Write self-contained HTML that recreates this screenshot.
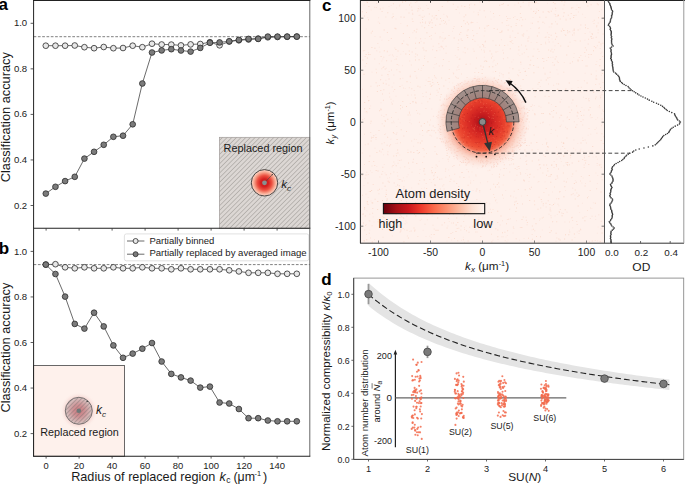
<!DOCTYPE html>
<html><head><meta charset="utf-8"><style>
html,body{margin:0;padding:0;background:#fff;}
body{width:685px;height:484px;overflow:hidden;}
svg{display:block;}
</style></head><body>
<svg width="685" height="484" viewBox="0 0 685 484" font-family='"Liberation Sans", sans-serif'>
<defs>
<pattern id="hatchA" patternUnits="userSpaceOnUse" width="3.3" height="3.3" patternTransform="rotate(45)">
<rect width="3.3" height="3.3" fill="#dcd7d4"/><line x1="0.3" y1="0" x2="0.3" y2="3.3" stroke="#8e8986" stroke-width="0.5"/></pattern>
<pattern id="hatchB" patternUnits="userSpaceOnUse" width="3.0" height="3.0" patternTransform="rotate(45)">
<line x1="0.3" y1="0" x2="0.3" y2="3.0" stroke="#746a6a" stroke-width="0.5"/></pattern>
<radialGradient id="spot" cx="0.5" cy="0.5" r="0.5">
<stop offset="0" stop-color="#c41a1c"/><stop offset="0.3" stop-color="#d42020"/><stop offset="0.55" stop-color="#ec5040"/><stop offset="0.8" stop-color="#f8a890"/><stop offset="1" stop-color="#fcdccf"/></radialGradient>
<radialGradient id="spotB" cx="0.5" cy="0.5" r="0.5">
<stop offset="0" stop-color="#d83038"/><stop offset="0.3" stop-color="#e06068"/><stop offset="0.55" stop-color="#eca8a8"/><stop offset="0.72" stop-color="#f6d8d4"/><stop offset="1" stop-color="#fef1ec" stop-opacity="0"/></radialGradient>
<radialGradient id="cloud" cx="0.5" cy="0.5" r="0.5">
<stop offset="0.000" stop-color="#a81419"/><stop offset="0.083" stop-color="#b5161b"/><stop offset="0.167" stop-color="#c71d1f"/><stop offset="0.250" stop-color="#d42723"/><stop offset="0.354" stop-color="#df3327"/><stop offset="0.458" stop-color="#e8412d"/><stop offset="0.542" stop-color="#ee5136"/><stop offset="0.604" stop-color="#f26a4d"/><stop offset="0.646" stop-color="#f59a84"/><stop offset="0.708" stop-color="#f9bfae"/><stop offset="0.792" stop-color="#fcd9cd"/><stop offset="0.896" stop-color="#fde9e2"/><stop offset="1" stop-color="#fef1ec" stop-opacity="0"/></radialGradient>
<linearGradient id="cbar" x1="0" x2="1" y1="0" y2="0">
<stop offset="0" stop-color="#67000d"/><stop offset="0.125" stop-color="#a50f15"/><stop offset="0.25" stop-color="#cb181d"/><stop offset="0.375" stop-color="#ef3b2c"/><stop offset="0.5" stop-color="#fb6a4a"/><stop offset="0.625" stop-color="#fc9272"/><stop offset="0.75" stop-color="#fcbba1"/><stop offset="0.875" stop-color="#fee0d2"/><stop offset="1" stop-color="#fff5f0"/></linearGradient>
</defs>
<rect width="685" height="484" fill="#ffffff"/>
<rect x="219.4" y="137.3" width="90.4" height="91" fill="url(#hatchA)" stroke="#a09b99" stroke-width="0.7"/>
<circle cx="264.5" cy="182.8" r="13.2" fill="url(#spot)" stroke="#1e1e1e" stroke-width="0.8"/>
<line x1="264.5" y1="182.8" x2="272.3" y2="174.6" stroke="#444" stroke-width="0.6" />
<circle cx="272.3" cy="174.6" r="0.7" fill="#333"/>
<circle cx="264.5" cy="182.8" r="2.4" fill="#889090"/>
<text x="223.6" y="151.8" font-size="10.7" text-anchor="start" font-weight="normal" font-style="normal" fill="#1a1a1a" textLength="79" lengthAdjust="spacingAndGlyphs" >Replaced region</text>
<text x="281.3" y="187.7" font-size="11.7" text-anchor="start" font-weight="normal" font-style="italic" fill="#1a1a1a" >k</text>
<text x="287.1" y="190.6" font-size="8" text-anchor="start" font-weight="normal" font-style="italic" fill="#1a1a1a" >c</text>
<line x1="33.6" y1="36.7" x2="309.8" y2="36.7" stroke="#555" stroke-width="0.75" stroke-dasharray="2.7,1.6"/>
<polyline points="45.8,45.7 55.45,45.7 65.11,45.7 74.76,45.5 84.42,47.2 94.07,48.2 103.72,47 113.38,48.2 123.03,48 132.69,45.7 142.34,47.2 151.99,43.7 161.65,44.5 171.3,44.6 180.96,45.4 190.61,44.4 200.26,44 209.92,42.2 219.57,45.3 229.23,41.5 238.88,40.3 248.53,39.5 258.19,38.6 267.84,37.3 277.5,37 287.15,36.8 296.8,36.6" fill="none" stroke="#3a3a3a" stroke-width="0.75" />
<circle cx="45.8" cy="45.7" r="2.85" fill="#e7e7e7" stroke="#2b2b2b" stroke-width="0.8"/>
<circle cx="55.45" cy="45.7" r="2.85" fill="#e7e7e7" stroke="#2b2b2b" stroke-width="0.8"/>
<circle cx="65.11" cy="45.7" r="2.85" fill="#e7e7e7" stroke="#2b2b2b" stroke-width="0.8"/>
<circle cx="74.76" cy="45.5" r="2.85" fill="#e7e7e7" stroke="#2b2b2b" stroke-width="0.8"/>
<circle cx="84.42" cy="47.2" r="2.85" fill="#e7e7e7" stroke="#2b2b2b" stroke-width="0.8"/>
<circle cx="94.07" cy="48.2" r="2.85" fill="#e7e7e7" stroke="#2b2b2b" stroke-width="0.8"/>
<circle cx="103.72" cy="47" r="2.85" fill="#e7e7e7" stroke="#2b2b2b" stroke-width="0.8"/>
<circle cx="113.38" cy="48.2" r="2.85" fill="#e7e7e7" stroke="#2b2b2b" stroke-width="0.8"/>
<circle cx="123.03" cy="48" r="2.85" fill="#e7e7e7" stroke="#2b2b2b" stroke-width="0.8"/>
<circle cx="132.69" cy="45.7" r="2.85" fill="#e7e7e7" stroke="#2b2b2b" stroke-width="0.8"/>
<circle cx="142.34" cy="47.2" r="2.85" fill="#e7e7e7" stroke="#2b2b2b" stroke-width="0.8"/>
<circle cx="151.99" cy="43.7" r="2.85" fill="#e7e7e7" stroke="#2b2b2b" stroke-width="0.8"/>
<circle cx="161.65" cy="44.5" r="2.85" fill="#e7e7e7" stroke="#2b2b2b" stroke-width="0.8"/>
<circle cx="171.3" cy="44.6" r="2.85" fill="#e7e7e7" stroke="#2b2b2b" stroke-width="0.8"/>
<circle cx="180.96" cy="45.4" r="2.85" fill="#e7e7e7" stroke="#2b2b2b" stroke-width="0.8"/>
<circle cx="190.61" cy="44.4" r="2.85" fill="#e7e7e7" stroke="#2b2b2b" stroke-width="0.8"/>
<circle cx="200.26" cy="44" r="2.85" fill="#e7e7e7" stroke="#2b2b2b" stroke-width="0.8"/>
<circle cx="209.92" cy="42.2" r="2.85" fill="#e7e7e7" stroke="#2b2b2b" stroke-width="0.8"/>
<circle cx="219.57" cy="45.3" r="2.85" fill="#e7e7e7" stroke="#2b2b2b" stroke-width="0.8"/>
<circle cx="229.23" cy="41.5" r="2.85" fill="#e7e7e7" stroke="#2b2b2b" stroke-width="0.8"/>
<circle cx="238.88" cy="40.3" r="2.85" fill="#e7e7e7" stroke="#2b2b2b" stroke-width="0.8"/>
<circle cx="248.53" cy="39.5" r="2.85" fill="#e7e7e7" stroke="#2b2b2b" stroke-width="0.8"/>
<circle cx="258.19" cy="38.6" r="2.85" fill="#e7e7e7" stroke="#2b2b2b" stroke-width="0.8"/>
<circle cx="267.84" cy="37.3" r="2.85" fill="#e7e7e7" stroke="#2b2b2b" stroke-width="0.8"/>
<circle cx="277.5" cy="37" r="2.85" fill="#e7e7e7" stroke="#2b2b2b" stroke-width="0.8"/>
<circle cx="287.15" cy="36.8" r="2.85" fill="#e7e7e7" stroke="#2b2b2b" stroke-width="0.8"/>
<circle cx="296.8" cy="36.6" r="2.85" fill="#e7e7e7" stroke="#2b2b2b" stroke-width="0.8"/>
<polyline points="45.8,193.6 55.45,186.8 65.11,181.1 74.76,176.8 84.42,158.6 94.07,151.8 103.72,144.8 113.38,136.8 123.03,135.7 132.69,124.3 142.34,83.5 151.99,52.5 161.65,50.4 171.3,49.2 180.96,50.5 190.61,51.6 200.26,47.9 209.92,42.8 219.57,42.4 229.23,41.3 238.88,39.9 248.53,38.9 258.19,38.9 267.84,36.6 277.5,36.6 287.15,36.6 296.8,36.6" fill="none" stroke="#3a3a3a" stroke-width="0.75" />
<circle cx="45.8" cy="193.6" r="2.85" fill="#7b7b7b" stroke="#2b2b2b" stroke-width="0.8"/>
<circle cx="55.45" cy="186.8" r="2.85" fill="#7b7b7b" stroke="#2b2b2b" stroke-width="0.8"/>
<circle cx="65.11" cy="181.1" r="2.85" fill="#7b7b7b" stroke="#2b2b2b" stroke-width="0.8"/>
<circle cx="74.76" cy="176.8" r="2.85" fill="#7b7b7b" stroke="#2b2b2b" stroke-width="0.8"/>
<circle cx="84.42" cy="158.6" r="2.85" fill="#7b7b7b" stroke="#2b2b2b" stroke-width="0.8"/>
<circle cx="94.07" cy="151.8" r="2.85" fill="#7b7b7b" stroke="#2b2b2b" stroke-width="0.8"/>
<circle cx="103.72" cy="144.8" r="2.85" fill="#7b7b7b" stroke="#2b2b2b" stroke-width="0.8"/>
<circle cx="113.38" cy="136.8" r="2.85" fill="#7b7b7b" stroke="#2b2b2b" stroke-width="0.8"/>
<circle cx="123.03" cy="135.7" r="2.85" fill="#7b7b7b" stroke="#2b2b2b" stroke-width="0.8"/>
<circle cx="132.69" cy="124.3" r="2.85" fill="#7b7b7b" stroke="#2b2b2b" stroke-width="0.8"/>
<circle cx="142.34" cy="83.5" r="2.85" fill="#7b7b7b" stroke="#2b2b2b" stroke-width="0.8"/>
<circle cx="151.99" cy="52.5" r="2.85" fill="#7b7b7b" stroke="#2b2b2b" stroke-width="0.8"/>
<circle cx="161.65" cy="50.4" r="2.85" fill="#7b7b7b" stroke="#2b2b2b" stroke-width="0.8"/>
<circle cx="171.3" cy="49.2" r="2.85" fill="#7b7b7b" stroke="#2b2b2b" stroke-width="0.8"/>
<circle cx="180.96" cy="50.5" r="2.85" fill="#7b7b7b" stroke="#2b2b2b" stroke-width="0.8"/>
<circle cx="190.61" cy="51.6" r="2.85" fill="#7b7b7b" stroke="#2b2b2b" stroke-width="0.8"/>
<circle cx="200.26" cy="47.9" r="2.85" fill="#7b7b7b" stroke="#2b2b2b" stroke-width="0.8"/>
<circle cx="209.92" cy="42.8" r="2.85" fill="#7b7b7b" stroke="#2b2b2b" stroke-width="0.8"/>
<circle cx="219.57" cy="42.4" r="2.85" fill="#7b7b7b" stroke="#2b2b2b" stroke-width="0.8"/>
<circle cx="229.23" cy="41.3" r="2.85" fill="#7b7b7b" stroke="#2b2b2b" stroke-width="0.8"/>
<circle cx="238.88" cy="39.9" r="2.85" fill="#7b7b7b" stroke="#2b2b2b" stroke-width="0.8"/>
<circle cx="248.53" cy="38.9" r="2.85" fill="#7b7b7b" stroke="#2b2b2b" stroke-width="0.8"/>
<circle cx="258.19" cy="38.9" r="2.85" fill="#7b7b7b" stroke="#2b2b2b" stroke-width="0.8"/>
<circle cx="267.84" cy="36.6" r="2.85" fill="#7b7b7b" stroke="#2b2b2b" stroke-width="0.8"/>
<circle cx="277.5" cy="36.6" r="2.85" fill="#7b7b7b" stroke="#2b2b2b" stroke-width="0.8"/>
<circle cx="287.15" cy="36.6" r="2.85" fill="#7b7b7b" stroke="#2b2b2b" stroke-width="0.8"/>
<circle cx="296.8" cy="36.6" r="2.85" fill="#7b7b7b" stroke="#2b2b2b" stroke-width="0.8"/>
<line x1="33.6" y1="0" x2="33.6" y2="228.3" stroke="#222" stroke-width="1" />
<line x1="309.8" y1="0" x2="309.8" y2="228.3" stroke="#555" stroke-width="0.9" />
<line x1="33.1" y1="0.4" x2="310.3" y2="0.4" stroke="#222" stroke-width="1.1" />
<line x1="33.1" y1="228.3" x2="310.3" y2="228.3" stroke="#222" stroke-width="1.1" />
<line x1="30.6" y1="23.3" x2="33.6" y2="23.3" stroke="#333" stroke-width="0.8" />
<text x="27.2" y="26.3" font-size="8.7" text-anchor="end" font-weight="normal" font-style="normal" fill="#222" textLength="13.3" lengthAdjust="spacingAndGlyphs" >1.0</text>
<line x1="30.6" y1="68.85" x2="33.6" y2="68.85" stroke="#333" stroke-width="0.8" />
<text x="27.2" y="71.85" font-size="8.7" text-anchor="end" font-weight="normal" font-style="normal" fill="#222" textLength="13.3" lengthAdjust="spacingAndGlyphs" >0.8</text>
<line x1="30.6" y1="114.4" x2="33.6" y2="114.4" stroke="#333" stroke-width="0.8" />
<text x="27.2" y="117.4" font-size="8.7" text-anchor="end" font-weight="normal" font-style="normal" fill="#222" textLength="13.3" lengthAdjust="spacingAndGlyphs" >0.6</text>
<line x1="30.6" y1="159.95" x2="33.6" y2="159.95" stroke="#333" stroke-width="0.8" />
<text x="27.2" y="162.95" font-size="8.7" text-anchor="end" font-weight="normal" font-style="normal" fill="#222" textLength="13.3" lengthAdjust="spacingAndGlyphs" >0.4</text>
<line x1="30.6" y1="205.5" x2="33.6" y2="205.5" stroke="#333" stroke-width="0.8" />
<text x="27.2" y="208.5" font-size="8.7" text-anchor="end" font-weight="normal" font-style="normal" fill="#222" textLength="13.3" lengthAdjust="spacingAndGlyphs" >0.2</text>
<line x1="46.1" y1="228.3" x2="46.1" y2="230.6" stroke="#333" stroke-width="0.8" />
<line x1="79.1" y1="228.3" x2="79.1" y2="230.6" stroke="#333" stroke-width="0.8" />
<line x1="112.1" y1="228.3" x2="112.1" y2="230.6" stroke="#333" stroke-width="0.8" />
<line x1="145.1" y1="228.3" x2="145.1" y2="230.6" stroke="#333" stroke-width="0.8" />
<line x1="178.1" y1="228.3" x2="178.1" y2="230.6" stroke="#333" stroke-width="0.8" />
<line x1="211.1" y1="228.3" x2="211.1" y2="230.6" stroke="#333" stroke-width="0.8" />
<line x1="244.1" y1="228.3" x2="244.1" y2="230.6" stroke="#333" stroke-width="0.8" />
<line x1="277.1" y1="228.3" x2="277.1" y2="230.6" stroke="#333" stroke-width="0.8" />
<text x="-1.6" y="9.7" font-size="17" text-anchor="start" font-weight="bold" font-style="normal" fill="#000" >a</text>
<text transform="translate(10.3,182.2) rotate(-90)" x="0" y="0" font-size="12.4" fill="#1a1a1a" text-anchor="start" textLength="130" lengthAdjust="spacingAndGlyphs">Classification accuracy</text>
<rect x="33.6" y="365.6" width="91" height="90.7" fill="#fef1ec" stroke="#444" stroke-width="0.8"/>
<circle cx="78.8" cy="410.8" r="19" fill="url(#spotB)"/>
<circle cx="78.8" cy="410.8" r="13.5" fill="#c0b8b8" fill-opacity="0.55" stroke="#555" stroke-width="0.75"/>
<circle cx="78.8" cy="410.8" r="13.5" fill="url(#hatchB)" />
<circle cx="87.2" cy="401.4" r="0.7" fill="#333"/>
<circle cx="78.8" cy="410.8" r="2.3" fill="#6f7878"/>
<text x="96.1" y="414.3" font-size="12" text-anchor="start" font-weight="normal" font-style="italic" fill="#1a1a1a" >k</text>
<text x="101.9" y="416.7" font-size="8" text-anchor="start" font-weight="normal" font-style="italic" fill="#1a1a1a" >c</text>
<text x="40.2" y="435.9" font-size="10.7" text-anchor="start" font-weight="normal" font-style="normal" fill="#1a1a1a" textLength="78.6" lengthAdjust="spacingAndGlyphs" >Replaced region</text>
<line x1="33.6" y1="264.6" x2="309.8" y2="264.6" stroke="#555" stroke-width="0.75" stroke-dasharray="2.7,1.6"/>
<polyline points="45.8,264.6 55.45,264.2 65.11,267.3 74.76,268.3 84.42,267.3 94.07,268.3 103.72,268.3 113.38,267.3 123.03,268.3 132.69,268.3 142.34,267.3 151.99,268.3 161.65,268.3 171.3,269.3 180.96,268.3 190.61,269.3 200.26,269.3 209.92,269.3 219.57,269.3 229.23,270.3 238.88,271.4 248.53,272.8 258.19,272.8 267.84,272.8 277.5,273.8 287.15,273.8 296.8,273.8" fill="none" stroke="#3a3a3a" stroke-width="0.75" />
<circle cx="45.8" cy="264.6" r="2.85" fill="#e7e7e7" stroke="#2b2b2b" stroke-width="0.8"/>
<circle cx="55.45" cy="264.2" r="2.85" fill="#e7e7e7" stroke="#2b2b2b" stroke-width="0.8"/>
<circle cx="65.11" cy="267.3" r="2.85" fill="#e7e7e7" stroke="#2b2b2b" stroke-width="0.8"/>
<circle cx="74.76" cy="268.3" r="2.85" fill="#e7e7e7" stroke="#2b2b2b" stroke-width="0.8"/>
<circle cx="84.42" cy="267.3" r="2.85" fill="#e7e7e7" stroke="#2b2b2b" stroke-width="0.8"/>
<circle cx="94.07" cy="268.3" r="2.85" fill="#e7e7e7" stroke="#2b2b2b" stroke-width="0.8"/>
<circle cx="103.72" cy="268.3" r="2.85" fill="#e7e7e7" stroke="#2b2b2b" stroke-width="0.8"/>
<circle cx="113.38" cy="267.3" r="2.85" fill="#e7e7e7" stroke="#2b2b2b" stroke-width="0.8"/>
<circle cx="123.03" cy="268.3" r="2.85" fill="#e7e7e7" stroke="#2b2b2b" stroke-width="0.8"/>
<circle cx="132.69" cy="268.3" r="2.85" fill="#e7e7e7" stroke="#2b2b2b" stroke-width="0.8"/>
<circle cx="142.34" cy="267.3" r="2.85" fill="#e7e7e7" stroke="#2b2b2b" stroke-width="0.8"/>
<circle cx="151.99" cy="268.3" r="2.85" fill="#e7e7e7" stroke="#2b2b2b" stroke-width="0.8"/>
<circle cx="161.65" cy="268.3" r="2.85" fill="#e7e7e7" stroke="#2b2b2b" stroke-width="0.8"/>
<circle cx="171.3" cy="269.3" r="2.85" fill="#e7e7e7" stroke="#2b2b2b" stroke-width="0.8"/>
<circle cx="180.96" cy="268.3" r="2.85" fill="#e7e7e7" stroke="#2b2b2b" stroke-width="0.8"/>
<circle cx="190.61" cy="269.3" r="2.85" fill="#e7e7e7" stroke="#2b2b2b" stroke-width="0.8"/>
<circle cx="200.26" cy="269.3" r="2.85" fill="#e7e7e7" stroke="#2b2b2b" stroke-width="0.8"/>
<circle cx="209.92" cy="269.3" r="2.85" fill="#e7e7e7" stroke="#2b2b2b" stroke-width="0.8"/>
<circle cx="219.57" cy="269.3" r="2.85" fill="#e7e7e7" stroke="#2b2b2b" stroke-width="0.8"/>
<circle cx="229.23" cy="270.3" r="2.85" fill="#e7e7e7" stroke="#2b2b2b" stroke-width="0.8"/>
<circle cx="238.88" cy="271.4" r="2.85" fill="#e7e7e7" stroke="#2b2b2b" stroke-width="0.8"/>
<circle cx="248.53" cy="272.8" r="2.85" fill="#e7e7e7" stroke="#2b2b2b" stroke-width="0.8"/>
<circle cx="258.19" cy="272.8" r="2.85" fill="#e7e7e7" stroke="#2b2b2b" stroke-width="0.8"/>
<circle cx="267.84" cy="272.8" r="2.85" fill="#e7e7e7" stroke="#2b2b2b" stroke-width="0.8"/>
<circle cx="277.5" cy="273.8" r="2.85" fill="#e7e7e7" stroke="#2b2b2b" stroke-width="0.8"/>
<circle cx="287.15" cy="273.8" r="2.85" fill="#e7e7e7" stroke="#2b2b2b" stroke-width="0.8"/>
<circle cx="296.8" cy="273.8" r="2.85" fill="#e7e7e7" stroke="#2b2b2b" stroke-width="0.8"/>
<polyline points="45.8,264.6 55.45,274 65.11,296.6 74.76,323.9 84.42,328.6 94.07,312.7 103.72,326.4 113.38,345.4 123.03,357.8 132.69,353.6 142.34,348.7 151.99,343 161.65,361.5 171.3,373.9 180.96,377.4 190.61,380.6 200.26,387.6 209.92,386.6 219.57,402.5 229.23,403.5 238.88,409 248.53,418.2 258.19,418.2 267.84,420.5 277.5,421.3 287.15,421.3 296.8,421.3" fill="none" stroke="#3a3a3a" stroke-width="0.75" />
<circle cx="45.8" cy="264.6" r="2.85" fill="#7b7b7b" stroke="#2b2b2b" stroke-width="0.8"/>
<circle cx="55.45" cy="274" r="2.85" fill="#7b7b7b" stroke="#2b2b2b" stroke-width="0.8"/>
<circle cx="65.11" cy="296.6" r="2.85" fill="#7b7b7b" stroke="#2b2b2b" stroke-width="0.8"/>
<circle cx="74.76" cy="323.9" r="2.85" fill="#7b7b7b" stroke="#2b2b2b" stroke-width="0.8"/>
<circle cx="84.42" cy="328.6" r="2.85" fill="#7b7b7b" stroke="#2b2b2b" stroke-width="0.8"/>
<circle cx="94.07" cy="312.7" r="2.85" fill="#7b7b7b" stroke="#2b2b2b" stroke-width="0.8"/>
<circle cx="103.72" cy="326.4" r="2.85" fill="#7b7b7b" stroke="#2b2b2b" stroke-width="0.8"/>
<circle cx="113.38" cy="345.4" r="2.85" fill="#7b7b7b" stroke="#2b2b2b" stroke-width="0.8"/>
<circle cx="123.03" cy="357.8" r="2.85" fill="#7b7b7b" stroke="#2b2b2b" stroke-width="0.8"/>
<circle cx="132.69" cy="353.6" r="2.85" fill="#7b7b7b" stroke="#2b2b2b" stroke-width="0.8"/>
<circle cx="142.34" cy="348.7" r="2.85" fill="#7b7b7b" stroke="#2b2b2b" stroke-width="0.8"/>
<circle cx="151.99" cy="343" r="2.85" fill="#7b7b7b" stroke="#2b2b2b" stroke-width="0.8"/>
<circle cx="161.65" cy="361.5" r="2.85" fill="#7b7b7b" stroke="#2b2b2b" stroke-width="0.8"/>
<circle cx="171.3" cy="373.9" r="2.85" fill="#7b7b7b" stroke="#2b2b2b" stroke-width="0.8"/>
<circle cx="180.96" cy="377.4" r="2.85" fill="#7b7b7b" stroke="#2b2b2b" stroke-width="0.8"/>
<circle cx="190.61" cy="380.6" r="2.85" fill="#7b7b7b" stroke="#2b2b2b" stroke-width="0.8"/>
<circle cx="200.26" cy="387.6" r="2.85" fill="#7b7b7b" stroke="#2b2b2b" stroke-width="0.8"/>
<circle cx="209.92" cy="386.6" r="2.85" fill="#7b7b7b" stroke="#2b2b2b" stroke-width="0.8"/>
<circle cx="219.57" cy="402.5" r="2.85" fill="#7b7b7b" stroke="#2b2b2b" stroke-width="0.8"/>
<circle cx="229.23" cy="403.5" r="2.85" fill="#7b7b7b" stroke="#2b2b2b" stroke-width="0.8"/>
<circle cx="238.88" cy="409" r="2.85" fill="#7b7b7b" stroke="#2b2b2b" stroke-width="0.8"/>
<circle cx="248.53" cy="418.2" r="2.85" fill="#7b7b7b" stroke="#2b2b2b" stroke-width="0.8"/>
<circle cx="258.19" cy="418.2" r="2.85" fill="#7b7b7b" stroke="#2b2b2b" stroke-width="0.8"/>
<circle cx="267.84" cy="420.5" r="2.85" fill="#7b7b7b" stroke="#2b2b2b" stroke-width="0.8"/>
<circle cx="277.5" cy="421.3" r="2.85" fill="#7b7b7b" stroke="#2b2b2b" stroke-width="0.8"/>
<circle cx="287.15" cy="421.3" r="2.85" fill="#7b7b7b" stroke="#2b2b2b" stroke-width="0.8"/>
<circle cx="296.8" cy="421.3" r="2.85" fill="#7b7b7b" stroke="#2b2b2b" stroke-width="0.8"/>
<rect x="124.4" y="233.9" width="184.4" height="26.9" rx="2" ry="2" fill="#ffffff" fill-opacity="0.85" stroke="#d9d9d9" stroke-width="0.8"/>
<line x1="127" y1="241" x2="144.4" y2="241" stroke="#3a3a3a" stroke-width="0.75" />
<circle cx="135.6" cy="241" r="2.5" fill="#e7e7e7" stroke="#2b2b2b" stroke-width="0.8"/>
<line x1="127" y1="254.2" x2="144.4" y2="254.2" stroke="#3a3a3a" stroke-width="0.75" />
<circle cx="135.6" cy="254.2" r="2.5" fill="#7b7b7b" stroke="#2b2b2b" stroke-width="0.8"/>
<text x="149.4" y="243.8" font-size="9.45" text-anchor="start" font-weight="normal" font-style="normal" fill="#1a1a1a" textLength="65" lengthAdjust="spacingAndGlyphs" >Partially binned</text>
<text x="149.4" y="255.8" font-size="9.45" text-anchor="start" font-weight="normal" font-style="normal" fill="#1a1a1a" textLength="157.2" lengthAdjust="spacingAndGlyphs" >Partially replaced by averaged image</text>
<line x1="33.6" y1="228.3" x2="33.6" y2="456.3" stroke="#222" stroke-width="1" />
<line x1="309.8" y1="228.3" x2="309.8" y2="456.3" stroke="#555" stroke-width="0.9" />
<line x1="33.1" y1="456.3" x2="310.3" y2="456.3" stroke="#222" stroke-width="1.1" />
<line x1="30.6" y1="251.4" x2="33.6" y2="251.4" stroke="#333" stroke-width="0.8" />
<text x="27.2" y="254.6" font-size="8.7" text-anchor="end" font-weight="normal" font-style="normal" fill="#222" textLength="13.3" lengthAdjust="spacingAndGlyphs" >1.0</text>
<line x1="30.6" y1="296.95" x2="33.6" y2="296.95" stroke="#333" stroke-width="0.8" />
<text x="27.2" y="300.15" font-size="8.7" text-anchor="end" font-weight="normal" font-style="normal" fill="#222" textLength="13.3" lengthAdjust="spacingAndGlyphs" >0.8</text>
<line x1="30.6" y1="342.5" x2="33.6" y2="342.5" stroke="#333" stroke-width="0.8" />
<text x="27.2" y="345.7" font-size="8.7" text-anchor="end" font-weight="normal" font-style="normal" fill="#222" textLength="13.3" lengthAdjust="spacingAndGlyphs" >0.6</text>
<line x1="30.6" y1="388.05" x2="33.6" y2="388.05" stroke="#333" stroke-width="0.8" />
<text x="27.2" y="391.25" font-size="8.7" text-anchor="end" font-weight="normal" font-style="normal" fill="#222" textLength="13.3" lengthAdjust="spacingAndGlyphs" >0.4</text>
<line x1="30.6" y1="433.6" x2="33.6" y2="433.6" stroke="#333" stroke-width="0.8" />
<text x="27.2" y="436.8" font-size="8.7" text-anchor="end" font-weight="normal" font-style="normal" fill="#222" textLength="13.3" lengthAdjust="spacingAndGlyphs" >0.2</text>
<line x1="46.1" y1="456.3" x2="46.1" y2="458.6" stroke="#333" stroke-width="0.8" />
<text x="46.1" y="468.5" font-size="8.6" text-anchor="middle" font-weight="normal" font-style="normal" fill="#222" textLength="5.2" lengthAdjust="spacingAndGlyphs" >0</text>
<line x1="79.1" y1="456.3" x2="79.1" y2="458.6" stroke="#333" stroke-width="0.8" />
<text x="79.1" y="468.5" font-size="8.6" text-anchor="middle" font-weight="normal" font-style="normal" fill="#222" textLength="10.5" lengthAdjust="spacingAndGlyphs" >20</text>
<line x1="112.1" y1="456.3" x2="112.1" y2="458.6" stroke="#333" stroke-width="0.8" />
<text x="112.1" y="468.5" font-size="8.6" text-anchor="middle" font-weight="normal" font-style="normal" fill="#222" textLength="10.5" lengthAdjust="spacingAndGlyphs" >40</text>
<line x1="145.1" y1="456.3" x2="145.1" y2="458.6" stroke="#333" stroke-width="0.8" />
<text x="145.1" y="468.5" font-size="8.6" text-anchor="middle" font-weight="normal" font-style="normal" fill="#222" textLength="10.5" lengthAdjust="spacingAndGlyphs" >60</text>
<line x1="178.1" y1="456.3" x2="178.1" y2="458.6" stroke="#333" stroke-width="0.8" />
<text x="178.1" y="468.5" font-size="8.6" text-anchor="middle" font-weight="normal" font-style="normal" fill="#222" textLength="10.5" lengthAdjust="spacingAndGlyphs" >80</text>
<line x1="211.1" y1="456.3" x2="211.1" y2="458.6" stroke="#333" stroke-width="0.8" />
<text x="211.1" y="468.5" font-size="8.6" text-anchor="middle" font-weight="normal" font-style="normal" fill="#222" textLength="15.8" lengthAdjust="spacingAndGlyphs" >100</text>
<line x1="244.1" y1="456.3" x2="244.1" y2="458.6" stroke="#333" stroke-width="0.8" />
<text x="244.1" y="468.5" font-size="8.6" text-anchor="middle" font-weight="normal" font-style="normal" fill="#222" textLength="15.8" lengthAdjust="spacingAndGlyphs" >120</text>
<line x1="277.1" y1="456.3" x2="277.1" y2="458.6" stroke="#333" stroke-width="0.8" />
<text x="277.1" y="468.5" font-size="8.6" text-anchor="middle" font-weight="normal" font-style="normal" fill="#222" textLength="15.8" lengthAdjust="spacingAndGlyphs" >140</text>
<text x="-1.3" y="254.3" font-size="17" text-anchor="start" font-weight="bold" font-style="normal" fill="#000" >b</text>
<text transform="translate(10.3,412.6) rotate(-90)" x="0" y="0" font-size="12.4" fill="#1a1a1a" text-anchor="start" textLength="130" lengthAdjust="spacingAndGlyphs">Classification accuracy</text>
<text x="71.2" y="480.6" font-size="12.6" text-anchor="start" font-weight="normal" font-style="normal" fill="#1a1a1a" textLength="144.2" lengthAdjust="spacingAndGlyphs" >Radius of replaced region</text>
<text x="219.6" y="480.6" font-size="12.6" text-anchor="start" font-weight="normal" font-style="italic" fill="#1a1a1a" >k</text>
<text x="226.3" y="482.7" font-size="8.6" text-anchor="start" font-weight="normal" font-style="normal" fill="#1a1a1a" >c</text>
<text x="233.4" y="480.6" font-size="12.6" text-anchor="start" font-weight="normal" font-style="normal" fill="#1a1a1a" textLength="21.6" lengthAdjust="spacingAndGlyphs" >(μm</text>
<text x="254.6" y="476.1" font-size="7.4" text-anchor="start" font-weight="normal" font-style="normal" fill="#1a1a1a" >-1</text>
<text x="262.9" y="480.6" font-size="12.6" text-anchor="start" font-weight="normal" font-style="normal" fill="#1a1a1a" >)</text>
<rect x="360.4" y="0" width="244.1" height="243.2" fill="#fef1ec"/>
<path d="M439.4 37.4h1v1h-1zM370.1 105.5h1v1h-1zM419.2 133.8h1v1h-1zM513.6 141.5h1v1h-1zM496.6 165.4h1v1h-1zM384.6 172.6h1v1h-1zM430.7 237.2h1v1h-1zM397.8 118.8h1v1h-1zM501.3 110.9h1v1h-1zM589.6 115.3h1v1h-1zM397.6 159.7h1v1h-1zM528.1 125.2h1v1h-1zM514.5 16.0h1v1h-1zM599.3 107.2h1v1h-1zM443.3 13.7h1v1h-1zM476.8 167.8h1v1h-1zM396.5 131.9h1v1h-1zM544.5 72.8h1v1h-1zM409.4 119.8h1v1h-1zM410.5 151.4h1v1h-1zM477.0 158.4h1v1h-1zM473.1 180.1h1v1h-1zM366.2 193.6h1v1h-1zM489.7 127.2h1v1h-1zM572.2 188.1h1v1h-1zM475.6 175.8h1v1h-1zM550.8 26.6h1v1h-1zM421.1 67.7h1v1h-1zM483.9 136.4h1v1h-1zM564.3 34.0h1v1h-1zM495.1 107.2h1v1h-1zM530.5 22.6h1v1h-1zM554.5 45.2h1v1h-1zM426.1 5.1h1v1h-1zM371.5 172.0h1v1h-1zM555.5 240.7h1v1h-1zM458.9 84.8h1v1h-1zM505.9 167.9h1v1h-1zM421.1 188.1h1v1h-1zM581.2 182.4h1v1h-1zM479.4 1.8h1v1h-1zM542.1 122.2h1v1h-1zM473.4 113.4h1v1h-1zM597.7 226.6h1v1h-1zM461.7 91.6h1v1h-1zM585.0 183.1h1v1h-1zM551.0 104.1h1v1h-1zM452.2 82.5h1v1h-1zM566.4 211.4h1v1h-1zM595.3 119.0h1v1h-1zM596.3 60.9h1v1h-1zM415.2 37.6h1v1h-1zM381.6 188.2h1v1h-1zM550.3 57.1h1v1h-1zM530.1 28.0h1v1h-1zM454.9 54.9h1v1h-1zM584.9 55.7h1v1h-1zM577.9 117.9h1v1h-1zM380.5 102.3h1v1h-1zM370.8 9.4h1v1h-1zM448.8 81.7h1v1h-1zM584.7 72.7h1v1h-1zM393.1 120.7h1v1h-1zM472.5 189.9h1v1h-1zM420.8 16.6h1v1h-1zM598.2 213.9h1v1h-1zM425.1 21.3h1v1h-1zM511.1 163.5h1v1h-1zM483.8 56.8h1v1h-1zM519.1 239.8h1v1h-1zM564.4 221.4h1v1h-1zM573.2 57.1h1v1h-1zM469.7 63.6h1v1h-1zM371.7 242.0h1v1h-1zM493.6 16.2h1v1h-1zM522.6 101.7h1v1h-1zM516.0 220.3h1v1h-1zM434.0 202.8h1v1h-1zM597.1 117.3h1v1h-1zM508.1 154.4h1v1h-1zM370.9 136.5h1v1h-1zM482.9 44.1h1v1h-1zM449.4 194.3h1v1h-1zM549.2 124.3h1v1h-1zM367.3 17.0h1v1h-1zM552.7 64.7h1v1h-1zM495.4 140.8h1v1h-1zM403.8 180.2h1v1h-1zM462.1 88.7h1v1h-1zM392.9 55.8h1v1h-1zM532.2 109.7h1v1h-1zM458.3 64.7h1v1h-1zM421.1 218.7h1v1h-1zM418.5 15.1h1v1h-1zM475.3 128.9h1v1h-1zM396.0 7.5h1v1h-1zM528.6 153.8h1v1h-1zM409.2 231.1h1v1h-1zM386.9 50.6h1v1h-1zM369.2 229.8h1v1h-1zM567.0 150.0h1v1h-1zM552.0 8.5h1v1h-1zM430.8 181.9h1v1h-1zM387.6 154.4h1v1h-1zM479.7 239.9h1v1h-1zM585.7 215.9h1v1h-1zM589.4 31.6h1v1h-1zM440.4 46.6h1v1h-1zM411.0 94.6h1v1h-1zM465.7 63.6h1v1h-1zM566.6 117.3h1v1h-1zM577.5 80.1h1v1h-1zM455.1 119.1h1v1h-1zM491.9 173.9h1v1h-1zM600.6 45.3h1v1h-1zM537.4 149.0h1v1h-1zM422.1 93.0h1v1h-1zM412.3 32.2h1v1h-1zM477.1 104.3h1v1h-1zM514.2 4.6h1v1h-1zM552.6 41.5h1v1h-1zM408.8 168.0h1v1h-1zM540.5 106.7h1v1h-1zM561.1 115.1h1v1h-1zM420.7 40.7h1v1h-1zM464.0 242.0h1v1h-1zM404.7 87.9h1v1h-1zM478.3 217.3h1v1h-1zM596.9 158.7h1v1h-1zM391.9 235.4h1v1h-1zM510.2 152.1h1v1h-1zM571.3 102.6h1v1h-1zM405.7 9.3h1v1h-1zM465.2 155.7h1v1h-1zM481.5 126.8h1v1h-1zM476.1 100.4h1v1h-1zM512.7 103.9h1v1h-1zM526.5 30.3h1v1h-1zM470.1 180.4h1v1h-1zM582.1 13.7h1v1h-1zM363.8 4.5h1v1h-1zM592.8 202.2h1v1h-1zM474.7 41.1h1v1h-1zM571.4 175.9h1v1h-1zM556.4 69.3h1v1h-1zM503.0 197.7h1v1h-1zM551.5 38.6h1v1h-1zM444.5 126.2h1v1h-1zM601.7 92.1h1v1h-1zM478.8 204.8h1v1h-1zM569.8 155.2h1v1h-1zM375.3 134.2h1v1h-1zM374.5 35.9h1v1h-1zM503.7 107.3h1v1h-1zM467.8 195.6h1v1h-1zM474.2 220.9h1v1h-1zM399.0 201.7h1v1h-1zM579.6 28.5h1v1h-1zM496.5 202.3h1v1h-1zM533.2 48.4h1v1h-1zM502.1 49.8h1v1h-1zM528.5 126.2h1v1h-1zM369.9 170.2h1v1h-1zM447.2 225.6h1v1h-1zM549.5 210.2h1v1h-1zM421.6 197.9h1v1h-1zM487.5 170.3h1v1h-1zM502.8 184.5h1v1h-1zM528.9 144.9h1v1h-1zM558.2 205.3h1v1h-1zM421.3 102.7h1v1h-1zM449.2 128.9h1v1h-1zM439.5 49.4h1v1h-1zM548.9 226.8h1v1h-1zM556.8 214.1h1v1h-1zM583.1 151.3h1v1h-1zM511.3 61.4h1v1h-1zM573.6 53.1h1v1h-1zM547.9 39.2h1v1h-1zM507.6 84.9h1v1h-1zM462.1 189.9h1v1h-1zM576.7 231.4h1v1h-1zM470.6 3.5h1v1h-1zM528.4 180.9h1v1h-1zM402.3 77.7h1v1h-1zM560.9 124.5h1v1h-1zM375.6 137.2h1v1h-1zM446.5 240.5h1v1h-1zM528.4 3.6h1v1h-1zM435.2 167.5h1v1h-1zM582.9 96.8h1v1h-1zM500.0 100.1h1v1h-1zM396.2 125.9h1v1h-1zM560.2 148.7h1v1h-1zM402.0 65.3h1v1h-1zM569.0 229.4h1v1h-1zM366.4 210.2h1v1h-1zM442.3 158.0h1v1h-1zM418.4 9.4h1v1h-1zM572.1 30.6h1v1h-1zM436.2 95.0h1v1h-1zM438.7 160.7h1v1h-1zM407.7 174.2h1v1h-1zM533.4 10.7h1v1h-1zM579.1 211.9h1v1h-1zM596.7 165.1h1v1h-1zM492.6 61.2h1v1h-1zM401.7 84.7h1v1h-1zM364.0 118.3h1v1h-1zM387.8 75.4h1v1h-1zM431.1 135.4h1v1h-1zM519.0 19.8h1v1h-1zM563.8 62.1h1v1h-1zM515.1 97.7h1v1h-1zM395.6 18.4h1v1h-1zM596.8 232.8h1v1h-1zM433.4 83.8h1v1h-1zM415.8 139.0h1v1h-1zM539.0 220.1h1v1h-1zM393.5 122.3h1v1h-1zM512.6 232.5h1v1h-1zM548.5 34.0h1v1h-1zM458.9 12.4h1v1h-1zM555.6 178.4h1v1h-1zM385.1 133.3h1v1h-1zM388.5 6.1h1v1h-1zM572.3 193.9h1v1h-1zM456.2 211.4h1v1h-1zM577.3 143.0h1v1h-1zM601.1 9.2h1v1h-1zM572.1 187.6h1v1h-1zM572.2 227.2h1v1h-1zM378.8 46.8h1v1h-1zM418.3 5.8h1v1h-1zM403.2 209.1h1v1h-1zM497.5 239.0h1v1h-1zM395.5 185.9h1v1h-1zM544.1 22.7h1v1h-1zM472.3 79.0h1v1h-1zM387.1 177.7h1v1h-1zM567.0 178.3h1v1h-1zM397.5 178.4h1v1h-1zM574.4 237.1h1v1h-1zM502.6 49.5h1v1h-1zM500.1 169.3h1v1h-1zM372.7 216.5h1v1h-1zM595.9 127.6h1v1h-1zM514.2 132.5h1v1h-1zM489.2 203.3h1v1h-1zM364.7 65.8h1v1h-1zM425.7 79.5h1v1h-1zM574.4 194.7h1v1h-1zM560.8 160.9h1v1h-1zM565.0 189.9h1v1h-1zM493.8 77.1h1v1h-1zM404.0 229.3h1v1h-1zM431.3 108.5h1v1h-1zM422.2 135.0h1v1h-1zM383.1 154.3h1v1h-1zM510.5 90.6h1v1h-1zM534.6 91.6h1v1h-1zM376.3 50.0h1v1h-1zM488.2 120.7h1v1h-1zM479.9 124.3h1v1h-1zM389.6 54.2h1v1h-1zM438.6 46.9h1v1h-1zM471.5 171.4h1v1h-1zM537.5 3.1h1v1h-1zM527.0 38.3h1v1h-1zM398.7 71.1h1v1h-1zM465.0 164.6h1v1h-1zM602.1 227.4h1v1h-1zM478.3 209.2h1v1h-1zM501.1 73.3h1v1h-1zM505.1 112.2h1v1h-1zM448.0 160.7h1v1h-1zM434.4 64.0h1v1h-1zM474.2 40.5h1v1h-1zM576.5 4.6h1v1h-1zM398.2 64.7h1v1h-1zM463.6 151.4h1v1h-1zM431.7 215.6h1v1h-1zM505.1 189.9h1v1h-1zM532.5 17.1h1v1h-1zM488.2 80.5h1v1h-1zM542.0 144.1h1v1h-1zM573.4 139.6h1v1h-1zM560.8 98.9h1v1h-1zM396.3 132.4h1v1h-1zM446.6 204.5h1v1h-1zM521.0 195.5h1v1h-1zM588.0 195.9h1v1h-1zM528.4 5.3h1v1h-1zM537.4 181.7h1v1h-1zM590.5 117.3h1v1h-1zM406.4 222.2h1v1h-1zM512.8 59.3h1v1h-1zM462.8 236.7h1v1h-1zM562.7 120.5h1v1h-1zM409.6 195.6h1v1h-1zM598.3 214.5h1v1h-1zM401.2 43.5h1v1h-1zM393.3 82.6h1v1h-1zM584.7 17.1h1v1h-1zM482.1 217.5h1v1h-1zM509.2 67.3h1v1h-1zM383.7 163.9h1v1h-1zM448.1 169.6h1v1h-1zM503.8 144.6h1v1h-1zM370.6 200.4h1v1h-1zM429.2 235.7h1v1h-1zM415.8 210.1h1v1h-1zM407.2 149.4h1v1h-1zM379.5 217.3h1v1h-1zM541.9 229.5h1v1h-1zM376.2 50.6h1v1h-1zM600.9 74.7h1v1h-1zM367.7 197.0h1v1h-1zM473.2 11.4h1v1h-1zM545.3 138.4h1v1h-1zM554.6 215.3h1v1h-1zM514.4 179.7h1v1h-1zM555.3 10.2h1v1h-1zM424.6 38.0h1v1h-1zM476.9 231.5h1v1h-1zM582.8 1.5h1v1h-1zM495.5 198.9h1v1h-1zM523.6 238.0h1v1h-1zM493.2 86.0h1v1h-1zM382.3 58.6h1v1h-1zM547.0 2.7h1v1h-1zM582.8 177.6h1v1h-1zM581.9 202.8h1v1h-1zM551.6 205.0h1v1h-1zM463.9 82.2h1v1h-1zM588.0 99.2h1v1h-1zM517.8 53.6h1v1h-1zM533.9 105.0h1v1h-1zM434.5 16.4h1v1h-1zM490.6 18.7h1v1h-1zM583.8 109.5h1v1h-1zM468.7 176.5h1v1h-1zM523.3 67.9h1v1h-1zM565.6 18.5h1v1h-1zM477.5 202.7h1v1h-1zM449.6 127.1h1v1h-1zM430.0 92.8h1v1h-1zM516.2 114.7h1v1h-1zM467.5 29.5h1v1h-1zM587.7 134.7h1v1h-1zM387.6 228.4h1v1h-1zM477.5 44.4h1v1h-1zM512.9 196.6h1v1h-1zM516.7 166.5h1v1h-1zM364.8 111.5h1v1h-1zM596.9 183.1h1v1h-1zM459.5 83.7h1v1h-1zM394.3 58.9h1v1h-1zM595.2 172.6h1v1h-1zM373.5 221.5h1v1h-1zM595.1 218.9h1v1h-1zM556.3 158.5h1v1h-1zM524.9 18.7h1v1h-1zM575.1 149.5h1v1h-1zM437.1 196.5h1v1h-1zM566.6 211.9h1v1h-1zM536.6 66.7h1v1h-1zM554.2 202.7h1v1h-1zM365.7 28.5h1v1h-1zM400.3 23.0h1v1h-1zM507.5 239.5h1v1h-1zM552.5 56.7h1v1h-1zM536.3 8.4h1v1h-1zM374.5 147.8h1v1h-1zM472.7 48.6h1v1h-1zM548.7 26.6h1v1h-1zM511.9 106.4h1v1h-1zM376.3 165.9h1v1h-1zM529.8 173.5h1v1h-1zM471.9 134.0h1v1h-1zM526.2 160.0h1v1h-1zM363.5 185.0h1v1h-1zM558.7 156.3h1v1h-1zM419.0 172.9h1v1h-1zM573.7 34.5h1v1h-1zM537.5 88.0h1v1h-1zM385.3 79.8h1v1h-1zM378.1 17.3h1v1h-1zM539.9 85.9h1v1h-1zM506.2 241.5h1v1h-1zM585.5 159.8h1v1h-1zM385.6 192.3h1v1h-1zM399.2 154.5h1v1h-1zM479.9 182.3h1v1h-1zM405.4 220.4h1v1h-1zM571.2 88.2h1v1h-1zM395.8 153.1h1v1h-1zM485.2 113.9h1v1h-1zM597.2 174.9h1v1h-1zM427.0 203.0h1v1h-1zM479.2 1.4h1v1h-1zM400.2 53.7h1v1h-1zM395.5 143.1h1v1h-1zM517.2 113.1h1v1h-1zM495.1 160.7h1v1h-1zM578.2 193.9h1v1h-1zM481.0 88.6h1v1h-1zM365.1 193.8h1v1h-1zM448.8 221.0h1v1h-1zM399.8 167.3h1v1h-1zM396.5 55.9h1v1h-1zM466.7 30.4h1v1h-1zM590.2 133.8h1v1h-1zM505.5 236.4h1v1h-1zM381.4 39.7h1v1h-1zM489.3 165.1h1v1h-1zM550.5 132.9h1v1h-1zM528.1 2.1h1v1h-1zM601.4 51.8h1v1h-1zM591.4 207.9h1v1h-1zM480.1 200.7h1v1h-1zM385.9 67.7h1v1h-1zM526.4 169.1h1v1h-1zM476.7 21.9h1v1h-1zM413.1 145.8h1v1h-1zM592.5 156.5h1v1h-1zM580.4 148.7h1v1h-1zM584.4 39.7h1v1h-1zM431.9 172.1h1v1h-1zM462.8 51.5h1v1h-1zM410.8 123.3h1v1h-1zM543.3 58.2h1v1h-1zM525.1 172.9h1v1h-1zM425.5 236.0h1v1h-1zM595.5 76.4h1v1h-1zM524.3 93.6h1v1h-1zM485.5 104.1h1v1h-1zM397.1 142.8h1v1h-1zM399.7 122.2h1v1h-1zM496.6 100.5h1v1h-1zM577.7 87.1h1v1h-1zM597.1 240.2h1v1h-1zM470.5 122.2h1v1h-1zM507.2 44.6h1v1h-1zM423.9 187.5h1v1h-1zM465.5 225.5h1v1h-1zM483.7 81.8h1v1h-1zM465.9 160.4h1v1h-1zM377.7 21.4h1v1h-1zM492.4 239.7h1v1h-1zM497.2 108.9h1v1h-1zM500.9 236.3h1v1h-1zM552.0 191.5h1v1h-1zM388.3 78.6h1v1h-1zM597.7 106.5h1v1h-1zM520.5 63.8h1v1h-1zM371.6 71.7h1v1h-1zM492.7 71.6h1v1h-1zM441.2 206.3h1v1h-1zM390.4 138.8h1v1h-1zM544.6 181.3h1v1h-1zM436.2 211.0h1v1h-1zM394.3 163.4h1v1h-1zM400.8 222.0h1v1h-1zM560.0 158.3h1v1h-1zM580.2 229.8h1v1h-1zM437.0 153.9h1v1h-1zM392.9 90.8h1v1h-1zM366.4 174.4h1v1h-1zM433.8 178.0h1v1h-1zM506.9 234.9h1v1h-1zM393.2 74.7h1v1h-1zM446.5 196.8h1v1h-1zM424.8 85.0h1v1h-1zM530.6 42.0h1v1h-1zM467.4 122.4h1v1h-1zM468.5 215.4h1v1h-1zM528.3 38.0h1v1h-1zM375.5 139.0h1v1h-1zM388.6 54.9h1v1h-1zM601.9 123.6h1v1h-1zM395.5 95.7h1v1h-1zM442.5 31.9h1v1h-1zM389.0 177.2h1v1h-1zM390.7 5.0h1v1h-1zM581.4 107.0h1v1h-1zM434.0 173.5h1v1h-1zM502.8 76.4h1v1h-1zM434.9 15.1h1v1h-1zM433.4 67.2h1v1h-1zM556.9 135.5h1v1h-1zM457.6 42.9h1v1h-1zM601.2 113.2h1v1h-1zM595.8 70.6h1v1h-1zM425.7 96.2h1v1h-1zM458.6 59.0h1v1h-1zM472.8 102.1h1v1h-1zM420.6 70.1h1v1h-1zM451.1 239.5h1v1h-1zM379.4 110.1h1v1h-1zM574.9 180.1h1v1h-1zM461.1 205.8h1v1h-1zM513.6 101.2h1v1h-1zM410.0 81.9h1v1h-1zM513.0 99.7h1v1h-1zM481.9 128.0h1v1h-1zM480.1 98.5h1v1h-1zM481.5 105.2h1v1h-1zM452.7 72.3h1v1h-1zM582.1 137.4h1v1h-1zM511.8 116.2h1v1h-1zM531.6 229.2h1v1h-1zM396.8 172.0h1v1h-1zM509.7 35.2h1v1h-1zM553.7 13.6h1v1h-1zM563.2 165.3h1v1h-1zM393.4 74.2h1v1h-1zM483.8 35.5h1v1h-1zM419.6 169.0h1v1h-1zM409.8 74.8h1v1h-1zM573.9 40.0h1v1h-1zM381.2 60.5h1v1h-1zM434.5 151.0h1v1h-1zM484.7 47.0h1v1h-1zM452.0 30.8h1v1h-1zM583.9 155.3h1v1h-1zM461.0 239.8h1v1h-1zM537.3 169.2h1v1h-1zM514.2 89.1h1v1h-1zM415.6 75.4h1v1h-1zM497.3 50.9h1v1h-1zM490.0 11.3h1v1h-1zM402.8 50.9h1v1h-1zM519.3 55.1h1v1h-1zM381.1 209.6h1v1h-1zM402.9 177.3h1v1h-1zM451.4 142.9h1v1h-1zM422.7 229.8h1v1h-1zM481.7 89.2h1v1h-1zM445.8 121.1h1v1h-1zM486.3 115.8h1v1h-1zM502.0 81.6h1v1h-1zM411.1 187.4h1v1h-1zM409.2 122.1h1v1h-1zM448.5 19.8h1v1h-1zM557.6 73.6h1v1h-1zM406.5 176.2h1v1h-1zM592.5 20.9h1v1h-1zM392.7 100.6h1v1h-1zM466.2 169.1h1v1h-1zM481.6 141.9h1v1h-1zM428.3 21.5h1v1h-1zM472.3 157.0h1v1h-1zM600.3 52.9h1v1h-1zM391.0 101.8h1v1h-1z" fill="#f9d8ca" opacity="0.35"/>
<path d="M502.0 220.2h1v1h-1zM561.1 30.8h1v1h-1zM500.7 96.6h1v1h-1zM448.5 60.9h1v1h-1zM366.5 112.3h1v1h-1zM508.8 120.0h1v1h-1zM546.9 32.2h1v1h-1zM592.8 37.4h1v1h-1zM508.6 77.8h1v1h-1zM509.5 17.9h1v1h-1zM477.3 76.2h1v1h-1zM580.8 86.7h1v1h-1zM515.0 148.8h1v1h-1zM556.1 198.2h1v1h-1zM592.1 88.9h1v1h-1zM536.4 42.0h1v1h-1zM520.1 85.4h1v1h-1zM599.7 47.9h1v1h-1zM367.8 52.3h1v1h-1zM561.2 212.6h1v1h-1zM548.8 37.1h1v1h-1zM468.3 148.6h1v1h-1zM584.3 216.2h1v1h-1zM456.0 77.2h1v1h-1zM550.7 217.2h1v1h-1zM575.2 40.2h1v1h-1zM485.0 16.5h1v1h-1zM426.8 219.3h1v1h-1zM555.0 21.2h1v1h-1zM585.3 65.6h1v1h-1zM595.5 64.1h1v1h-1zM364.7 177.7h1v1h-1zM595.8 75.2h1v1h-1zM598.8 83.6h1v1h-1zM596.4 132.8h1v1h-1zM369.3 213.7h1v1h-1zM381.3 68.2h1v1h-1zM434.6 57.1h1v1h-1zM397.2 175.5h1v1h-1zM538.6 196.7h1v1h-1zM561.0 141.8h1v1h-1zM496.2 152.3h1v1h-1zM417.8 183.3h1v1h-1zM546.6 149.7h1v1h-1zM518.7 168.0h1v1h-1zM596.3 25.0h1v1h-1zM601.5 94.2h1v1h-1zM575.6 170.5h1v1h-1zM525.9 98.7h1v1h-1zM564.1 29.9h1v1h-1zM557.5 153.0h1v1h-1zM478.5 220.8h1v1h-1zM495.9 96.0h1v1h-1zM602.1 109.4h1v1h-1zM493.6 59.8h1v1h-1zM443.8 23.0h1v1h-1zM450.1 196.1h1v1h-1zM453.6 180.7h1v1h-1zM391.5 122.3h1v1h-1zM517.2 74.2h1v1h-1zM433.7 228.4h1v1h-1zM428.4 77.2h1v1h-1zM476.0 57.6h1v1h-1zM539.9 122.7h1v1h-1zM481.0 49.3h1v1h-1zM387.4 151.3h1v1h-1zM374.2 6.7h1v1h-1zM461.5 172.1h1v1h-1zM538.3 241.4h1v1h-1zM382.2 171.0h1v1h-1zM451.2 222.6h1v1h-1zM555.4 15.9h1v1h-1zM555.2 179.0h1v1h-1zM484.9 95.4h1v1h-1zM477.6 132.3h1v1h-1zM409.2 60.6h1v1h-1zM418.0 68.8h1v1h-1zM440.0 96.5h1v1h-1zM362.1 213.8h1v1h-1zM406.9 235.5h1v1h-1zM586.1 90.7h1v1h-1zM413.7 89.9h1v1h-1zM506.1 158.0h1v1h-1zM553.6 161.0h1v1h-1zM515.7 23.0h1v1h-1zM410.3 2.4h1v1h-1zM500.8 88.9h1v1h-1zM392.5 13.5h1v1h-1zM499.6 224.5h1v1h-1zM396.3 69.3h1v1h-1zM543.4 191.9h1v1h-1zM579.8 150.5h1v1h-1zM390.8 60.5h1v1h-1zM518.1 75.3h1v1h-1zM510.8 119.0h1v1h-1zM543.0 216.7h1v1h-1zM430.7 196.4h1v1h-1zM527.0 174.8h1v1h-1zM482.5 222.7h1v1h-1zM504.2 149.4h1v1h-1zM438.2 9.9h1v1h-1zM525.5 216.8h1v1h-1zM441.1 20.6h1v1h-1zM538.4 181.1h1v1h-1zM434.5 127.1h1v1h-1zM461.0 73.6h1v1h-1zM399.4 4.4h1v1h-1zM375.9 7.1h1v1h-1zM364.0 133.8h1v1h-1zM432.5 224.8h1v1h-1zM381.7 123.3h1v1h-1zM424.0 57.9h1v1h-1zM407.4 94.7h1v1h-1zM568.5 106.4h1v1h-1zM499.0 75.2h1v1h-1zM455.8 142.1h1v1h-1zM511.5 40.0h1v1h-1zM530.6 8.4h1v1h-1zM476.5 33.0h1v1h-1zM444.9 170.8h1v1h-1zM402.2 1.3h1v1h-1zM500.9 39.3h1v1h-1zM588.1 56.8h1v1h-1zM410.9 64.4h1v1h-1zM452.8 214.0h1v1h-1zM445.3 79.7h1v1h-1zM516.5 168.9h1v1h-1zM425.7 182.9h1v1h-1zM506.9 85.0h1v1h-1zM400.8 159.6h1v1h-1zM538.5 105.8h1v1h-1zM565.7 162.0h1v1h-1zM511.4 99.7h1v1h-1zM370.2 131.9h1v1h-1zM534.3 230.3h1v1h-1zM460.3 229.5h1v1h-1zM588.5 128.0h1v1h-1zM516.4 174.7h1v1h-1zM474.3 71.9h1v1h-1zM549.7 114.1h1v1h-1zM421.5 25.5h1v1h-1zM495.3 64.7h1v1h-1zM412.6 101.2h1v1h-1zM443.6 188.6h1v1h-1zM512.3 42.9h1v1h-1zM504.7 240.3h1v1h-1zM381.1 114.8h1v1h-1zM365.3 174.4h1v1h-1zM449.5 181.1h1v1h-1zM455.1 76.3h1v1h-1zM502.5 236.3h1v1h-1zM452.2 166.0h1v1h-1zM438.8 65.6h1v1h-1zM430.8 34.9h1v1h-1zM554.0 49.3h1v1h-1zM483.5 49.7h1v1h-1zM549.7 207.5h1v1h-1zM464.1 229.1h1v1h-1zM422.5 10.1h1v1h-1zM594.7 240.0h1v1h-1zM391.0 117.0h1v1h-1zM587.0 209.9h1v1h-1zM596.3 78.7h1v1h-1zM476.6 152.4h1v1h-1zM441.3 178.4h1v1h-1zM533.7 134.4h1v1h-1zM499.2 72.5h1v1h-1zM513.7 190.8h1v1h-1zM465.6 64.0h1v1h-1zM556.3 83.2h1v1h-1zM413.8 138.7h1v1h-1zM565.1 126.7h1v1h-1zM545.2 43.3h1v1h-1zM509.2 171.6h1v1h-1zM393.3 161.4h1v1h-1zM469.0 7.2h1v1h-1zM366.0 234.1h1v1h-1zM365.7 224.2h1v1h-1zM445.9 23.6h1v1h-1zM390.5 98.8h1v1h-1zM492.1 55.8h1v1h-1zM388.4 84.8h1v1h-1zM381.4 143.2h1v1h-1zM564.2 148.0h1v1h-1zM474.5 75.8h1v1h-1zM539.0 27.3h1v1h-1zM600.4 164.3h1v1h-1zM461.9 162.0h1v1h-1zM426.0 153.0h1v1h-1zM457.2 240.3h1v1h-1zM439.4 204.3h1v1h-1zM482.2 157.3h1v1h-1zM513.7 127.3h1v1h-1zM483.2 46.3h1v1h-1zM502.9 162.0h1v1h-1zM571.8 216.8h1v1h-1zM374.2 58.4h1v1h-1zM371.6 225.3h1v1h-1zM403.0 87.4h1v1h-1zM463.2 221.0h1v1h-1zM443.6 38.6h1v1h-1zM383.4 66.0h1v1h-1zM495.3 113.6h1v1h-1zM452.2 232.0h1v1h-1zM432.9 115.7h1v1h-1zM416.0 110.1h1v1h-1zM503.2 89.7h1v1h-1zM458.8 124.0h1v1h-1zM367.9 174.1h1v1h-1zM529.1 188.0h1v1h-1zM548.5 213.7h1v1h-1zM388.9 221.0h1v1h-1zM513.3 227.9h1v1h-1zM602.5 149.3h1v1h-1zM484.1 164.1h1v1h-1zM464.7 124.4h1v1h-1zM403.2 40.5h1v1h-1zM409.7 75.8h1v1h-1zM393.3 171.6h1v1h-1zM545.0 41.8h1v1h-1zM375.6 68.7h1v1h-1zM367.1 96.3h1v1h-1zM432.7 45.8h1v1h-1zM540.6 79.7h1v1h-1zM517.6 86.9h1v1h-1zM506.8 152.0h1v1h-1zM566.9 116.5h1v1h-1zM376.2 3.1h1v1h-1zM486.1 104.2h1v1h-1zM591.6 116.9h1v1h-1zM424.2 55.8h1v1h-1zM472.3 166.3h1v1h-1zM364.7 144.2h1v1h-1zM472.2 30.0h1v1h-1zM464.1 215.2h1v1h-1zM369.3 220.4h1v1h-1zM378.8 63.3h1v1h-1zM573.1 147.7h1v1h-1zM447.4 139.2h1v1h-1zM448.8 68.9h1v1h-1zM585.9 142.4h1v1h-1zM570.1 157.2h1v1h-1zM419.5 14.7h1v1h-1zM398.9 5.5h1v1h-1zM491.4 142.8h1v1h-1zM512.2 30.5h1v1h-1zM539.5 218.6h1v1h-1zM488.9 85.5h1v1h-1zM467.9 208.2h1v1h-1zM580.5 91.5h1v1h-1zM573.8 121.2h1v1h-1zM412.3 13.6h1v1h-1zM549.7 209.1h1v1h-1zM526.8 195.0h1v1h-1zM370.2 122.7h1v1h-1zM404.3 166.2h1v1h-1zM445.6 52.8h1v1h-1zM538.0 66.8h1v1h-1zM528.9 176.9h1v1h-1zM378.4 193.2h1v1h-1zM487.3 115.9h1v1h-1zM469.7 116.3h1v1h-1zM544.6 37.1h1v1h-1zM449.8 126.5h1v1h-1zM499.1 14.9h1v1h-1zM446.3 93.9h1v1h-1zM558.7 211.1h1v1h-1zM525.8 75.0h1v1h-1zM434.8 32.8h1v1h-1zM519.8 172.1h1v1h-1zM449.5 194.1h1v1h-1zM459.3 176.4h1v1h-1zM568.7 31.0h1v1h-1zM404.6 223.3h1v1h-1zM555.1 129.8h1v1h-1zM396.3 222.2h1v1h-1zM485.9 113.2h1v1h-1zM584.6 33.1h1v1h-1zM563.3 71.8h1v1h-1zM572.7 193.1h1v1h-1zM435.9 63.2h1v1h-1zM397.8 193.6h1v1h-1zM409.0 36.9h1v1h-1zM370.4 85.8h1v1h-1zM576.2 221.0h1v1h-1zM409.7 114.4h1v1h-1zM595.1 84.0h1v1h-1zM384.2 133.9h1v1h-1zM379.4 176.4h1v1h-1zM483.6 89.4h1v1h-1zM429.6 134.8h1v1h-1zM580.8 176.1h1v1h-1zM479.2 191.6h1v1h-1zM527.7 56.3h1v1h-1zM521.7 53.4h1v1h-1zM598.9 10.9h1v1h-1zM368.8 191.1h1v1h-1zM538.6 164.6h1v1h-1zM554.0 186.6h1v1h-1zM542.9 154.4h1v1h-1zM523.8 180.7h1v1h-1zM580.0 180.5h1v1h-1zM542.7 205.2h1v1h-1zM408.9 111.4h1v1h-1zM441.5 37.4h1v1h-1zM435.7 77.8h1v1h-1zM488.6 1.1h1v1h-1zM495.9 108.9h1v1h-1zM591.6 215.8h1v1h-1zM528.2 67.9h1v1h-1zM553.1 84.7h1v1h-1zM400.2 178.9h1v1h-1zM482.3 99.4h1v1h-1zM549.4 76.9h1v1h-1zM445.6 45.8h1v1h-1zM551.0 164.8h1v1h-1zM397.6 162.8h1v1h-1zM390.5 230.9h1v1h-1zM361.8 152.6h1v1h-1zM594.5 128.9h1v1h-1zM413.7 192.2h1v1h-1zM458.5 69.1h1v1h-1zM467.1 48.6h1v1h-1zM548.0 83.6h1v1h-1zM476.3 199.1h1v1h-1zM519.8 226.9h1v1h-1zM548.4 175.9h1v1h-1zM557.5 203.8h1v1h-1zM478.3 155.1h1v1h-1zM453.6 26.1h1v1h-1zM569.5 41.7h1v1h-1zM506.0 16.1h1v1h-1zM455.9 190.9h1v1h-1zM419.7 219.8h1v1h-1zM458.3 227.8h1v1h-1zM406.2 195.5h1v1h-1zM471.6 162.6h1v1h-1zM411.5 171.7h1v1h-1zM371.5 165.6h1v1h-1zM584.6 139.5h1v1h-1zM583.9 80.2h1v1h-1zM576.3 192.5h1v1h-1zM491.0 233.7h1v1h-1zM412.2 13.9h1v1h-1zM593.5 23.1h1v1h-1zM516.2 150.0h1v1h-1zM422.7 96.1h1v1h-1zM562.4 8.4h1v1h-1zM521.0 44.5h1v1h-1zM453.7 158.2h1v1h-1zM449.0 175.2h1v1h-1zM572.1 220.1h1v1h-1zM415.2 47.7h1v1h-1zM545.6 206.6h1v1h-1zM425.4 108.0h1v1h-1zM484.3 117.6h1v1h-1zM474.4 229.0h1v1h-1zM519.9 157.8h1v1h-1zM467.2 34.9h1v1h-1zM434.7 76.7h1v1h-1zM588.3 97.9h1v1h-1zM364.1 229.6h1v1h-1zM523.8 52.2h1v1h-1zM602.9 111.0h1v1h-1zM498.6 186.6h1v1h-1zM427.3 101.3h1v1h-1zM575.5 14.7h1v1h-1zM552.2 62.0h1v1h-1zM430.9 234.0h1v1h-1zM578.5 232.9h1v1h-1zM443.3 184.3h1v1h-1zM473.7 79.1h1v1h-1zM597.7 22.4h1v1h-1zM492.3 97.7h1v1h-1zM391.9 54.6h1v1h-1zM573.7 28.3h1v1h-1zM563.2 155.7h1v1h-1zM531.6 233.9h1v1h-1zM529.4 1.9h1v1h-1zM403.2 218.0h1v1h-1zM443.7 119.5h1v1h-1zM454.2 173.8h1v1h-1zM383.8 142.3h1v1h-1zM394.4 47.4h1v1h-1zM387.1 153.8h1v1h-1zM509.8 218.3h1v1h-1zM432.0 79.3h1v1h-1zM397.6 225.5h1v1h-1zM422.1 162.1h1v1h-1zM382.3 223.3h1v1h-1zM370.0 237.5h1v1h-1zM368.7 220.3h1v1h-1zM532.3 88.3h1v1h-1zM544.6 95.8h1v1h-1zM538.6 32.2h1v1h-1zM456.4 69.4h1v1h-1zM364.0 163.9h1v1h-1zM600.7 176.5h1v1h-1zM453.1 203.4h1v1h-1zM550.3 210.6h1v1h-1zM478.1 101.4h1v1h-1zM504.0 105.2h1v1h-1zM601.0 125.2h1v1h-1zM603.0 136.2h1v1h-1zM411.2 6.6h1v1h-1zM484.6 225.8h1v1h-1zM507.2 57.3h1v1h-1zM548.3 194.4h1v1h-1zM417.2 199.1h1v1h-1zM506.9 218.9h1v1h-1zM542.3 172.6h1v1h-1zM395.4 111.9h1v1h-1zM602.4 82.0h1v1h-1zM475.5 67.8h1v1h-1zM475.2 123.7h1v1h-1zM591.4 150.4h1v1h-1zM518.5 69.8h1v1h-1zM379.3 51.5h1v1h-1zM548.0 36.8h1v1h-1zM463.2 152.7h1v1h-1zM366.3 171.7h1v1h-1zM388.2 40.0h1v1h-1zM408.8 87.3h1v1h-1zM417.3 235.9h1v1h-1zM520.8 124.2h1v1h-1zM569.0 221.5h1v1h-1zM481.2 166.9h1v1h-1zM565.4 88.2h1v1h-1zM441.8 116.6h1v1h-1zM531.6 2.1h1v1h-1zM374.0 239.2h1v1h-1zM446.1 206.2h1v1h-1zM537.5 83.7h1v1h-1zM442.4 40.5h1v1h-1zM423.8 15.7h1v1h-1zM417.2 112.7h1v1h-1zM495.1 98.6h1v1h-1zM452.9 28.0h1v1h-1zM477.3 225.0h1v1h-1zM492.5 208.9h1v1h-1zM526.6 224.3h1v1h-1zM485.7 85.4h1v1h-1zM364.2 49.9h1v1h-1zM580.3 55.0h1v1h-1zM511.8 158.5h1v1h-1zM451.0 89.1h1v1h-1zM492.5 40.2h1v1h-1zM537.0 57.9h1v1h-1zM418.3 183.4h1v1h-1zM442.2 185.4h1v1h-1zM531.9 104.4h1v1h-1zM503.1 121.0h1v1h-1zM487.1 181.3h1v1h-1zM484.6 41.5h1v1h-1zM419.1 113.6h1v1h-1zM391.7 166.3h1v1h-1zM459.4 200.4h1v1h-1zM570.3 154.5h1v1h-1zM388.9 92.7h1v1h-1zM595.6 156.2h1v1h-1zM391.6 86.5h1v1h-1zM510.9 159.9h1v1h-1zM482.9 101.9h1v1h-1zM559.1 117.3h1v1h-1zM538.5 51.0h1v1h-1zM475.3 174.4h1v1h-1zM577.9 11.4h1v1h-1zM430.8 38.4h1v1h-1zM596.8 45.2h1v1h-1zM446.2 15.6h1v1h-1zM599.8 95.5h1v1h-1zM388.6 78.4h1v1h-1zM525.5 151.5h1v1h-1zM411.1 140.6h1v1h-1zM432.1 49.2h1v1h-1zM484.4 30.5h1v1h-1zM472.8 145.4h1v1h-1zM377.3 219.1h1v1h-1zM388.6 70.9h1v1h-1zM414.8 1.9h1v1h-1zM493.1 194.0h1v1h-1zM377.3 43.1h1v1h-1zM423.6 156.3h1v1h-1zM435.7 164.5h1v1h-1zM480.4 133.5h1v1h-1zM380.6 151.5h1v1h-1zM425.8 204.8h1v1h-1zM489.9 208.8h1v1h-1zM557.2 177.5h1v1h-1zM509.2 208.7h1v1h-1zM551.2 110.9h1v1h-1zM541.3 201.3h1v1h-1zM583.3 114.7h1v1h-1zM551.4 48.7h1v1h-1zM477.7 91.8h1v1h-1zM422.4 201.2h1v1h-1zM428.2 25.0h1v1h-1zM400.0 142.3h1v1h-1zM365.0 225.1h1v1h-1zM513.6 144.3h1v1h-1zM556.3 237.4h1v1h-1zM529.7 189.1h1v1h-1zM412.1 12.8h1v1h-1zM472.6 139.5h1v1h-1zM533.5 176.5h1v1h-1zM535.3 126.3h1v1h-1zM553.5 166.9h1v1h-1zM424.5 223.8h1v1h-1zM448.5 146.4h1v1h-1zM463.9 227.2h1v1h-1zM382.5 7.5h1v1h-1zM515.5 197.4h1v1h-1zM385.3 16.4h1v1h-1zM582.1 124.6h1v1h-1zM590.0 207.4h1v1h-1zM393.6 133.0h1v1h-1zM423.7 149.5h1v1h-1zM433.7 194.1h1v1h-1zM419.2 180.0h1v1h-1zM436.6 89.8h1v1h-1zM565.4 162.3h1v1h-1zM382.4 216.0h1v1h-1zM476.8 209.4h1v1h-1zM551.3 23.6h1v1h-1zM494.0 196.9h1v1h-1zM583.6 167.0h1v1h-1zM556.8 60.8h1v1h-1zM477.7 12.2h1v1h-1zM465.2 213.7h1v1h-1zM546.2 59.9h1v1h-1zM597.6 32.2h1v1h-1zM436.9 165.7h1v1h-1zM556.0 146.8h1v1h-1zM393.8 208.1h1v1h-1zM583.6 164.5h1v1h-1zM389.2 96.6h1v1h-1zM550.8 129.1h1v1h-1zM429.3 179.1h1v1h-1zM466.7 108.1h1v1h-1zM456.6 56.8h1v1h-1zM509.1 150.7h1v1h-1zM451.6 200.7h1v1h-1zM382.5 236.7h1v1h-1zM521.0 138.5h1v1h-1zM550.4 215.3h1v1h-1zM589.9 218.1h1v1h-1zM596.7 163.0h1v1h-1zM481.8 139.0h1v1h-1zM481.5 105.9h1v1h-1zM479.4 9.8h1v1h-1zM431.7 166.9h1v1h-1zM515.0 107.8h1v1h-1zM430.0 119.5h1v1h-1zM445.3 176.8h1v1h-1zM414.8 56.3h1v1h-1zM508.2 24.8h1v1h-1zM575.7 9.1h1v1h-1zM445.5 118.0h1v1h-1zM591.8 153.2h1v1h-1zM569.4 31.5h1v1h-1zM594.9 215.7h1v1h-1zM527.8 112.0h1v1h-1zM506.4 25.1h1v1h-1zM406.4 43.8h1v1h-1zM601.7 179.3h1v1h-1zM576.4 124.3h1v1h-1zM383.3 56.8h1v1h-1zM383.4 116.1h1v1h-1zM544.6 73.7h1v1h-1zM597.7 29.5h1v1h-1zM517.8 188.9h1v1h-1zM513.0 17.1h1v1h-1z" fill="#f9d8ca" opacity="0.55"/>
<path d="M378.5 130.1h1v1h-1zM372.3 207.9h1v1h-1zM462.4 131.3h1v1h-1zM501.7 155.0h1v1h-1zM530.2 59.8h1v1h-1zM484.9 40.8h1v1h-1zM593.8 19.7h1v1h-1zM429.9 94.0h1v1h-1zM380.5 109.3h1v1h-1zM574.8 198.4h1v1h-1zM478.4 143.0h1v1h-1zM429.2 36.1h1v1h-1zM498.2 130.3h1v1h-1zM509.6 36.8h1v1h-1zM385.7 83.6h1v1h-1zM410.7 230.4h1v1h-1zM529.5 63.9h1v1h-1zM489.9 188.8h1v1h-1zM423.7 167.9h1v1h-1zM469.2 226.8h1v1h-1zM385.7 114.3h1v1h-1zM576.1 105.6h1v1h-1zM562.9 15.7h1v1h-1zM483.9 60.7h1v1h-1zM464.7 52.3h1v1h-1zM588.4 156.1h1v1h-1zM443.1 48.2h1v1h-1zM383.3 89.2h1v1h-1zM454.0 125.7h1v1h-1zM596.2 26.3h1v1h-1zM566.6 163.9h1v1h-1zM409.8 76.2h1v1h-1zM482.0 43.9h1v1h-1zM563.6 4.4h1v1h-1zM571.7 162.6h1v1h-1zM361.9 88.8h1v1h-1zM503.0 95.9h1v1h-1zM381.6 11.1h1v1h-1zM422.0 18.9h1v1h-1zM565.6 19.5h1v1h-1zM379.7 36.5h1v1h-1zM364.0 15.6h1v1h-1zM524.5 71.1h1v1h-1zM601.4 133.3h1v1h-1zM379.1 22.8h1v1h-1zM591.6 33.0h1v1h-1zM564.3 1.4h1v1h-1zM533.6 218.3h1v1h-1zM602.7 143.0h1v1h-1zM428.9 13.4h1v1h-1zM514.7 36.9h1v1h-1zM466.6 77.1h1v1h-1zM470.1 182.4h1v1h-1zM402.3 101.0h1v1h-1zM433.1 179.1h1v1h-1zM494.2 110.2h1v1h-1zM481.6 139.4h1v1h-1zM457.7 108.5h1v1h-1zM368.1 100.2h1v1h-1zM529.4 174.1h1v1h-1zM526.2 48.7h1v1h-1zM416.9 54.4h1v1h-1zM456.2 217.5h1v1h-1zM402.0 1.7h1v1h-1zM541.8 217.6h1v1h-1zM424.4 173.7h1v1h-1zM508.0 80.0h1v1h-1zM549.7 71.8h1v1h-1zM498.2 90.9h1v1h-1zM386.6 144.7h1v1h-1zM525.2 45.6h1v1h-1zM457.3 66.4h1v1h-1zM436.6 137.5h1v1h-1zM461.2 5.4h1v1h-1zM588.1 38.7h1v1h-1zM506.1 133.6h1v1h-1zM370.8 32.4h1v1h-1zM376.9 85.6h1v1h-1zM399.4 217.1h1v1h-1zM580.0 111.0h1v1h-1zM458.6 154.4h1v1h-1zM600.7 140.1h1v1h-1zM432.7 125.4h1v1h-1zM515.7 238.2h1v1h-1zM366.4 1.6h1v1h-1zM515.4 211.0h1v1h-1zM374.6 198.8h1v1h-1zM557.8 43.1h1v1h-1zM403.4 241.2h1v1h-1zM417.2 10.4h1v1h-1zM576.7 224.0h1v1h-1zM526.9 222.1h1v1h-1zM589.6 180.8h1v1h-1zM539.3 16.8h1v1h-1zM560.7 153.2h1v1h-1zM432.3 82.1h1v1h-1zM366.1 62.9h1v1h-1zM372.7 184.1h1v1h-1zM533.9 200.5h1v1h-1zM504.4 231.7h1v1h-1zM463.2 156.7h1v1h-1zM571.1 109.5h1v1h-1zM402.0 106.8h1v1h-1zM536.0 235.9h1v1h-1zM454.0 238.1h1v1h-1zM387.4 220.6h1v1h-1zM528.8 121.6h1v1h-1zM533.6 152.7h1v1h-1zM515.7 200.8h1v1h-1zM513.1 163.6h1v1h-1zM425.7 91.7h1v1h-1zM361.7 175.0h1v1h-1zM447.6 158.7h1v1h-1zM520.5 88.3h1v1h-1zM567.8 14.8h1v1h-1zM550.7 34.8h1v1h-1zM411.8 18.4h1v1h-1zM522.8 216.4h1v1h-1zM522.0 203.6h1v1h-1zM366.0 12.1h1v1h-1zM442.9 208.7h1v1h-1zM429.8 83.4h1v1h-1zM495.1 200.2h1v1h-1zM447.0 120.0h1v1h-1zM482.9 66.5h1v1h-1zM441.1 77.4h1v1h-1zM493.0 13.0h1v1h-1zM582.2 159.0h1v1h-1zM572.0 34.4h1v1h-1zM497.0 63.2h1v1h-1zM472.5 225.7h1v1h-1zM589.7 190.1h1v1h-1zM431.8 15.6h1v1h-1zM562.2 145.9h1v1h-1zM473.6 50.8h1v1h-1zM472.3 22.1h1v1h-1zM547.9 57.1h1v1h-1zM407.5 44.5h1v1h-1zM371.8 241.3h1v1h-1zM503.0 52.5h1v1h-1zM531.9 22.7h1v1h-1zM405.2 205.8h1v1h-1zM402.7 228.0h1v1h-1zM588.3 164.1h1v1h-1zM460.7 38.5h1v1h-1zM423.4 49.6h1v1h-1zM584.9 24.5h1v1h-1zM461.6 40.1h1v1h-1zM468.2 191.3h1v1h-1zM486.5 84.8h1v1h-1zM406.0 201.4h1v1h-1zM390.2 173.2h1v1h-1zM510.8 41.5h1v1h-1zM456.7 227.9h1v1h-1zM442.9 58.9h1v1h-1zM534.2 204.2h1v1h-1zM439.6 36.3h1v1h-1zM369.3 155.6h1v1h-1zM466.0 230.2h1v1h-1zM390.1 144.2h1v1h-1zM467.5 124.3h1v1h-1zM582.6 140.1h1v1h-1zM419.9 22.2h1v1h-1zM518.4 49.5h1v1h-1zM595.6 96.5h1v1h-1zM400.3 230.5h1v1h-1zM495.7 119.4h1v1h-1zM486.1 202.1h1v1h-1zM524.4 149.5h1v1h-1zM430.7 86.0h1v1h-1zM453.1 73.3h1v1h-1zM501.7 22.2h1v1h-1zM433.6 130.3h1v1h-1zM455.3 87.2h1v1h-1zM488.1 24.9h1v1h-1zM458.2 185.9h1v1h-1zM519.7 72.1h1v1h-1zM403.4 186.3h1v1h-1zM518.3 166.0h1v1h-1zM395.8 58.4h1v1h-1zM454.7 113.6h1v1h-1zM377.5 221.2h1v1h-1zM587.7 43.5h1v1h-1zM525.5 160.9h1v1h-1zM421.1 205.1h1v1h-1zM580.3 24.5h1v1h-1zM508.3 104.8h1v1h-1zM398.8 178.9h1v1h-1zM499.0 173.7h1v1h-1zM585.0 162.5h1v1h-1zM587.4 28.0h1v1h-1zM552.5 51.6h1v1h-1zM479.5 46.6h1v1h-1zM393.2 155.5h1v1h-1zM562.1 28.6h1v1h-1zM400.0 108.3h1v1h-1zM381.3 173.8h1v1h-1zM479.2 189.9h1v1h-1zM363.0 222.6h1v1h-1zM512.9 226.4h1v1h-1zM385.7 174.2h1v1h-1zM450.2 133.8h1v1h-1zM463.4 177.1h1v1h-1zM485.5 102.5h1v1h-1zM579.8 40.6h1v1h-1zM362.0 194.8h1v1h-1zM498.3 114.0h1v1h-1zM557.3 15.5h1v1h-1zM528.3 36.4h1v1h-1zM495.3 228.3h1v1h-1zM493.6 28.1h1v1h-1zM518.2 46.2h1v1h-1zM497.2 222.1h1v1h-1zM401.7 180.6h1v1h-1zM560.8 30.6h1v1h-1zM485.2 127.5h1v1h-1zM535.7 11.5h1v1h-1zM563.4 142.8h1v1h-1zM491.3 167.2h1v1h-1zM590.6 4.3h1v1h-1zM448.3 128.3h1v1h-1zM441.2 113.9h1v1h-1zM427.1 121.5h1v1h-1zM434.6 185.0h1v1h-1zM484.2 154.1h1v1h-1zM572.2 173.5h1v1h-1zM375.6 82.3h1v1h-1zM574.8 189.6h1v1h-1zM577.4 196.0h1v1h-1zM459.0 96.5h1v1h-1zM434.0 75.3h1v1h-1zM502.6 74.3h1v1h-1zM438.3 43.2h1v1h-1zM493.2 183.8h1v1h-1zM457.7 49.3h1v1h-1zM506.4 20.1h1v1h-1zM535.0 2.2h1v1h-1zM490.9 212.0h1v1h-1zM584.3 52.1h1v1h-1zM459.1 164.6h1v1h-1zM572.3 7.2h1v1h-1zM461.5 172.1h1v1h-1zM447.6 88.2h1v1h-1zM520.1 146.0h1v1h-1zM545.7 188.0h1v1h-1zM496.4 88.1h1v1h-1zM385.1 196.0h1v1h-1zM495.4 44.8h1v1h-1zM556.2 221.2h1v1h-1zM419.5 86.4h1v1h-1zM544.7 155.9h1v1h-1zM476.5 226.1h1v1h-1zM591.9 33.9h1v1h-1zM572.0 61.2h1v1h-1zM466.2 34.7h1v1h-1zM596.8 3.3h1v1h-1zM408.5 12.5h1v1h-1zM519.1 132.1h1v1h-1zM528.0 237.7h1v1h-1zM418.9 121.8h1v1h-1zM447.0 16.5h1v1h-1zM509.3 164.2h1v1h-1zM584.6 185.5h1v1h-1zM580.9 115.1h1v1h-1zM602.9 16.9h1v1h-1zM487.8 128.1h1v1h-1zM390.8 38.1h1v1h-1zM451.8 88.9h1v1h-1zM435.2 132.3h1v1h-1zM409.8 103.0h1v1h-1zM465.3 147.4h1v1h-1zM584.8 47.2h1v1h-1zM492.1 224.1h1v1h-1zM374.3 165.1h1v1h-1zM406.0 130.9h1v1h-1zM382.0 93.5h1v1h-1zM570.8 194.3h1v1h-1zM460.0 137.1h1v1h-1zM481.6 163.4h1v1h-1zM519.9 13.1h1v1h-1zM445.8 116.9h1v1h-1zM540.6 44.1h1v1h-1zM517.5 32.8h1v1h-1zM426.5 131.4h1v1h-1zM559.8 18.6h1v1h-1zM504.2 45.1h1v1h-1zM409.0 53.9h1v1h-1zM570.7 13.1h1v1h-1zM551.4 23.3h1v1h-1zM423.8 168.2h1v1h-1zM466.3 199.9h1v1h-1zM377.5 189.7h1v1h-1zM455.9 189.9h1v1h-1zM416.3 162.9h1v1h-1zM431.7 22.2h1v1h-1zM560.2 45.4h1v1h-1zM386.1 60.3h1v1h-1zM393.7 182.6h1v1h-1zM522.2 19.3h1v1h-1zM468.5 231.8h1v1h-1zM580.5 121.0h1v1h-1zM602.4 42.8h1v1h-1zM480.3 235.9h1v1h-1zM525.9 219.7h1v1h-1zM596.1 188.3h1v1h-1zM593.8 46.1h1v1h-1zM576.7 115.4h1v1h-1zM585.6 98.1h1v1h-1zM543.1 67.4h1v1h-1zM534.6 96.3h1v1h-1zM547.7 11.0h1v1h-1zM446.6 227.5h1v1h-1zM562.9 172.5h1v1h-1zM548.5 96.1h1v1h-1zM457.8 121.5h1v1h-1zM489.7 126.6h1v1h-1zM458.7 139.3h1v1h-1zM547.7 146.8h1v1h-1zM508.1 218.8h1v1h-1zM478.1 71.9h1v1h-1zM415.0 42.7h1v1h-1zM463.6 16.2h1v1h-1zM555.6 232.7h1v1h-1zM548.1 49.5h1v1h-1zM563.2 155.6h1v1h-1zM496.0 152.2h1v1h-1zM600.7 220.7h1v1h-1zM566.7 128.3h1v1h-1zM483.9 51.4h1v1h-1zM362.8 50.3h1v1h-1zM531.8 160.4h1v1h-1zM382.7 67.0h1v1h-1zM545.5 36.6h1v1h-1zM554.9 14.2h1v1h-1zM467.9 171.3h1v1h-1zM545.5 202.7h1v1h-1zM491.2 83.1h1v1h-1zM386.4 199.9h1v1h-1zM509.7 41.1h1v1h-1zM543.3 60.9h1v1h-1zM517.9 124.0h1v1h-1zM569.4 112.0h1v1h-1zM386.8 51.3h1v1h-1zM399.2 159.9h1v1h-1zM376.0 72.3h1v1h-1zM567.3 32.3h1v1h-1zM450.4 178.7h1v1h-1zM373.2 160.9h1v1h-1zM419.0 42.1h1v1h-1zM412.4 21.0h1v1h-1zM379.0 110.2h1v1h-1zM384.7 68.6h1v1h-1zM521.8 34.6h1v1h-1zM396.1 194.7h1v1h-1zM540.2 207.6h1v1h-1zM469.8 205.9h1v1h-1zM407.6 114.4h1v1h-1zM561.4 1.0h1v1h-1zM602.6 33.6h1v1h-1zM569.2 231.6h1v1h-1zM462.7 128.6h1v1h-1zM469.0 121.4h1v1h-1zM466.5 143.7h1v1h-1zM499.0 44.7h1v1h-1zM516.7 100.3h1v1h-1zM512.1 114.7h1v1h-1zM578.8 57.0h1v1h-1zM453.0 120.1h1v1h-1zM474.6 110.4h1v1h-1zM450.5 233.0h1v1h-1zM450.3 205.9h1v1h-1zM595.7 36.8h1v1h-1zM378.8 85.1h1v1h-1zM462.0 116.4h1v1h-1zM441.6 224.5h1v1h-1zM529.6 64.4h1v1h-1zM542.7 121.8h1v1h-1zM599.7 240.9h1v1h-1zM547.7 200.3h1v1h-1zM457.0 127.0h1v1h-1zM551.0 174.1h1v1h-1zM527.0 115.8h1v1h-1zM549.7 175.7h1v1h-1zM433.6 17.5h1v1h-1zM489.3 169.7h1v1h-1zM475.4 231.5h1v1h-1zM582.6 119.3h1v1h-1zM558.0 168.6h1v1h-1zM436.9 176.8h1v1h-1zM559.8 209.0h1v1h-1zM578.7 230.4h1v1h-1zM416.2 77.6h1v1h-1zM590.8 73.7h1v1h-1zM557.7 62.0h1v1h-1zM444.6 204.4h1v1h-1zM579.5 7.2h1v1h-1zM438.1 84.1h1v1h-1zM411.3 88.3h1v1h-1zM464.9 23.3h1v1h-1zM559.5 191.1h1v1h-1zM586.0 49.6h1v1h-1zM463.6 146.1h1v1h-1zM542.1 58.1h1v1h-1zM447.3 106.1h1v1h-1zM595.0 98.2h1v1h-1zM590.7 36.0h1v1h-1zM525.0 97.1h1v1h-1zM503.8 164.2h1v1h-1zM445.7 129.2h1v1h-1zM515.7 115.9h1v1h-1zM422.6 147.9h1v1h-1zM401.1 216.2h1v1h-1zM470.3 213.4h1v1h-1zM437.6 91.8h1v1h-1zM600.8 166.8h1v1h-1zM516.5 135.9h1v1h-1zM507.7 105.9h1v1h-1zM380.7 109.2h1v1h-1zM384.6 120.0h1v1h-1zM412.9 158.7h1v1h-1zM547.1 167.9h1v1h-1zM372.2 202.5h1v1h-1zM517.1 203.0h1v1h-1zM475.7 190.4h1v1h-1zM480.3 65.6h1v1h-1zM384.9 120.9h1v1h-1zM400.2 214.5h1v1h-1zM481.7 69.1h1v1h-1zM454.2 132.9h1v1h-1zM391.0 69.5h1v1h-1zM497.3 229.5h1v1h-1zM448.2 146.8h1v1h-1zM586.6 65.5h1v1h-1zM387.7 180.8h1v1h-1zM447.9 217.9h1v1h-1zM443.0 20.0h1v1h-1zM420.1 38.3h1v1h-1zM559.1 191.4h1v1h-1zM382.3 166.7h1v1h-1zM442.1 65.2h1v1h-1zM453.5 165.0h1v1h-1zM414.5 229.6h1v1h-1zM445.2 168.6h1v1h-1zM361.9 11.2h1v1h-1zM381.4 74.8h1v1h-1zM436.3 50.2h1v1h-1zM547.4 170.6h1v1h-1zM537.5 208.8h1v1h-1zM471.1 21.8h1v1h-1zM599.0 105.2h1v1h-1zM514.7 168.1h1v1h-1zM368.8 232.8h1v1h-1zM555.7 56.3h1v1h-1zM479.0 90.0h1v1h-1zM464.4 47.3h1v1h-1zM484.2 27.8h1v1h-1zM467.4 96.8h1v1h-1zM452.8 3.7h1v1h-1zM417.5 142.2h1v1h-1zM467.6 240.4h1v1h-1zM364.7 56.0h1v1h-1zM514.4 126.2h1v1h-1zM399.7 231.4h1v1h-1zM431.0 170.2h1v1h-1zM414.4 94.4h1v1h-1zM506.7 135.8h1v1h-1zM429.7 21.4h1v1h-1zM565.1 89.2h1v1h-1zM442.9 101.6h1v1h-1zM368.0 54.0h1v1h-1zM530.9 186.7h1v1h-1zM538.3 27.8h1v1h-1zM523.6 180.1h1v1h-1zM498.1 182.5h1v1h-1zM399.6 71.5h1v1h-1zM588.3 54.1h1v1h-1zM415.2 53.4h1v1h-1zM367.4 182.6h1v1h-1zM437.4 195.6h1v1h-1zM402.7 217.1h1v1h-1zM491.2 53.4h1v1h-1zM408.8 50.6h1v1h-1zM430.4 191.5h1v1h-1zM601.9 73.1h1v1h-1zM456.2 183.0h1v1h-1zM467.6 184.8h1v1h-1zM369.2 108.1h1v1h-1zM507.3 18.0h1v1h-1zM559.7 101.5h1v1h-1zM503.2 174.8h1v1h-1zM366.2 111.0h1v1h-1zM383.8 125.4h1v1h-1zM416.4 28.7h1v1h-1zM600.6 228.3h1v1h-1zM423.3 170.5h1v1h-1zM455.6 103.4h1v1h-1zM522.3 136.4h1v1h-1zM406.5 229.8h1v1h-1zM562.7 212.9h1v1h-1zM576.9 111.7h1v1h-1zM395.7 133.8h1v1h-1zM577.6 112.5h1v1h-1zM457.6 47.1h1v1h-1zM506.0 223.2h1v1h-1zM498.2 79.6h1v1h-1zM483.7 10.2h1v1h-1zM531.9 225.4h1v1h-1zM469.8 113.6h1v1h-1zM411.7 51.4h1v1h-1zM502.9 58.3h1v1h-1zM517.2 122.8h1v1h-1zM389.0 145.4h1v1h-1zM372.1 212.7h1v1h-1zM563.6 180.7h1v1h-1zM403.3 135.6h1v1h-1zM587.4 5.5h1v1h-1zM413.5 227.4h1v1h-1zM416.4 1.2h1v1h-1zM514.4 201.6h1v1h-1zM566.4 137.6h1v1h-1zM435.1 24.7h1v1h-1zM419.6 191.1h1v1h-1zM569.7 62.8h1v1h-1zM477.4 93.2h1v1h-1zM584.4 160.1h1v1h-1zM460.3 31.9h1v1h-1zM436.1 49.9h1v1h-1zM557.8 14.6h1v1h-1zM453.0 222.5h1v1h-1zM448.5 35.1h1v1h-1zM545.5 16.7h1v1h-1zM515.6 25.1h1v1h-1zM453.9 150.3h1v1h-1zM550.4 174.2h1v1h-1zM433.3 175.3h1v1h-1zM496.8 116.1h1v1h-1zM503.6 167.9h1v1h-1zM439.9 188.4h1v1h-1zM537.4 48.7h1v1h-1zM457.4 6.4h1v1h-1zM426.4 214.1h1v1h-1zM546.1 164.6h1v1h-1zM554.0 64.4h1v1h-1zM366.8 202.4h1v1h-1zM429.2 124.6h1v1h-1zM394.2 89.0h1v1h-1zM444.1 222.2h1v1h-1zM496.9 115.6h1v1h-1zM581.8 59.9h1v1h-1zM533.1 10.9h1v1h-1zM385.8 189.8h1v1h-1zM555.9 112.6h1v1h-1zM467.1 144.4h1v1h-1zM427.6 8.0h1v1h-1zM419.8 7.7h1v1h-1zM548.7 41.4h1v1h-1zM495.5 51.4h1v1h-1zM467.7 29.3h1v1h-1zM583.9 157.2h1v1h-1zM396.7 64.0h1v1h-1z" fill="#f9d8ca" opacity="0.75"/>
<path d="M510.8 120.6h1v1h-1zM549.1 113.2h1v1h-1zM488.1 211.9h1v1h-1zM443.3 85.4h1v1h-1zM375.7 170.1h1v1h-1zM457.3 222.0h1v1h-1zM531.9 238.7h1v1h-1zM471.5 210.9h1v1h-1zM457.3 96.0h1v1h-1zM592.2 146.1h1v1h-1zM390.7 205.6h1v1h-1zM600.5 191.4h1v1h-1zM563.0 29.9h1v1h-1zM550.3 181.8h1v1h-1zM382.0 229.0h1v1h-1zM367.7 143.4h1v1h-1zM556.2 36.2h1v1h-1zM488.4 226.0h1v1h-1zM545.8 79.6h1v1h-1zM578.2 160.7h1v1h-1zM439.9 125.9h1v1h-1zM528.6 110.0h1v1h-1zM395.6 213.8h1v1h-1zM414.1 230.6h1v1h-1zM400.1 105.0h1v1h-1zM426.4 32.2h1v1h-1zM459.2 130.3h1v1h-1zM377.1 208.9h1v1h-1zM363.8 240.6h1v1h-1zM489.5 50.6h1v1h-1zM485.4 60.2h1v1h-1zM386.7 198.4h1v1h-1zM519.9 132.6h1v1h-1zM465.2 14.4h1v1h-1zM472.2 39.0h1v1h-1zM447.3 1.3h1v1h-1zM424.9 22.6h1v1h-1zM520.1 173.6h1v1h-1zM546.0 174.7h1v1h-1zM371.6 202.3h1v1h-1zM593.2 91.8h1v1h-1zM520.6 16.9h1v1h-1zM540.0 236.2h1v1h-1zM431.1 19.4h1v1h-1zM481.5 212.2h1v1h-1zM367.0 1.9h1v1h-1zM422.3 16.7h1v1h-1zM535.1 12.9h1v1h-1zM459.3 58.5h1v1h-1zM516.7 19.1h1v1h-1zM575.7 181.7h1v1h-1zM383.4 217.1h1v1h-1zM391.8 103.5h1v1h-1zM455.7 224.4h1v1h-1zM588.8 174.9h1v1h-1zM512.6 128.3h1v1h-1zM363.5 73.7h1v1h-1zM374.4 47.8h1v1h-1zM380.6 55.9h1v1h-1zM590.6 36.3h1v1h-1zM440.7 45.7h1v1h-1zM368.7 161.1h1v1h-1zM564.1 238.4h1v1h-1zM496.8 183.9h1v1h-1zM447.3 199.0h1v1h-1zM439.2 178.7h1v1h-1zM368.3 100.0h1v1h-1zM366.9 57.4h1v1h-1zM534.2 113.2h1v1h-1zM552.1 221.2h1v1h-1zM462.9 239.2h1v1h-1zM402.9 33.0h1v1h-1zM558.2 198.3h1v1h-1zM379.9 8.6h1v1h-1zM517.0 95.2h1v1h-1zM463.5 198.7h1v1h-1zM585.0 27.2h1v1h-1zM516.0 207.4h1v1h-1zM509.8 48.3h1v1h-1zM405.3 53.6h1v1h-1zM522.6 79.1h1v1h-1zM464.0 159.8h1v1h-1zM469.1 150.1h1v1h-1zM563.4 196.3h1v1h-1zM386.9 32.0h1v1h-1zM407.9 237.6h1v1h-1zM515.0 87.7h1v1h-1zM422.0 130.1h1v1h-1zM539.6 90.5h1v1h-1zM397.1 149.5h1v1h-1zM410.4 151.4h1v1h-1zM504.9 140.4h1v1h-1zM395.4 49.1h1v1h-1zM376.4 151.9h1v1h-1zM534.1 2.5h1v1h-1zM541.3 113.1h1v1h-1zM533.2 65.1h1v1h-1zM452.8 206.3h1v1h-1zM573.9 183.1h1v1h-1zM547.2 146.1h1v1h-1zM362.1 119.3h1v1h-1zM529.2 199.9h1v1h-1zM513.0 86.7h1v1h-1zM501.2 31.4h1v1h-1zM364.1 206.9h1v1h-1zM473.1 35.2h1v1h-1zM362.3 59.4h1v1h-1zM530.7 142.6h1v1h-1zM525.5 155.6h1v1h-1zM577.5 59.4h1v1h-1zM486.7 25.4h1v1h-1zM364.2 101.9h1v1h-1zM387.4 74.1h1v1h-1zM601.6 232.6h1v1h-1zM556.9 153.9h1v1h-1zM446.5 154.9h1v1h-1zM598.9 164.6h1v1h-1zM567.7 45.7h1v1h-1zM444.8 37.8h1v1h-1zM478.2 219.2h1v1h-1zM399.8 78.3h1v1h-1zM556.7 23.6h1v1h-1zM550.8 10.7h1v1h-1zM387.3 12.2h1v1h-1zM508.3 159.6h1v1h-1zM412.4 161.7h1v1h-1zM548.3 102.5h1v1h-1zM469.0 4.4h1v1h-1zM413.8 30.2h1v1h-1zM537.6 21.3h1v1h-1zM437.5 229.7h1v1h-1zM448.9 156.4h1v1h-1zM476.4 188.5h1v1h-1zM427.3 206.1h1v1h-1zM444.9 21.5h1v1h-1zM435.9 14.9h1v1h-1zM502.9 3.3h1v1h-1zM575.2 126.8h1v1h-1zM448.8 137.0h1v1h-1zM570.7 90.6h1v1h-1zM383.8 50.3h1v1h-1zM373.3 135.3h1v1h-1zM497.6 155.4h1v1h-1zM563.6 12.3h1v1h-1zM474.9 90.6h1v1h-1zM549.4 231.9h1v1h-1zM564.8 152.4h1v1h-1zM467.2 37.0h1v1h-1zM424.1 27.3h1v1h-1zM395.9 155.2h1v1h-1zM406.0 105.9h1v1h-1zM561.6 215.3h1v1h-1zM564.7 209.3h1v1h-1zM382.9 99.7h1v1h-1zM431.6 27.0h1v1h-1zM424.3 202.8h1v1h-1zM371.9 30.7h1v1h-1zM396.6 139.1h1v1h-1zM400.8 200.1h1v1h-1zM415.6 102.4h1v1h-1zM472.5 133.1h1v1h-1zM441.7 46.5h1v1h-1zM559.7 125.8h1v1h-1zM461.0 25.9h1v1h-1zM546.3 142.2h1v1h-1zM452.9 110.0h1v1h-1zM455.5 134.8h1v1h-1zM517.9 2.6h1v1h-1zM555.3 106.0h1v1h-1zM593.0 50.2h1v1h-1zM372.5 137.1h1v1h-1zM491.3 241.6h1v1h-1zM573.9 233.4h1v1h-1zM559.6 239.6h1v1h-1zM368.0 19.3h1v1h-1zM445.4 109.4h1v1h-1zM365.7 54.0h1v1h-1zM502.0 232.3h1v1h-1zM437.2 217.6h1v1h-1zM434.5 146.2h1v1h-1zM598.0 17.3h1v1h-1zM524.3 141.9h1v1h-1zM435.8 211.9h1v1h-1zM362.8 213.6h1v1h-1zM496.9 28.7h1v1h-1zM399.5 86.1h1v1h-1zM589.0 241.5h1v1h-1zM492.3 66.2h1v1h-1zM415.8 31.4h1v1h-1zM429.3 98.2h1v1h-1zM578.1 7.1h1v1h-1zM542.4 21.8h1v1h-1zM429.0 22.7h1v1h-1zM468.1 83.0h1v1h-1zM527.1 118.2h1v1h-1zM418.6 59.3h1v1h-1zM441.7 197.5h1v1h-1zM505.9 112.1h1v1h-1zM363.6 240.1h1v1h-1zM387.3 118.8h1v1h-1zM371.0 137.6h1v1h-1zM580.1 228.7h1v1h-1zM527.5 40.4h1v1h-1zM536.0 1.7h1v1h-1zM508.4 72.6h1v1h-1zM566.2 54.6h1v1h-1zM489.3 137.1h1v1h-1zM532.6 55.7h1v1h-1zM567.1 164.8h1v1h-1zM595.2 47.2h1v1h-1zM422.6 47.5h1v1h-1zM366.2 239.3h1v1h-1zM495.1 70.9h1v1h-1zM601.7 118.4h1v1h-1zM379.1 150.5h1v1h-1zM565.0 234.2h1v1h-1zM412.2 198.4h1v1h-1zM437.1 81.9h1v1h-1zM441.8 5.9h1v1h-1zM536.9 35.6h1v1h-1zM397.5 50.5h1v1h-1zM600.0 87.0h1v1h-1zM535.5 223.2h1v1h-1zM571.0 7.5h1v1h-1zM382.1 148.7h1v1h-1zM600.1 97.3h1v1h-1zM416.7 150.1h1v1h-1zM518.7 133.4h1v1h-1zM392.9 3.2h1v1h-1zM397.4 152.6h1v1h-1zM514.9 84.0h1v1h-1zM375.5 137.0h1v1h-1zM368.4 6.0h1v1h-1zM429.4 80.9h1v1h-1zM526.2 145.0h1v1h-1zM542.8 112.9h1v1h-1zM382.8 82.8h1v1h-1zM573.6 30.0h1v1h-1zM457.6 77.7h1v1h-1zM453.7 37.4h1v1h-1zM459.2 135.6h1v1h-1zM475.6 157.0h1v1h-1zM484.5 143.7h1v1h-1zM417.7 152.7h1v1h-1zM418.8 42.5h1v1h-1zM438.9 88.2h1v1h-1zM470.6 22.2h1v1h-1zM511.7 127.1h1v1h-1zM422.9 65.0h1v1h-1zM533.4 72.2h1v1h-1zM380.3 108.4h1v1h-1zM387.1 136.8h1v1h-1zM530.6 106.1h1v1h-1zM403.6 16.7h1v1h-1zM523.2 179.4h1v1h-1zM495.0 186.4h1v1h-1zM499.2 4.7h1v1h-1zM382.4 182.5h1v1h-1zM477.8 14.2h1v1h-1zM565.2 34.8h1v1h-1zM495.5 124.1h1v1h-1zM490.9 91.1h1v1h-1zM369.5 53.9h1v1h-1zM431.6 172.2h1v1h-1zM573.5 14.9h1v1h-1zM569.8 18.3h1v1h-1zM550.8 230.2h1v1h-1zM415.2 201.9h1v1h-1zM455.7 8.9h1v1h-1zM431.4 84.9h1v1h-1zM556.8 175.4h1v1h-1zM370.6 140.6h1v1h-1zM441.3 204.0h1v1h-1zM573.7 29.2h1v1h-1zM558.1 83.4h1v1h-1zM588.6 100.3h1v1h-1zM552.6 116.6h1v1h-1zM502.0 194.6h1v1h-1zM521.5 218.9h1v1h-1zM552.9 2.1h1v1h-1zM507.1 230.2h1v1h-1zM462.3 146.7h1v1h-1zM406.3 215.4h1v1h-1zM413.3 152.1h1v1h-1zM415.3 215.5h1v1h-1zM568.3 234.3h1v1h-1zM539.3 164.0h1v1h-1zM434.9 171.9h1v1h-1zM555.8 164.0h1v1h-1zM448.6 78.0h1v1h-1zM425.6 50.2h1v1h-1zM428.5 130.1h1v1h-1zM567.0 30.2h1v1h-1zM543.4 164.4h1v1h-1zM567.2 161.9h1v1h-1zM540.8 198.9h1v1h-1zM573.6 32.6h1v1h-1zM469.1 122.3h1v1h-1zM536.3 142.0h1v1h-1zM455.5 231.0h1v1h-1zM520.2 61.7h1v1h-1zM500.3 105.0h1v1h-1zM539.9 167.6h1v1h-1zM578.6 194.9h1v1h-1zM449.1 214.1h1v1h-1zM532.9 228.8h1v1h-1zM394.5 27.8h1v1h-1zM568.8 82.6h1v1h-1zM589.6 107.0h1v1h-1zM534.5 114.2h1v1h-1zM507.6 29.5h1v1h-1zM548.6 11.7h1v1h-1zM510.0 78.9h1v1h-1zM366.8 200.9h1v1h-1zM486.9 110.8h1v1h-1zM523.2 33.5h1v1h-1zM439.5 23.8h1v1h-1zM400.4 229.2h1v1h-1zM427.4 61.2h1v1h-1zM600.5 43.5h1v1h-1zM519.8 145.1h1v1h-1zM395.4 28.2h1v1h-1zM417.8 8.1h1v1h-1zM479.0 27.5h1v1h-1zM383.7 29.4h1v1h-1zM584.4 220.3h1v1h-1zM497.2 210.7h1v1h-1zM377.5 170.5h1v1h-1zM491.0 57.4h1v1h-1zM376.9 91.1h1v1h-1zM507.8 115.5h1v1h-1zM463.3 20.3h1v1h-1zM554.5 3.3h1v1h-1zM500.6 86.7h1v1h-1zM524.7 189.2h1v1h-1zM400.5 16.6h1v1h-1zM409.0 4.6h1v1h-1zM542.8 203.2h1v1h-1zM436.4 18.4h1v1h-1zM553.1 110.0h1v1h-1zM560.6 114.7h1v1h-1zM414.5 71.1h1v1h-1zM392.8 15.9h1v1h-1zM469.8 206.4h1v1h-1zM547.4 90.6h1v1h-1zM510.7 26.3h1v1h-1zM466.8 21.7h1v1h-1zM400.7 129.2h1v1h-1zM401.9 42.9h1v1h-1zM423.8 179.5h1v1h-1zM555.1 7.7h1v1h-1zM553.0 204.1h1v1h-1zM590.0 114.3h1v1h-1zM409.0 112.4h1v1h-1zM436.3 115.9h1v1h-1zM436.0 153.4h1v1h-1zM519.5 138.0h1v1h-1zM414.0 213.8h1v1h-1zM522.8 35.5h1v1h-1zM571.2 217.3h1v1h-1zM602.2 55.9h1v1h-1zM483.1 45.2h1v1h-1zM564.3 186.3h1v1h-1zM417.4 85.8h1v1h-1zM538.6 81.9h1v1h-1zM371.1 190.0h1v1h-1zM446.8 152.8h1v1h-1zM554.9 38.7h1v1h-1zM510.2 195.4h1v1h-1zM427.7 81.1h1v1h-1zM370.6 120.7h1v1h-1zM448.3 236.9h1v1h-1zM439.7 99.6h1v1h-1zM512.5 158.9h1v1h-1zM498.9 176.5h1v1h-1zM399.3 207.7h1v1h-1zM397.1 184.4h1v1h-1zM580.5 142.4h1v1h-1zM550.3 50.6h1v1h-1zM471.4 209.1h1v1h-1zM423.9 123.0h1v1h-1zM513.7 129.4h1v1h-1zM412.4 101.3h1v1h-1zM556.0 165.4h1v1h-1zM582.4 217.6h1v1h-1zM547.4 77.6h1v1h-1zM377.3 201.1h1v1h-1zM591.8 240.5h1v1h-1zM563.0 142.9h1v1h-1zM379.0 188.7h1v1h-1zM521.2 25.3h1v1h-1zM414.9 97.6h1v1h-1zM408.0 162.4h1v1h-1zM587.0 197.3h1v1h-1zM391.7 17.2h1v1h-1zM392.9 132.1h1v1h-1zM565.9 181.5h1v1h-1zM486.2 61.0h1v1h-1zM493.7 83.4h1v1h-1zM577.7 205.6h1v1h-1zM599.7 58.9h1v1h-1zM419.9 142.5h1v1h-1zM426.1 188.1h1v1h-1zM474.2 4.3h1v1h-1zM549.3 204.0h1v1h-1zM450.3 105.3h1v1h-1zM598.6 41.8h1v1h-1zM521.9 108.6h1v1h-1zM423.5 42.5h1v1h-1zM526.1 163.8h1v1h-1zM431.3 129.7h1v1h-1zM364.8 215.6h1v1h-1zM382.0 200.1h1v1h-1zM571.6 239.5h1v1h-1zM435.5 229.7h1v1h-1zM453.4 131.8h1v1h-1zM472.7 84.9h1v1h-1zM458.1 39.5h1v1h-1zM538.2 159.6h1v1h-1zM398.8 185.2h1v1h-1zM551.3 164.4h1v1h-1zM466.7 163.3h1v1h-1zM406.8 25.3h1v1h-1zM414.5 209.8h1v1h-1zM517.9 90.6h1v1h-1zM422.1 21.8h1v1h-1zM405.1 1.0h1v1h-1zM415.0 59.5h1v1h-1zM388.7 181.7h1v1h-1zM411.6 9.8h1v1h-1zM460.6 225.4h1v1h-1zM415.2 101.7h1v1h-1zM524.8 142.0h1v1h-1zM427.4 200.5h1v1h-1zM380.3 89.9h1v1h-1zM597.7 4.2h1v1h-1zM514.0 204.2h1v1h-1zM558.9 211.8h1v1h-1zM520.2 6.3h1v1h-1zM531.6 149.5h1v1h-1zM577.6 29.4h1v1h-1zM433.6 234.1h1v1h-1zM386.8 224.1h1v1h-1zM595.5 78.5h1v1h-1zM562.8 142.3h1v1h-1zM385.8 193.9h1v1h-1zM557.2 88.7h1v1h-1zM497.3 236.3h1v1h-1zM525.0 70.7h1v1h-1zM535.1 91.1h1v1h-1zM476.1 157.5h1v1h-1zM371.4 47.1h1v1h-1zM458.4 138.3h1v1h-1zM590.7 54.0h1v1h-1zM364.1 208.6h1v1h-1zM546.0 143.4h1v1h-1zM521.3 226.9h1v1h-1zM406.5 81.3h1v1h-1zM557.9 14.9h1v1h-1zM370.0 190.9h1v1h-1zM367.5 204.0h1v1h-1zM568.8 119.1h1v1h-1zM594.8 202.7h1v1h-1zM501.5 4.0h1v1h-1zM522.7 1.7h1v1h-1zM577.6 60.6h1v1h-1zM441.3 131.9h1v1h-1zM554.7 58.4h1v1h-1zM420.8 125.4h1v1h-1zM591.3 38.0h1v1h-1zM400.5 203.6h1v1h-1zM440.0 18.1h1v1h-1zM501.5 30.4h1v1h-1zM384.6 185.7h1v1h-1zM468.1 23.4h1v1h-1zM586.7 2.6h1v1h-1zM572.4 99.6h1v1h-1zM573.1 17.1h1v1h-1zM570.1 154.9h1v1h-1zM588.3 109.4h1v1h-1zM468.9 113.8h1v1h-1zM427.5 130.2h1v1h-1zM464.3 5.9h1v1h-1zM500.5 215.6h1v1h-1zM502.1 108.8h1v1h-1zM419.0 152.1h1v1h-1zM440.7 93.9h1v1h-1zM538.0 10.0h1v1h-1zM481.6 73.0h1v1h-1zM380.1 79.3h1v1h-1zM512.4 68.3h1v1h-1zM599.3 65.3h1v1h-1zM404.9 197.6h1v1h-1zM505.2 158.6h1v1h-1zM364.1 108.2h1v1h-1zM558.3 238.5h1v1h-1zM434.4 184.2h1v1h-1zM443.8 123.5h1v1h-1zM421.5 140.4h1v1h-1zM392.6 165.1h1v1h-1zM407.5 152.0h1v1h-1zM586.6 82.4h1v1h-1zM542.7 11.4h1v1h-1zM568.9 164.2h1v1h-1zM507.6 4.8h1v1h-1zM488.8 66.3h1v1h-1zM459.1 33.8h1v1h-1zM403.3 188.4h1v1h-1zM555.1 32.7h1v1h-1zM395.7 165.2h1v1h-1zM503.5 120.0h1v1h-1zM499.6 32.1h1v1h-1zM496.8 88.2h1v1h-1z" fill="#f9d8ca" opacity="0.9"/>
<circle cx="482.5" cy="121.9" r="48" fill="url(#cloud)"/>
<path d="M486.6 132.3h1v1h-1zM474.7 123.7h1v1h-1zM485.8 147.5h1v1h-1zM483.7 109.8h1v1h-1zM502.9 134.3h1v1h-1zM482.9 137.7h1v1h-1zM485.8 111.1h1v1h-1zM480.2 101.9h1v1h-1zM501.5 105.1h1v1h-1zM485.8 98.8h1v1h-1zM504.9 133.0h1v1h-1zM476.2 100.3h1v1h-1zM503.6 109.8h1v1h-1zM481.8 127.8h1v1h-1zM487.6 132.0h1v1h-1zM478.1 116.8h1v1h-1zM475.5 101.0h1v1h-1zM505.7 123.6h1v1h-1zM469.2 99.2h1v1h-1zM499.5 141.4h1v1h-1zM494.3 143.0h1v1h-1zM487.9 145.4h1v1h-1zM488.2 116.1h1v1h-1zM489.1 97.2h1v1h-1zM466.2 126.6h1v1h-1zM462.2 125.1h1v1h-1zM479.8 141.2h1v1h-1zM506.1 135.4h1v1h-1zM488.8 96.0h1v1h-1zM461.2 118.3h1v1h-1zM459.0 125.9h1v1h-1zM480.7 107.1h1v1h-1zM462.4 118.0h1v1h-1zM505.3 109.9h1v1h-1zM500.6 130.5h1v1h-1zM463.9 120.4h1v1h-1zM475.8 132.1h1v1h-1zM463.5 135.4h1v1h-1zM468.1 136.2h1v1h-1zM491.3 117.7h1v1h-1zM493.0 118.1h1v1h-1zM482.7 127.3h1v1h-1zM483.0 103.7h1v1h-1zM492.8 114.9h1v1h-1zM481.0 133.1h1v1h-1zM463.6 131.6h1v1h-1zM486.5 97.1h1v1h-1zM471.4 103.8h1v1h-1zM497.7 141.0h1v1h-1zM464.1 142.6h1v1h-1zM464.0 131.3h1v1h-1zM488.6 135.8h1v1h-1zM491.1 141.9h1v1h-1zM483.4 102.8h1v1h-1zM504.9 123.4h1v1h-1zM492.6 137.1h1v1h-1zM459.3 116.8h1v1h-1zM477.5 98.5h1v1h-1zM491.5 106.0h1v1h-1zM505.3 133.7h1v1h-1zM471.9 96.4h1v1h-1zM461.9 113.1h1v1h-1zM466.9 108.0h1v1h-1zM469.4 143.3h1v1h-1zM480.1 101.5h1v1h-1zM494.6 140.2h1v1h-1zM479.4 127.4h1v1h-1zM500.2 132.1h1v1h-1zM506.3 110.5h1v1h-1zM489.8 107.5h1v1h-1zM463.6 116.0h1v1h-1zM462.4 126.0h1v1h-1zM463.5 119.5h1v1h-1zM461.4 107.8h1v1h-1zM474.7 143.0h1v1h-1zM482.5 123.0h1v1h-1zM458.9 107.8h1v1h-1zM489.0 117.1h1v1h-1zM468.6 106.6h1v1h-1zM480.2 107.1h1v1h-1zM491.1 140.4h1v1h-1zM474.6 116.2h1v1h-1zM490.1 100.1h1v1h-1zM483.4 97.4h1v1h-1zM459.3 114.7h1v1h-1zM486.1 103.0h1v1h-1zM460.2 123.4h1v1h-1zM493.8 137.8h1v1h-1zM496.1 139.7h1v1h-1zM472.9 128.0h1v1h-1zM503.5 118.0h1v1h-1zM469.0 132.7h1v1h-1zM460.6 114.5h1v1h-1zM470.2 139.4h1v1h-1zM487.1 142.1h1v1h-1zM467.1 135.9h1v1h-1zM506.4 124.7h1v1h-1zM463.0 139.2h1v1h-1zM474.0 128.6h1v1h-1zM479.4 129.5h1v1h-1zM487.4 138.8h1v1h-1zM476.8 143.0h1v1h-1zM503.2 127.3h1v1h-1zM467.5 105.4h1v1h-1zM474.1 129.4h1v1h-1zM467.5 132.4h1v1h-1zM473.0 105.7h1v1h-1zM474.8 133.7h1v1h-1zM477.1 126.3h1v1h-1zM473.0 128.4h1v1h-1zM505.4 125.3h1v1h-1zM470.9 101.4h1v1h-1zM488.8 138.6h1v1h-1zM481.2 121.5h1v1h-1zM503.0 104.2h1v1h-1zM482.6 144.3h1v1h-1zM463.2 120.2h1v1h-1zM493.0 126.7h1v1h-1zM491.3 142.2h1v1h-1zM480.2 112.0h1v1h-1zM490.5 137.6h1v1h-1zM470.2 109.5h1v1h-1zM460.7 124.3h1v1h-1zM504.7 129.3h1v1h-1zM487.8 133.6h1v1h-1zM501.5 125.1h1v1h-1zM496.6 129.1h1v1h-1zM502.9 116.6h1v1h-1zM464.5 100.7h1v1h-1zM502.6 108.3h1v1h-1zM491.8 133.6h1v1h-1zM497.7 107.7h1v1h-1zM470.8 108.6h1v1h-1zM498.8 120.9h1v1h-1zM490.6 100.3h1v1h-1zM470.6 135.3h1v1h-1zM494.8 121.0h1v1h-1zM479.5 126.7h1v1h-1zM472.3 147.6h1v1h-1zM470.6 109.0h1v1h-1zM472.3 127.6h1v1h-1zM463.2 133.9h1v1h-1zM494.0 113.1h1v1h-1zM477.8 116.7h1v1h-1zM455.5 128.0h1v1h-1zM471.0 124.7h1v1h-1zM499.9 143.8h1v1h-1zM486.2 107.0h1v1h-1zM468.9 120.9h1v1h-1zM491.2 109.9h1v1h-1zM474.0 126.9h1v1h-1zM480.8 96.8h1v1h-1zM457.3 133.9h1v1h-1zM457.5 133.5h1v1h-1zM487.7 113.1h1v1h-1zM472.5 132.3h1v1h-1zM459.8 105.8h1v1h-1zM482.3 135.9h1v1h-1zM472.0 99.7h1v1h-1zM483.4 111.0h1v1h-1zM493.9 132.4h1v1h-1zM475.1 125.3h1v1h-1zM481.8 107.0h1v1h-1zM496.4 145.1h1v1h-1zM497.1 101.1h1v1h-1zM482.6 145.6h1v1h-1zM482.1 146.8h1v1h-1zM492.4 117.7h1v1h-1zM492.5 114.8h1v1h-1z" fill="#f5795a" opacity="0.35"/>
<path d="M462.8 120.4h1v1h-1zM503.8 135.6h1v1h-1zM500.7 123.6h1v1h-1zM506.8 121.5h1v1h-1zM482.8 122.9h1v1h-1zM506.0 117.6h1v1h-1zM497.7 112.1h1v1h-1zM491.0 143.3h1v1h-1zM496.9 125.5h1v1h-1zM493.8 144.1h1v1h-1zM484.1 133.9h1v1h-1zM503.9 104.4h1v1h-1zM491.1 122.9h1v1h-1zM498.2 111.3h1v1h-1zM496.2 100.0h1v1h-1zM499.0 126.9h1v1h-1zM477.8 122.7h1v1h-1zM466.6 126.7h1v1h-1zM478.8 101.4h1v1h-1zM499.7 109.4h1v1h-1zM464.9 120.1h1v1h-1zM462.4 117.3h1v1h-1zM491.8 146.1h1v1h-1zM485.4 142.0h1v1h-1zM466.5 142.5h1v1h-1zM468.4 106.6h1v1h-1zM481.2 99.7h1v1h-1zM483.6 138.7h1v1h-1zM501.7 135.3h1v1h-1zM469.1 131.3h1v1h-1zM484.4 127.7h1v1h-1zM466.9 121.3h1v1h-1zM474.1 119.1h1v1h-1zM488.1 140.8h1v1h-1zM495.6 127.3h1v1h-1zM456.8 127.3h1v1h-1zM480.9 116.9h1v1h-1zM463.7 127.5h1v1h-1zM502.3 109.5h1v1h-1zM479.6 125.6h1v1h-1zM468.1 99.3h1v1h-1zM501.6 109.0h1v1h-1zM472.1 114.6h1v1h-1zM476.3 149.0h1v1h-1zM492.8 121.2h1v1h-1zM460.0 118.6h1v1h-1zM502.2 128.6h1v1h-1zM467.3 127.6h1v1h-1zM494.6 112.2h1v1h-1zM473.0 99.9h1v1h-1zM505.3 119.0h1v1h-1zM476.5 109.8h1v1h-1zM481.6 94.9h1v1h-1zM491.7 130.5h1v1h-1zM457.5 114.0h1v1h-1zM505.4 137.9h1v1h-1zM493.7 128.3h1v1h-1zM478.5 96.9h1v1h-1zM478.5 106.7h1v1h-1zM461.6 137.2h1v1h-1zM463.8 114.0h1v1h-1zM506.7 125.3h1v1h-1zM494.1 128.4h1v1h-1zM486.7 144.3h1v1h-1zM501.7 138.8h1v1h-1zM471.4 124.8h1v1h-1zM477.9 100.1h1v1h-1zM456.8 114.0h1v1h-1zM492.2 118.6h1v1h-1zM498.5 104.7h1v1h-1zM487.2 121.7h1v1h-1zM496.8 131.5h1v1h-1zM502.4 109.1h1v1h-1zM486.0 129.3h1v1h-1zM470.4 99.4h1v1h-1zM507.0 130.7h1v1h-1zM467.2 127.2h1v1h-1zM502.8 131.2h1v1h-1zM506.7 132.0h1v1h-1zM476.6 142.0h1v1h-1zM474.9 142.2h1v1h-1zM475.6 142.8h1v1h-1zM474.3 123.9h1v1h-1zM467.5 98.8h1v1h-1zM475.4 117.0h1v1h-1zM478.8 130.6h1v1h-1zM495.0 141.5h1v1h-1zM483.0 131.0h1v1h-1zM491.0 121.7h1v1h-1zM468.1 145.6h1v1h-1zM476.3 131.2h1v1h-1zM458.3 130.2h1v1h-1zM464.1 136.6h1v1h-1zM498.2 144.6h1v1h-1zM485.2 94.4h1v1h-1zM487.9 129.4h1v1h-1zM470.5 99.9h1v1h-1zM474.5 102.1h1v1h-1zM467.0 113.0h1v1h-1zM488.4 128.7h1v1h-1zM466.2 141.5h1v1h-1zM460.0 122.8h1v1h-1zM482.3 97.3h1v1h-1zM482.2 132.5h1v1h-1zM484.0 95.4h1v1h-1zM480.4 131.1h1v1h-1zM508.6 126.3h1v1h-1zM490.5 97.6h1v1h-1zM463.5 137.3h1v1h-1zM508.5 125.1h1v1h-1zM475.3 134.1h1v1h-1zM481.6 100.8h1v1h-1zM457.1 115.9h1v1h-1zM479.7 141.1h1v1h-1zM470.2 137.3h1v1h-1zM490.6 108.6h1v1h-1zM464.7 108.9h1v1h-1zM494.5 103.1h1v1h-1zM478.7 141.9h1v1h-1zM470.8 117.7h1v1h-1zM477.5 129.2h1v1h-1zM467.5 134.5h1v1h-1zM496.1 136.0h1v1h-1zM497.1 116.2h1v1h-1zM491.6 147.8h1v1h-1zM474.1 98.5h1v1h-1zM463.0 141.6h1v1h-1zM471.4 106.8h1v1h-1zM455.9 115.8h1v1h-1zM462.0 128.3h1v1h-1zM490.0 105.5h1v1h-1zM477.7 136.4h1v1h-1zM500.4 137.1h1v1h-1zM456.2 123.7h1v1h-1zM478.9 124.3h1v1h-1zM479.3 119.8h1v1h-1zM463.0 105.9h1v1h-1zM456.7 122.3h1v1h-1zM471.7 145.9h1v1h-1zM488.8 119.1h1v1h-1zM475.8 136.2h1v1h-1zM491.7 130.1h1v1h-1zM479.6 98.6h1v1h-1zM504.0 131.1h1v1h-1zM499.6 116.5h1v1h-1zM462.5 117.4h1v1h-1zM484.0 106.0h1v1h-1zM498.0 102.5h1v1h-1zM478.3 146.1h1v1h-1zM485.5 148.9h1v1h-1zM496.7 116.3h1v1h-1z" fill="#a01016" opacity="0.25"/>
<path d="M453.7 110.6h1v1h-1zM439.3 131.4h1v1h-1zM454.5 104.8h1v1h-1zM516.5 144.7h1v1h-1zM519.5 131.9h1v1h-1zM527.0 111.9h1v1h-1zM454.7 97.2h1v1h-1zM440.6 116.8h1v1h-1zM445.7 122.0h1v1h-1zM446.4 131.8h1v1h-1zM471.5 81.2h1v1h-1zM450.5 149.6h1v1h-1zM508.3 85.0h1v1h-1zM513.8 118.0h1v1h-1zM508.5 134.7h1v1h-1zM489.0 86.0h1v1h-1zM484.8 76.8h1v1h-1zM450.0 133.1h1v1h-1zM510.0 146.6h1v1h-1zM489.4 150.9h1v1h-1zM500.1 99.0h1v1h-1zM512.3 143.6h1v1h-1zM493.0 166.4h1v1h-1zM484.0 157.0h1v1h-1zM457.8 147.6h1v1h-1zM512.5 114.0h1v1h-1zM454.0 107.5h1v1h-1zM500.0 161.0h1v1h-1zM497.2 164.0h1v1h-1zM515.6 91.7h1v1h-1zM451.0 138.8h1v1h-1zM448.2 98.1h1v1h-1zM450.5 94.0h1v1h-1zM506.1 147.5h1v1h-1zM469.0 87.1h1v1h-1zM504.9 149.0h1v1h-1zM520.0 113.0h1v1h-1zM466.0 157.6h1v1h-1zM523.4 142.8h1v1h-1zM479.7 88.0h1v1h-1zM479.0 78.4h1v1h-1zM492.9 84.7h1v1h-1zM456.2 157.2h1v1h-1zM513.4 99.7h1v1h-1zM445.3 143.3h1v1h-1zM509.3 91.0h1v1h-1zM457.9 97.3h1v1h-1zM457.8 107.8h1v1h-1zM513.9 139.2h1v1h-1zM519.3 120.4h1v1h-1zM476.6 79.2h1v1h-1zM479.8 93.4h1v1h-1zM449.9 134.7h1v1h-1zM518.9 143.1h1v1h-1zM521.6 129.3h1v1h-1zM447.1 126.2h1v1h-1zM514.1 104.6h1v1h-1zM493.6 158.1h1v1h-1zM506.3 102.7h1v1h-1zM492.9 93.6h1v1h-1zM514.6 91.8h1v1h-1zM457.8 107.7h1v1h-1zM507.0 87.7h1v1h-1zM519.4 109.9h1v1h-1zM446.1 123.3h1v1h-1zM510.1 135.9h1v1h-1zM447.5 105.3h1v1h-1zM485.8 163.7h1v1h-1zM461.5 99.5h1v1h-1zM495.6 87.1h1v1h-1zM464.5 80.6h1v1h-1zM444.4 117.0h1v1h-1zM483.9 85.9h1v1h-1zM490.0 94.0h1v1h-1zM519.9 144.7h1v1h-1zM474.8 78.1h1v1h-1zM451.1 152.6h1v1h-1zM507.7 98.0h1v1h-1zM521.1 107.8h1v1h-1zM464.3 96.4h1v1h-1zM475.1 85.8h1v1h-1zM438.2 111.4h1v1h-1zM465.0 158.9h1v1h-1zM509.6 87.4h1v1h-1zM486.4 88.0h1v1h-1zM514.1 127.6h1v1h-1zM520.6 138.1h1v1h-1zM501.7 158.3h1v1h-1zM466.8 82.8h1v1h-1zM437.8 124.0h1v1h-1zM520.9 145.0h1v1h-1zM457.3 91.8h1v1h-1zM501.0 94.2h1v1h-1zM469.5 153.8h1v1h-1zM498.5 98.4h1v1h-1zM493.8 164.1h1v1h-1zM524.1 113.5h1v1h-1zM452.6 107.2h1v1h-1zM517.7 128.1h1v1h-1zM437.4 117.3h1v1h-1zM491.7 94.3h1v1h-1zM448.0 123.8h1v1h-1zM517.5 137.3h1v1h-1zM453.6 139.3h1v1h-1zM522.4 101.1h1v1h-1zM494.7 94.2h1v1h-1zM439.3 128.3h1v1h-1zM512.9 154.1h1v1h-1zM522.7 127.7h1v1h-1zM482.4 154.8h1v1h-1zM458.4 136.5h1v1h-1zM500.5 150.1h1v1h-1zM502.4 95.0h1v1h-1zM504.9 93.7h1v1h-1zM464.9 161.9h1v1h-1zM517.5 92.1h1v1h-1zM489.9 93.0h1v1h-1zM525.6 113.2h1v1h-1zM469.7 91.9h1v1h-1zM503.5 149.5h1v1h-1zM523.5 101.6h1v1h-1zM485.4 90.8h1v1h-1zM458.2 104.0h1v1h-1zM492.4 149.5h1v1h-1zM496.4 80.7h1v1h-1zM507.3 92.3h1v1h-1zM452.4 142.5h1v1h-1zM446.9 120.9h1v1h-1zM497.9 79.0h1v1h-1zM498.5 84.6h1v1h-1zM505.8 104.2h1v1h-1zM467.8 81.3h1v1h-1zM486.3 81.8h1v1h-1zM477.5 93.0h1v1h-1zM486.6 158.0h1v1h-1zM460.0 83.3h1v1h-1zM456.7 143.4h1v1h-1zM453.7 86.0h1v1h-1zM485.3 83.5h1v1h-1zM527.6 128.4h1v1h-1zM480.0 85.9h1v1h-1zM514.6 115.2h1v1h-1zM517.2 120.8h1v1h-1zM495.9 87.7h1v1h-1zM497.9 149.5h1v1h-1zM457.7 101.1h1v1h-1zM455.2 102.6h1v1h-1zM475.3 155.6h1v1h-1zM471.4 159.2h1v1h-1zM482.1 78.3h1v1h-1zM513.8 116.6h1v1h-1zM444.2 129.6h1v1h-1zM501.0 80.3h1v1h-1zM509.3 145.6h1v1h-1zM447.6 131.9h1v1h-1zM480.1 152.9h1v1h-1zM451.8 138.9h1v1h-1zM442.7 114.1h1v1h-1zM526.4 108.4h1v1h-1zM485.4 161.2h1v1h-1zM459.5 150.0h1v1h-1zM458.8 95.6h1v1h-1zM497.2 159.0h1v1h-1zM524.3 132.5h1v1h-1zM511.5 143.7h1v1h-1zM512.9 136.8h1v1h-1zM457.0 148.0h1v1h-1zM490.3 152.8h1v1h-1zM486.8 85.8h1v1h-1zM454.4 152.3h1v1h-1zM519.6 119.4h1v1h-1zM442.8 141.3h1v1h-1zM469.8 92.5h1v1h-1zM456.3 151.1h1v1h-1zM523.5 105.7h1v1h-1zM441.8 138.6h1v1h-1zM468.6 160.7h1v1h-1zM483.0 165.4h1v1h-1zM460.5 140.7h1v1h-1zM500.0 92.9h1v1h-1zM497.9 152.8h1v1h-1zM511.9 94.6h1v1h-1zM451.6 107.9h1v1h-1zM456.2 85.1h1v1h-1zM520.5 138.1h1v1h-1zM490.6 88.9h1v1h-1zM520.1 144.0h1v1h-1zM505.2 150.7h1v1h-1zM458.9 89.9h1v1h-1zM485.6 88.8h1v1h-1zM467.4 146.5h1v1h-1zM461.3 81.9h1v1h-1zM451.1 114.4h1v1h-1zM472.3 84.2h1v1h-1zM445.3 145.3h1v1h-1zM461.6 85.7h1v1h-1zM497.1 82.0h1v1h-1zM514.6 94.9h1v1h-1zM453.9 87.2h1v1h-1zM474.2 89.6h1v1h-1zM446.2 141.4h1v1h-1zM500.6 145.6h1v1h-1zM522.0 119.7h1v1h-1zM496.4 146.4h1v1h-1zM524.7 138.4h1v1h-1zM499.9 158.5h1v1h-1zM525.2 131.8h1v1h-1zM496.4 90.8h1v1h-1zM480.4 153.7h1v1h-1zM519.7 99.7h1v1h-1zM488.3 153.3h1v1h-1zM454.4 117.0h1v1h-1zM477.4 154.5h1v1h-1zM457.4 83.6h1v1h-1zM490.6 95.1h1v1h-1zM452.0 97.9h1v1h-1zM519.2 120.3h1v1h-1zM522.9 122.2h1v1h-1zM506.2 87.6h1v1h-1zM518.7 142.5h1v1h-1zM451.2 128.1h1v1h-1zM444.0 98.6h1v1h-1zM468.4 162.1h1v1h-1zM447.1 142.3h1v1h-1zM519.5 145.7h1v1h-1zM493.3 162.3h1v1h-1zM449.0 116.5h1v1h-1zM475.7 91.2h1v1h-1zM454.4 128.8h1v1h-1zM504.2 82.2h1v1h-1zM519.6 124.8h1v1h-1zM475.5 94.5h1v1h-1zM455.2 114.9h1v1h-1zM481.0 159.4h1v1h-1zM441.2 104.7h1v1h-1zM463.3 156.0h1v1h-1zM517.5 144.8h1v1h-1zM499.0 156.9h1v1h-1zM497.7 97.0h1v1h-1zM512.4 140.9h1v1h-1zM508.8 134.8h1v1h-1zM442.9 141.4h1v1h-1zM462.7 95.6h1v1h-1zM499.9 85.6h1v1h-1zM468.5 146.8h1v1h-1zM511.9 124.8h1v1h-1zM473.5 94.2h1v1h-1zM493.7 77.7h1v1h-1zM453.5 98.3h1v1h-1zM511.6 144.9h1v1h-1zM454.3 120.2h1v1h-1zM501.1 85.5h1v1h-1zM502.1 152.1h1v1h-1zM515.5 98.8h1v1h-1zM462.0 149.1h1v1h-1zM503.0 147.2h1v1h-1zM521.2 118.7h1v1h-1zM475.4 89.6h1v1h-1zM496.2 161.7h1v1h-1zM451.3 89.9h1v1h-1zM471.1 88.9h1v1h-1zM504.8 143.9h1v1h-1zM512.4 156.1h1v1h-1zM440.4 110.1h1v1h-1zM450.5 109.1h1v1h-1zM449.1 97.1h1v1h-1zM485.0 165.4h1v1h-1zM499.4 91.5h1v1h-1zM458.2 84.5h1v1h-1zM458.7 106.4h1v1h-1zM523.5 126.1h1v1h-1zM456.6 109.8h1v1h-1zM465.4 152.1h1v1h-1zM518.3 130.6h1v1h-1zM505.6 151.6h1v1h-1zM446.1 95.4h1v1h-1zM455.7 138.6h1v1h-1zM469.0 88.2h1v1h-1zM482.9 81.9h1v1h-1zM514.5 120.8h1v1h-1zM508.3 88.6h1v1h-1zM455.6 133.8h1v1h-1zM511.2 102.5h1v1h-1zM449.5 116.7h1v1h-1zM507.4 104.8h1v1h-1zM477.6 78.5h1v1h-1zM482.9 86.3h1v1h-1zM509.9 131.2h1v1h-1zM444.7 115.6h1v1h-1zM459.7 82.9h1v1h-1zM444.8 142.2h1v1h-1zM489.8 162.5h1v1h-1zM446.2 105.7h1v1h-1zM518.1 147.3h1v1h-1zM511.7 150.6h1v1h-1zM514.6 111.7h1v1h-1zM449.3 146.9h1v1h-1zM512.2 108.8h1v1h-1zM437.7 129.7h1v1h-1zM497.1 162.9h1v1h-1zM456.9 155.3h1v1h-1zM497.4 149.8h1v1h-1zM525.6 120.7h1v1h-1zM523.5 135.2h1v1h-1zM512.3 90.0h1v1h-1zM508.2 151.0h1v1h-1zM518.0 107.3h1v1h-1zM509.5 136.5h1v1h-1zM491.9 85.6h1v1h-1zM467.8 98.0h1v1h-1zM446.0 98.7h1v1h-1zM476.2 158.9h1v1h-1zM513.6 141.6h1v1h-1zM440.1 138.6h1v1h-1zM449.7 115.5h1v1h-1zM525.9 118.5h1v1h-1zM508.3 109.6h1v1h-1zM496.4 151.3h1v1h-1zM461.5 94.8h1v1h-1zM449.5 120.7h1v1h-1zM465.5 83.2h1v1h-1zM514.2 111.9h1v1h-1zM485.8 157.6h1v1h-1zM486.9 91.7h1v1h-1zM492.9 82.5h1v1h-1zM447.5 122.1h1v1h-1zM506.8 97.0h1v1h-1zM452.8 134.8h1v1h-1zM480.0 152.4h1v1h-1zM519.4 140.0h1v1h-1zM442.7 103.5h1v1h-1zM491.3 89.1h1v1h-1zM479.4 155.1h1v1h-1zM512.5 140.5h1v1h-1zM502.2 158.6h1v1h-1zM492.1 81.1h1v1h-1zM484.8 89.8h1v1h-1zM510.6 157.9h1v1h-1zM481.5 90.9h1v1h-1zM509.1 135.8h1v1h-1zM487.5 161.0h1v1h-1zM511.0 109.0h1v1h-1zM517.3 130.8h1v1h-1zM465.3 98.3h1v1h-1zM446.5 98.8h1v1h-1zM440.4 132.0h1v1h-1zM498.4 97.9h1v1h-1zM488.1 94.1h1v1h-1zM500.1 151.1h1v1h-1zM507.2 93.1h1v1h-1zM457.6 150.9h1v1h-1zM478.0 160.5h1v1h-1zM526.0 127.5h1v1h-1zM462.8 160.4h1v1h-1zM442.4 117.0h1v1h-1zM504.8 147.5h1v1h-1zM480.0 160.5h1v1h-1zM462.8 88.0h1v1h-1zM450.3 143.7h1v1h-1zM501.5 100.6h1v1h-1zM449.1 107.2h1v1h-1zM523.4 115.6h1v1h-1zM512.9 88.8h1v1h-1zM459.0 140.7h1v1h-1zM476.5 153.8h1v1h-1zM472.0 89.3h1v1h-1zM454.7 105.3h1v1h-1zM468.1 149.9h1v1h-1zM442.7 104.5h1v1h-1zM458.9 101.0h1v1h-1zM453.3 156.1h1v1h-1zM515.2 109.5h1v1h-1zM454.4 92.9h1v1h-1zM451.8 141.1h1v1h-1zM477.6 151.2h1v1h-1zM513.0 93.2h1v1h-1zM506.5 106.6h1v1h-1zM486.2 159.7h1v1h-1zM458.3 97.9h1v1h-1zM499.3 91.8h1v1h-1zM459.8 161.1h1v1h-1zM469.4 85.2h1v1h-1zM519.6 113.3h1v1h-1zM505.0 157.1h1v1h-1zM446.3 124.0h1v1h-1zM458.9 147.1h1v1h-1zM511.8 147.0h1v1h-1zM486.8 91.3h1v1h-1zM499.2 149.1h1v1h-1zM511.8 90.7h1v1h-1zM450.5 147.6h1v1h-1zM482.1 160.8h1v1h-1zM464.4 156.4h1v1h-1zM444.3 104.7h1v1h-1zM474.5 93.2h1v1h-1zM500.2 90.2h1v1h-1zM511.6 151.1h1v1h-1zM468.8 97.2h1v1h-1zM515.3 109.1h1v1h-1zM512.7 155.7h1v1h-1zM449.2 140.4h1v1h-1zM453.4 144.0h1v1h-1zM526.8 118.8h1v1h-1zM515.9 153.3h1v1h-1zM460.1 144.7h1v1h-1zM522.5 117.1h1v1h-1zM472.6 95.0h1v1h-1zM493.0 89.6h1v1h-1zM482.1 166.3h1v1h-1zM505.9 144.0h1v1h-1zM466.7 162.4h1v1h-1zM496.1 165.8h1v1h-1zM439.9 126.1h1v1h-1zM492.9 94.2h1v1h-1zM509.6 132.2h1v1h-1zM463.7 93.4h1v1h-1zM476.3 157.7h1v1h-1zM511.9 88.4h1v1h-1zM439.5 137.9h1v1h-1zM475.9 80.4h1v1h-1zM467.8 159.0h1v1h-1zM515.4 124.1h1v1h-1zM494.8 90.9h1v1h-1zM478.7 81.1h1v1h-1zM492.0 94.4h1v1h-1zM487.1 80.3h1v1h-1zM519.3 148.9h1v1h-1zM445.8 147.7h1v1h-1zM482.4 160.5h1v1h-1zM525.9 128.4h1v1h-1zM487.5 156.5h1v1h-1zM463.0 142.9h1v1h-1zM496.4 87.3h1v1h-1zM499.2 155.9h1v1h-1zM512.6 123.7h1v1h-1zM455.7 140.5h1v1h-1zM513.5 147.0h1v1h-1zM441.1 141.3h1v1h-1zM491.1 166.2h1v1h-1zM474.5 93.6h1v1h-1zM462.9 162.1h1v1h-1zM491.2 157.8h1v1h-1zM510.0 98.5h1v1h-1zM453.1 91.1h1v1h-1zM452.7 108.4h1v1h-1zM466.8 95.2h1v1h-1zM460.2 141.6h1v1h-1zM514.8 128.5h1v1h-1zM448.1 133.8h1v1h-1zM453.1 102.1h1v1h-1zM508.2 158.1h1v1h-1zM514.0 120.5h1v1h-1zM467.3 158.4h1v1h-1zM521.9 119.3h1v1h-1zM502.1 100.3h1v1h-1zM503.8 82.8h1v1h-1zM441.5 118.9h1v1h-1zM524.6 140.1h1v1h-1zM472.3 80.2h1v1h-1zM504.9 96.7h1v1h-1zM484.2 154.1h1v1h-1zM507.7 89.4h1v1h-1zM444.0 109.6h1v1h-1zM495.2 80.0h1v1h-1zM513.6 150.2h1v1h-1zM512.0 101.0h1v1h-1zM508.6 96.4h1v1h-1zM495.3 159.0h1v1h-1zM448.4 137.7h1v1h-1zM476.0 157.8h1v1h-1zM470.4 88.3h1v1h-1zM504.1 144.7h1v1h-1zM479.2 83.8h1v1h-1zM447.5 144.4h1v1h-1zM451.4 120.6h1v1h-1zM457.1 158.6h1v1h-1zM486.1 160.3h1v1h-1zM474.9 156.1h1v1h-1zM472.7 163.7h1v1h-1zM463.6 83.8h1v1h-1zM510.9 109.3h1v1h-1zM481.3 93.3h1v1h-1zM448.7 133.3h1v1h-1zM511.8 113.3h1v1h-1zM482.0 165.4h1v1h-1zM466.3 146.9h1v1h-1zM507.0 88.2h1v1h-1zM448.6 111.8h1v1h-1zM461.6 153.2h1v1h-1zM523.9 108.3h1v1h-1zM452.8 98.7h1v1h-1zM527.3 115.2h1v1h-1zM446.3 150.0h1v1h-1zM457.9 88.0h1v1h-1zM521.0 121.3h1v1h-1zM489.9 158.4h1v1h-1zM494.0 166.2h1v1h-1zM516.8 141.8h1v1h-1zM481.7 161.5h1v1h-1zM477.5 80.8h1v1h-1zM512.1 149.6h1v1h-1zM513.8 125.0h1v1h-1zM522.6 107.3h1v1h-1zM525.5 128.5h1v1h-1zM505.7 145.0h1v1h-1zM506.3 147.1h1v1h-1zM483.3 162.5h1v1h-1zM510.4 131.8h1v1h-1zM500.9 96.8h1v1h-1zM437.7 114.8h1v1h-1zM460.2 102.9h1v1h-1zM524.2 112.3h1v1h-1zM512.0 123.9h1v1h-1zM504.0 154.2h1v1h-1zM515.5 127.9h1v1h-1zM503.7 91.7h1v1h-1zM523.4 107.6h1v1h-1zM447.8 121.7h1v1h-1zM448.0 148.8h1v1h-1zM450.6 112.1h1v1h-1zM487.5 150.6h1v1h-1zM486.4 153.7h1v1h-1zM442.8 125.0h1v1h-1zM520.2 135.0h1v1h-1zM445.9 140.4h1v1h-1zM447.6 146.5h1v1h-1zM504.9 82.1h1v1h-1zM456.9 90.1h1v1h-1zM448.1 110.2h1v1h-1zM454.0 88.0h1v1h-1zM517.5 123.1h1v1h-1zM448.1 141.3h1v1h-1zM520.2 118.0h1v1h-1zM521.7 141.9h1v1h-1zM444.6 136.7h1v1h-1zM453.8 149.6h1v1h-1zM454.1 133.8h1v1h-1zM446.7 110.7h1v1h-1zM440.7 105.3h1v1h-1zM493.2 164.8h1v1h-1zM453.6 115.2h1v1h-1zM512.6 151.4h1v1h-1zM440.1 129.3h1v1h-1zM516.5 105.4h1v1h-1zM470.5 91.9h1v1h-1zM487.6 93.7h1v1h-1zM492.9 155.5h1v1h-1zM447.4 117.5h1v1h-1zM456.9 109.0h1v1h-1zM455.9 154.7h1v1h-1zM447.6 126.2h1v1h-1zM461.1 162.1h1v1h-1zM486.5 160.1h1v1h-1zM476.6 94.3h1v1h-1zM460.1 101.5h1v1h-1zM516.5 116.7h1v1h-1zM440.3 133.9h1v1h-1zM486.3 153.8h1v1h-1zM514.5 145.8h1v1h-1zM447.5 106.0h1v1h-1zM465.5 151.5h1v1h-1zM516.3 145.7h1v1h-1zM490.5 161.8h1v1h-1zM521.2 101.8h1v1h-1zM457.4 150.7h1v1h-1zM473.7 77.9h1v1h-1zM481.7 155.6h1v1h-1zM478.0 153.6h1v1h-1zM505.5 158.2h1v1h-1zM508.6 88.2h1v1h-1zM447.9 112.1h1v1h-1zM444.0 113.4h1v1h-1zM515.2 103.7h1v1h-1zM480.0 162.3h1v1h-1zM486.7 162.5h1v1h-1zM461.2 144.4h1v1h-1zM519.3 108.3h1v1h-1zM452.6 108.7h1v1h-1zM507.8 145.5h1v1h-1zM465.8 164.5h1v1h-1z" fill="#f7ae98" opacity="0.32"/>
<path d="M519.1,121.9 A36.6,36.6 0 1 0 447.15,131.37 L459.32,128.11 A24.0,24.0 0 1 1 506.5,121.9 Z" fill="#988a86" fill-opacity="0.9" stroke="#3a3a3a" stroke-width="0.65"/>
<line x1="505.68" y1="115.69" x2="517.85" y2="112.43" stroke="#333" stroke-width="0.65" />
<line x1="503.28" y1="109.9" x2="514.2" y2="103.6" stroke="#333" stroke-width="0.65" />
<line x1="499.47" y1="104.93" x2="508.38" y2="96.02" stroke="#333" stroke-width="0.65" />
<line x1="494.5" y1="101.12" x2="500.8" y2="90.2" stroke="#333" stroke-width="0.65" />
<line x1="488.71" y1="98.72" x2="491.97" y2="86.55" stroke="#333" stroke-width="0.65" />
<line x1="482.5" y1="97.9" x2="482.5" y2="85.3" stroke="#333" stroke-width="0.65" />
<line x1="476.29" y1="98.72" x2="473.03" y2="86.55" stroke="#333" stroke-width="0.65" />
<line x1="470.5" y1="101.12" x2="464.2" y2="90.2" stroke="#333" stroke-width="0.65" />
<line x1="465.53" y1="104.93" x2="456.62" y2="96.02" stroke="#333" stroke-width="0.65" />
<line x1="461.72" y1="109.9" x2="450.8" y2="103.6" stroke="#333" stroke-width="0.65" />
<line x1="459.32" y1="115.69" x2="447.15" y2="112.43" stroke="#333" stroke-width="0.65" />
<line x1="458.5" y1="121.9" x2="445.9" y2="121.9" stroke="#333" stroke-width="0.65" />
<circle cx="482.5" cy="121.9" r="31.3" fill="none" stroke="#222" stroke-width="0.85" stroke-dasharray="3.6,2"/>
<line x1="489" y1="90.6" x2="631.5" y2="90.6" stroke="#222" stroke-width="0.85" stroke-dasharray="3.8,2.5"/>
<line x1="476" y1="153.2" x2="630.4" y2="153.2" stroke="#222" stroke-width="0.85" stroke-dasharray="3.8,2.5"/>
<circle cx="476.5" cy="156.7" r="0.9" fill="#111"/>
<circle cx="486.2" cy="156.7" r="0.9" fill="#111"/>
<circle cx="494.9" cy="154.3" r="0.9" fill="#111"/>
<path d="M525.89,102.58 A47.5,47.5 0 0 0 509.74,82.99" fill="none" stroke="#111" stroke-width="1.5"/>
<path d="M505.53,80.36 L512.67,80.88 L509.76,86.13 Z" fill="#111"/>
<line x1="482.5" y1="121.9" x2="488.2" y2="145" stroke="#333" stroke-width="1.3" />
<path d="M489.8,151.6 L484.1,143.2 L491.9,141.8 Z" fill="#333"/>
<circle cx="482.5" cy="121.9" r="3.4" fill="#8a8a8a" stroke="#3a3a3a" stroke-width="0.9"/>
<text x="488.4" y="135" font-size="11" text-anchor="start" font-weight="normal" font-style="italic" fill="#1a1a1a" >k</text>
<text x="395.6" y="197.9" font-size="12.5" text-anchor="start" font-weight="normal" font-style="normal" fill="#1a1a1a" textLength="74.6" lengthAdjust="spacingAndGlyphs" >Atom density</text>
<rect x="383.4" y="203.5" width="101.3" height="10.2" fill="url(#cbar)" stroke="#111" stroke-width="1.1"/>
<text x="378.6" y="228.4" font-size="12.5" text-anchor="start" font-weight="normal" font-style="normal" fill="#1a1a1a" textLength="23.7" lengthAdjust="spacingAndGlyphs" >high</text>
<text x="473.3" y="228.3" font-size="12.5" text-anchor="start" font-weight="normal" font-style="normal" fill="#1a1a1a" textLength="19.4" lengthAdjust="spacingAndGlyphs" >low</text>
<line x1="360.4" y1="0" x2="360.4" y2="243.2" stroke="#222" stroke-width="1" />
<line x1="360" y1="0.4" x2="685" y2="0.4" stroke="#222" stroke-width="1.1" />
<line x1="360" y1="243.2" x2="684" y2="243.2" stroke="#333" stroke-width="1" />
<line x1="360.4" y1="18.2" x2="363.3" y2="18.2" stroke="#666" stroke-width="0.8" />
<text x="355.7" y="21.8" font-size="10.4" text-anchor="end" font-weight="normal" font-style="normal" fill="#222" >100</text>
<line x1="360.4" y1="70.2" x2="363.3" y2="70.2" stroke="#666" stroke-width="0.8" />
<text x="355.7" y="73.8" font-size="10.4" text-anchor="end" font-weight="normal" font-style="normal" fill="#222" >50</text>
<line x1="360.4" y1="122.2" x2="363.3" y2="122.2" stroke="#666" stroke-width="0.8" />
<text x="355.7" y="125.8" font-size="10.4" text-anchor="end" font-weight="normal" font-style="normal" fill="#222" >0</text>
<line x1="360.4" y1="174.2" x2="363.3" y2="174.2" stroke="#666" stroke-width="0.8" />
<text x="355.7" y="177.8" font-size="10.4" text-anchor="end" font-weight="normal" font-style="normal" fill="#222" >-50</text>
<line x1="360.4" y1="226.2" x2="363.3" y2="226.2" stroke="#666" stroke-width="0.8" />
<text x="355.7" y="229.8" font-size="10.4" text-anchor="end" font-weight="normal" font-style="normal" fill="#222" >-100</text>
<line x1="378.5" y1="0" x2="378.5" y2="2.8" stroke="#333" stroke-width="0.9" />
<line x1="378.5" y1="243.2" x2="378.5" y2="240.5" stroke="#666" stroke-width="0.8" />
<text x="378.5" y="256.2" font-size="10.4" text-anchor="middle" font-weight="normal" font-style="normal" fill="#222" >-100</text>
<line x1="430.5" y1="0" x2="430.5" y2="2.8" stroke="#333" stroke-width="0.9" />
<line x1="430.5" y1="243.2" x2="430.5" y2="240.5" stroke="#666" stroke-width="0.8" />
<text x="430.5" y="256.2" font-size="10.4" text-anchor="middle" font-weight="normal" font-style="normal" fill="#222" >-50</text>
<line x1="482.5" y1="0" x2="482.5" y2="2.8" stroke="#333" stroke-width="0.9" />
<line x1="482.5" y1="243.2" x2="482.5" y2="240.5" stroke="#666" stroke-width="0.8" />
<text x="482.5" y="256.2" font-size="10.4" text-anchor="middle" font-weight="normal" font-style="normal" fill="#222" >0</text>
<line x1="534.5" y1="0" x2="534.5" y2="2.8" stroke="#333" stroke-width="0.9" />
<line x1="534.5" y1="243.2" x2="534.5" y2="240.5" stroke="#666" stroke-width="0.8" />
<text x="534.5" y="256.2" font-size="10.4" text-anchor="middle" font-weight="normal" font-style="normal" fill="#222" >50</text>
<line x1="586.5" y1="0" x2="586.5" y2="2.8" stroke="#333" stroke-width="0.9" />
<line x1="586.5" y1="243.2" x2="586.5" y2="240.5" stroke="#666" stroke-width="0.8" />
<text x="586.5" y="256.2" font-size="10.4" text-anchor="middle" font-weight="normal" font-style="normal" fill="#222" >100</text>
<text transform="translate(333.6,144.4) rotate(-90)" x="0" y="0" font-size="11.2" fill="#1a1a1a" textLength="43" lengthAdjust="spacingAndGlyphs"><tspan font-style="italic">k</tspan><tspan font-size="7.6" dy="2" font-style="italic">y</tspan><tspan dy="-2"> (μm</tspan><tspan font-size="7" dy="-4">-1</tspan><tspan dy="4">)</tspan></text>
<text x="465.1" y="270.2" font-size="11.2" fill="#1a1a1a" textLength="44" lengthAdjust="spacingAndGlyphs"><tspan font-style="italic">k</tspan><tspan font-size="7.6" dy="2" font-style="italic">x</tspan><tspan dy="-2"> (μm</tspan><tspan font-size="7" dy="-4">-1</tspan><tspan dy="4">)</tspan></text>
<text x="321.9" y="10.5" font-size="17" text-anchor="start" font-weight="bold" font-style="normal" fill="#000" >c</text>
<circle cx="607.99" cy="0.3" r="0.78" fill="#383838"/>
<circle cx="608.25" cy="1.34" r="0.78" fill="#383838"/>
<circle cx="608.9" cy="2.38" r="0.78" fill="#383838"/>
<circle cx="609.78" cy="3.42" r="0.78" fill="#383838"/>
<circle cx="609.93" cy="4.46" r="0.78" fill="#383838"/>
<circle cx="610.34" cy="5.5" r="0.78" fill="#383838"/>
<circle cx="610.82" cy="6.54" r="0.78" fill="#383838"/>
<circle cx="611.04" cy="7.58" r="0.78" fill="#383838"/>
<circle cx="611.32" cy="8.62" r="0.78" fill="#383838"/>
<circle cx="611.54" cy="9.66" r="0.78" fill="#383838"/>
<circle cx="612.4" cy="10.7" r="0.78" fill="#383838"/>
<circle cx="612.66" cy="11.74" r="0.78" fill="#383838"/>
<circle cx="612.2" cy="12.78" r="0.78" fill="#383838"/>
<circle cx="612.25" cy="13.82" r="0.78" fill="#383838"/>
<circle cx="612.09" cy="14.86" r="0.78" fill="#383838"/>
<circle cx="611.53" cy="15.9" r="0.78" fill="#383838"/>
<circle cx="611.7" cy="16.94" r="0.78" fill="#383838"/>
<circle cx="611.41" cy="17.98" r="0.78" fill="#383838"/>
<circle cx="610.75" cy="19.02" r="0.78" fill="#383838"/>
<circle cx="610.5" cy="20.06" r="0.78" fill="#383838"/>
<circle cx="610.4" cy="21.1" r="0.78" fill="#383838"/>
<circle cx="610.03" cy="22.14" r="0.78" fill="#383838"/>
<circle cx="609.25" cy="23.18" r="0.78" fill="#383838"/>
<circle cx="608.64" cy="24.22" r="0.78" fill="#383838"/>
<circle cx="608.32" cy="25.26" r="0.78" fill="#383838"/>
<circle cx="609.55" cy="26.3" r="0.78" fill="#383838"/>
<circle cx="610.23" cy="27.34" r="0.78" fill="#383838"/>
<circle cx="610.47" cy="28.38" r="0.78" fill="#383838"/>
<circle cx="610.19" cy="29.42" r="0.78" fill="#383838"/>
<circle cx="610.76" cy="30.46" r="0.78" fill="#383838"/>
<circle cx="611.24" cy="31.5" r="0.78" fill="#383838"/>
<circle cx="611.26" cy="32.54" r="0.78" fill="#383838"/>
<circle cx="611.23" cy="33.58" r="0.78" fill="#383838"/>
<circle cx="611.11" cy="34.62" r="0.78" fill="#383838"/>
<circle cx="611.16" cy="35.66" r="0.78" fill="#383838"/>
<circle cx="611.68" cy="36.7" r="0.78" fill="#383838"/>
<circle cx="611.24" cy="37.74" r="0.78" fill="#383838"/>
<circle cx="611.79" cy="38.78" r="0.78" fill="#383838"/>
<circle cx="611.71" cy="39.82" r="0.78" fill="#383838"/>
<circle cx="611.47" cy="40.86" r="0.78" fill="#383838"/>
<circle cx="611.62" cy="41.9" r="0.78" fill="#383838"/>
<circle cx="611.51" cy="42.94" r="0.78" fill="#383838"/>
<circle cx="611.93" cy="43.98" r="0.78" fill="#383838"/>
<circle cx="612.27" cy="45.02" r="0.78" fill="#383838"/>
<circle cx="613.18" cy="46.06" r="0.78" fill="#383838"/>
<circle cx="611.6" cy="47.1" r="0.78" fill="#383838"/>
<circle cx="610.26" cy="48.14" r="0.78" fill="#383838"/>
<circle cx="611" cy="49.18" r="0.78" fill="#383838"/>
<circle cx="611.11" cy="50.22" r="0.78" fill="#383838"/>
<circle cx="610.93" cy="51.26" r="0.78" fill="#383838"/>
<circle cx="611.25" cy="52.3" r="0.78" fill="#383838"/>
<circle cx="611.44" cy="53.34" r="0.78" fill="#383838"/>
<circle cx="611.47" cy="54.38" r="0.78" fill="#383838"/>
<circle cx="611.15" cy="55.42" r="0.78" fill="#383838"/>
<circle cx="611.07" cy="56.46" r="0.78" fill="#383838"/>
<circle cx="611.12" cy="57.5" r="0.78" fill="#383838"/>
<circle cx="610.74" cy="58.54" r="0.78" fill="#383838"/>
<circle cx="611.43" cy="59.58" r="0.78" fill="#383838"/>
<circle cx="611.47" cy="60.62" r="0.78" fill="#383838"/>
<circle cx="612.17" cy="61.66" r="0.78" fill="#383838"/>
<circle cx="612.41" cy="62.7" r="0.78" fill="#383838"/>
<circle cx="612.22" cy="63.74" r="0.78" fill="#383838"/>
<circle cx="612.59" cy="64.78" r="0.78" fill="#383838"/>
<circle cx="612.4" cy="65.82" r="0.78" fill="#383838"/>
<circle cx="612.69" cy="66.86" r="0.78" fill="#383838"/>
<circle cx="612.91" cy="67.9" r="0.78" fill="#383838"/>
<circle cx="612.99" cy="68.94" r="0.78" fill="#383838"/>
<circle cx="613.15" cy="69.98" r="0.78" fill="#383838"/>
<circle cx="613.31" cy="71.02" r="0.78" fill="#383838"/>
<circle cx="613.81" cy="72.06" r="0.78" fill="#383838"/>
<circle cx="615.47" cy="73.1" r="0.78" fill="#383838"/>
<circle cx="616.55" cy="74.14" r="0.78" fill="#383838"/>
<circle cx="617.85" cy="75.18" r="0.78" fill="#383838"/>
<circle cx="618.59" cy="76.22" r="0.78" fill="#383838"/>
<circle cx="619.31" cy="77.26" r="0.78" fill="#383838"/>
<circle cx="619.47" cy="78.3" r="0.78" fill="#383838"/>
<circle cx="619.5" cy="79.34" r="0.78" fill="#383838"/>
<circle cx="619.94" cy="80.38" r="0.78" fill="#383838"/>
<circle cx="620.26" cy="81.42" r="0.78" fill="#383838"/>
<circle cx="621.66" cy="82.46" r="0.78" fill="#383838"/>
<circle cx="622.51" cy="83.5" r="0.78" fill="#383838"/>
<circle cx="624.14" cy="84.54" r="0.78" fill="#383838"/>
<circle cx="625.97" cy="85.58" r="0.78" fill="#383838"/>
<circle cx="628.12" cy="86.62" r="0.78" fill="#383838"/>
<circle cx="628.95" cy="87.66" r="0.78" fill="#383838"/>
<circle cx="630.04" cy="88.7" r="0.78" fill="#383838"/>
<circle cx="631.07" cy="89.74" r="0.78" fill="#383838"/>
<circle cx="632.54" cy="90.78" r="0.78" fill="#383838"/>
<circle cx="634.15" cy="91.82" r="0.78" fill="#383838"/>
<circle cx="635.72" cy="92.86" r="0.78" fill="#383838"/>
<circle cx="637.62" cy="93.9" r="0.78" fill="#383838"/>
<circle cx="639.04" cy="94.94" r="0.78" fill="#383838"/>
<circle cx="640.94" cy="95.98" r="0.78" fill="#383838"/>
<circle cx="642.97" cy="97.02" r="0.78" fill="#383838"/>
<circle cx="645.31" cy="98.06" r="0.78" fill="#383838"/>
<circle cx="647.48" cy="99.1" r="0.78" fill="#383838"/>
<circle cx="649.23" cy="100.14" r="0.78" fill="#383838"/>
<circle cx="651.82" cy="101.18" r="0.78" fill="#383838"/>
<circle cx="653.68" cy="102.22" r="0.78" fill="#383838"/>
<circle cx="656.51" cy="103.26" r="0.78" fill="#383838"/>
<circle cx="658.48" cy="104.3" r="0.78" fill="#383838"/>
<circle cx="660.77" cy="105.34" r="0.78" fill="#383838"/>
<circle cx="662.54" cy="106.38" r="0.78" fill="#383838"/>
<circle cx="663.99" cy="107.42" r="0.78" fill="#383838"/>
<circle cx="664.76" cy="108.46" r="0.78" fill="#383838"/>
<circle cx="666.15" cy="109.5" r="0.78" fill="#383838"/>
<circle cx="667.2" cy="110.54" r="0.78" fill="#383838"/>
<circle cx="669.36" cy="111.58" r="0.78" fill="#383838"/>
<circle cx="671.79" cy="112.62" r="0.78" fill="#383838"/>
<circle cx="674.5" cy="113.66" r="0.78" fill="#383838"/>
<circle cx="674.77" cy="114.7" r="0.78" fill="#383838"/>
<circle cx="675.25" cy="115.74" r="0.78" fill="#383838"/>
<circle cx="675.85" cy="116.78" r="0.78" fill="#383838"/>
<circle cx="676.58" cy="117.82" r="0.78" fill="#383838"/>
<circle cx="676.97" cy="118.86" r="0.78" fill="#383838"/>
<circle cx="677.7" cy="119.9" r="0.78" fill="#383838"/>
<circle cx="679.41" cy="120.94" r="0.78" fill="#383838"/>
<circle cx="680.43" cy="121.98" r="0.78" fill="#383838"/>
<circle cx="679.75" cy="123.02" r="0.78" fill="#383838"/>
<circle cx="679.43" cy="124.06" r="0.78" fill="#383838"/>
<circle cx="677.58" cy="125.1" r="0.78" fill="#383838"/>
<circle cx="675.2" cy="126.14" r="0.78" fill="#383838"/>
<circle cx="673.23" cy="127.18" r="0.78" fill="#383838"/>
<circle cx="671.85" cy="128.22" r="0.78" fill="#383838"/>
<circle cx="670.57" cy="129.26" r="0.78" fill="#383838"/>
<circle cx="669.97" cy="130.3" r="0.78" fill="#383838"/>
<circle cx="669.36" cy="131.34" r="0.78" fill="#383838"/>
<circle cx="668.8" cy="132.38" r="0.78" fill="#383838"/>
<circle cx="667.39" cy="133.42" r="0.78" fill="#383838"/>
<circle cx="665.65" cy="134.46" r="0.78" fill="#383838"/>
<circle cx="663.84" cy="135.5" r="0.78" fill="#383838"/>
<circle cx="662.78" cy="136.54" r="0.78" fill="#383838"/>
<circle cx="662.19" cy="137.58" r="0.78" fill="#383838"/>
<circle cx="661.37" cy="138.62" r="0.78" fill="#383838"/>
<circle cx="660.58" cy="139.66" r="0.78" fill="#383838"/>
<circle cx="659.52" cy="140.7" r="0.78" fill="#383838"/>
<circle cx="658.44" cy="141.74" r="0.78" fill="#383838"/>
<circle cx="657.49" cy="142.78" r="0.78" fill="#383838"/>
<circle cx="656.56" cy="143.82" r="0.78" fill="#383838"/>
<circle cx="655.25" cy="144.86" r="0.78" fill="#383838"/>
<circle cx="652.83" cy="145.9" r="0.78" fill="#383838"/>
<circle cx="648.33" cy="146.94" r="0.78" fill="#383838"/>
<circle cx="643.95" cy="147.98" r="0.78" fill="#383838"/>
<circle cx="639.2" cy="149.02" r="0.78" fill="#383838"/>
<circle cx="635.78" cy="150.06" r="0.78" fill="#383838"/>
<circle cx="633.75" cy="151.1" r="0.78" fill="#383838"/>
<circle cx="632.57" cy="152.14" r="0.78" fill="#383838"/>
<circle cx="629.67" cy="153.18" r="0.78" fill="#383838"/>
<circle cx="628.19" cy="154.22" r="0.78" fill="#383838"/>
<circle cx="626.58" cy="155.26" r="0.78" fill="#383838"/>
<circle cx="625.86" cy="156.3" r="0.78" fill="#383838"/>
<circle cx="624.59" cy="157.34" r="0.78" fill="#383838"/>
<circle cx="624.12" cy="158.38" r="0.78" fill="#383838"/>
<circle cx="622.87" cy="159.42" r="0.78" fill="#383838"/>
<circle cx="621.7" cy="160.46" r="0.78" fill="#383838"/>
<circle cx="619.69" cy="161.5" r="0.78" fill="#383838"/>
<circle cx="618.03" cy="162.54" r="0.78" fill="#383838"/>
<circle cx="616.08" cy="163.58" r="0.78" fill="#383838"/>
<circle cx="614.5" cy="164.62" r="0.78" fill="#383838"/>
<circle cx="613.69" cy="165.66" r="0.78" fill="#383838"/>
<circle cx="612.57" cy="166.7" r="0.78" fill="#383838"/>
<circle cx="612.14" cy="167.74" r="0.78" fill="#383838"/>
<circle cx="611.85" cy="168.78" r="0.78" fill="#383838"/>
<circle cx="612.31" cy="169.82" r="0.78" fill="#383838"/>
<circle cx="611.49" cy="170.86" r="0.78" fill="#383838"/>
<circle cx="611.3" cy="171.9" r="0.78" fill="#383838"/>
<circle cx="610.51" cy="172.94" r="0.78" fill="#383838"/>
<circle cx="609.79" cy="173.98" r="0.78" fill="#383838"/>
<circle cx="610.77" cy="175.02" r="0.78" fill="#383838"/>
<circle cx="611.94" cy="176.06" r="0.78" fill="#383838"/>
<circle cx="612.19" cy="177.1" r="0.78" fill="#383838"/>
<circle cx="612.76" cy="178.14" r="0.78" fill="#383838"/>
<circle cx="613.06" cy="179.18" r="0.78" fill="#383838"/>
<circle cx="613.05" cy="180.22" r="0.78" fill="#383838"/>
<circle cx="612.92" cy="181.26" r="0.78" fill="#383838"/>
<circle cx="612.14" cy="182.3" r="0.78" fill="#383838"/>
<circle cx="611.84" cy="183.34" r="0.78" fill="#383838"/>
<circle cx="610.52" cy="184.38" r="0.78" fill="#383838"/>
<circle cx="610.88" cy="185.42" r="0.78" fill="#383838"/>
<circle cx="611.4" cy="186.46" r="0.78" fill="#383838"/>
<circle cx="611.96" cy="187.5" r="0.78" fill="#383838"/>
<circle cx="611.41" cy="188.54" r="0.78" fill="#383838"/>
<circle cx="610.95" cy="189.58" r="0.78" fill="#383838"/>
<circle cx="610.8" cy="190.62" r="0.78" fill="#383838"/>
<circle cx="610.81" cy="191.66" r="0.78" fill="#383838"/>
<circle cx="610.41" cy="192.7" r="0.78" fill="#383838"/>
<circle cx="610.01" cy="193.74" r="0.78" fill="#383838"/>
<circle cx="610.44" cy="194.78" r="0.78" fill="#383838"/>
<circle cx="609.74" cy="195.82" r="0.78" fill="#383838"/>
<circle cx="610.22" cy="196.86" r="0.78" fill="#383838"/>
<circle cx="611.09" cy="197.9" r="0.78" fill="#383838"/>
<circle cx="612.41" cy="198.94" r="0.78" fill="#383838"/>
<circle cx="612.6" cy="199.98" r="0.78" fill="#383838"/>
<circle cx="612.14" cy="201.02" r="0.78" fill="#383838"/>
<circle cx="611.7" cy="202.06" r="0.78" fill="#383838"/>
<circle cx="611.05" cy="203.1" r="0.78" fill="#383838"/>
<circle cx="610.05" cy="204.14" r="0.78" fill="#383838"/>
<circle cx="609.78" cy="205.18" r="0.78" fill="#383838"/>
<circle cx="610.33" cy="206.22" r="0.78" fill="#383838"/>
<circle cx="610.6" cy="207.26" r="0.78" fill="#383838"/>
<circle cx="610.71" cy="208.3" r="0.78" fill="#383838"/>
<circle cx="610.92" cy="209.34" r="0.78" fill="#383838"/>
<circle cx="611.64" cy="210.38" r="0.78" fill="#383838"/>
<circle cx="611.77" cy="211.42" r="0.78" fill="#383838"/>
<circle cx="612" cy="212.46" r="0.78" fill="#383838"/>
<circle cx="612.39" cy="213.5" r="0.78" fill="#383838"/>
<circle cx="612.62" cy="214.54" r="0.78" fill="#383838"/>
<circle cx="612.22" cy="215.58" r="0.78" fill="#383838"/>
<circle cx="612.2" cy="216.62" r="0.78" fill="#383838"/>
<circle cx="612.1" cy="217.66" r="0.78" fill="#383838"/>
<circle cx="611.58" cy="218.7" r="0.78" fill="#383838"/>
<circle cx="610.8" cy="219.74" r="0.78" fill="#383838"/>
<circle cx="610.4" cy="220.78" r="0.78" fill="#383838"/>
<circle cx="609.23" cy="221.82" r="0.78" fill="#383838"/>
<circle cx="609.75" cy="222.86" r="0.78" fill="#383838"/>
<circle cx="610.75" cy="223.9" r="0.78" fill="#383838"/>
<circle cx="611.27" cy="224.94" r="0.78" fill="#383838"/>
<circle cx="611.88" cy="225.98" r="0.78" fill="#383838"/>
<circle cx="613.16" cy="227.02" r="0.78" fill="#383838"/>
<circle cx="614.27" cy="228.06" r="0.78" fill="#383838"/>
<circle cx="613.44" cy="229.1" r="0.78" fill="#383838"/>
<circle cx="612.28" cy="230.14" r="0.78" fill="#383838"/>
<circle cx="611.1" cy="231.18" r="0.78" fill="#383838"/>
<circle cx="611.03" cy="232.22" r="0.78" fill="#383838"/>
<circle cx="610.76" cy="233.26" r="0.78" fill="#383838"/>
<circle cx="611.13" cy="234.3" r="0.78" fill="#383838"/>
<circle cx="610.58" cy="235.34" r="0.78" fill="#383838"/>
<circle cx="610.55" cy="236.38" r="0.78" fill="#383838"/>
<circle cx="610.69" cy="237.42" r="0.78" fill="#383838"/>
<circle cx="610.43" cy="238.46" r="0.78" fill="#383838"/>
<circle cx="610.89" cy="239.5" r="0.78" fill="#383838"/>
<circle cx="611" cy="240.54" r="0.78" fill="#383838"/>
<circle cx="611.05" cy="241.58" r="0.78" fill="#383838"/>
<circle cx="611.15" cy="242.62" r="0.78" fill="#383838"/>
<line x1="604.5" y1="0" x2="604.5" y2="243.2" stroke="#555" stroke-width="1" />
<line x1="683.8" y1="0" x2="683.8" y2="243.2" stroke="#999" stroke-width="1" />
<line x1="601.6" y1="18.2" x2="604.5" y2="18.2" stroke="#555" stroke-width="0.8" />
<line x1="601.6" y1="70.2" x2="604.5" y2="70.2" stroke="#555" stroke-width="0.8" />
<line x1="601.6" y1="122.2" x2="604.5" y2="122.2" stroke="#555" stroke-width="0.8" />
<line x1="601.6" y1="174.2" x2="604.5" y2="174.2" stroke="#555" stroke-width="0.8" />
<line x1="601.6" y1="226.2" x2="604.5" y2="226.2" stroke="#555" stroke-width="0.8" />
<line x1="610.9" y1="243.2" x2="610.9" y2="241" stroke="#444" stroke-width="0.8" />
<text x="611.8" y="255.6" font-size="9.9" text-anchor="middle" font-weight="normal" font-style="normal" fill="#222" >0.0</text>
<line x1="640.55" y1="243.2" x2="640.55" y2="241" stroke="#444" stroke-width="0.8" />
<text x="641.45" y="255.6" font-size="9.9" text-anchor="middle" font-weight="normal" font-style="normal" fill="#222" >0.2</text>
<line x1="670.2" y1="243.2" x2="670.2" y2="241" stroke="#444" stroke-width="0.8" />
<text x="671.1" y="255.6" font-size="9.9" text-anchor="middle" font-weight="normal" font-style="normal" fill="#222" >0.4</text>
<text x="632.3" y="270.7" font-size="11" text-anchor="start" font-weight="normal" font-style="normal" fill="#1a1a1a" textLength="18" lengthAdjust="spacingAndGlyphs" >OD</text>
<path d="M368.5,282.75 L371.45,285.46 L374.4,288.07 L377.35,290.58 L380.3,292.99 L383.25,295.32 L386.2,297.56 L389.15,299.73 L392.1,301.82 L395.05,303.84 L398,305.8 L400.95,307.7 L403.9,309.53 L406.85,311.31 L409.8,313.03 L412.75,314.71 L415.7,316.33 L418.65,317.91 L421.6,319.44 L424.55,320.93 L427.5,322.38 L430.45,323.79 L433.4,325.17 L436.35,326.51 L439.3,327.81 L442.25,329.08 L445.2,330.33 L448.15,331.54 L451.1,332.72 L454.05,333.87 L457,335 L459.95,336.1 L462.9,337.17 L465.85,338.22 L468.8,339.25 L471.75,340.26 L474.7,341.24 L477.65,342.21 L480.6,343.15 L483.55,344.07 L486.5,344.98 L489.45,345.87 L492.4,346.74 L495.35,347.59 L498.3,348.42 L501.25,349.24 L504.2,350.05 L507.15,350.84 L510.1,351.61 L513.05,352.37 L516,353.12 L518.95,353.85 L521.9,354.57 L524.85,355.28 L527.8,355.97 L530.75,356.66 L533.7,357.33 L536.65,357.99 L539.6,358.64 L542.55,359.28 L545.5,359.91 L548.45,360.52 L551.4,361.13 L554.35,361.73 L557.3,362.32 L560.25,362.9 L563.2,363.47 L566.15,364.03 L569.1,364.59 L572.05,365.13 L575,365.67 L577.95,366.2 L580.9,366.72 L583.85,367.24 L586.8,367.75 L589.75,368.25 L592.7,368.74 L595.65,369.22 L598.6,369.7 L601.55,370.18 L604.5,370.64 L607.45,371.1 L610.4,371.56 L613.35,372.01 L616.3,372.45 L619.25,372.88 L622.2,373.31 L625.15,373.74 L628.1,374.16 L631.05,374.57 L634,374.98 L636.95,375.39 L639.9,375.79 L642.85,376.18 L645.8,376.57 L648.75,376.95 L651.7,377.33 L654.65,377.71 L657.6,378.08 L660.55,378.45 L663.5,378.81 L666.45,379.17 L669.4,379.52 L669.4,389.96 L666.45,389.65 L663.5,389.34 L660.55,389.03 L657.6,388.71 L654.65,388.39 L651.7,388.06 L648.75,387.73 L645.8,387.39 L642.85,387.06 L639.9,386.71 L636.95,386.37 L634,386.01 L631.05,385.66 L628.1,385.3 L625.15,384.93 L622.2,384.56 L619.25,384.19 L616.3,383.81 L613.35,383.43 L610.4,383.04 L607.45,382.64 L604.5,382.24 L601.55,381.84 L598.6,381.43 L595.65,381.01 L592.7,380.59 L589.75,380.16 L586.8,379.72 L583.85,379.28 L580.9,378.84 L577.95,378.38 L575,377.92 L572.05,377.46 L569.1,376.98 L566.15,376.5 L563.2,376.01 L560.25,375.51 L557.3,375.01 L554.35,374.5 L551.4,373.98 L548.45,373.45 L545.5,372.91 L542.55,372.36 L539.6,371.81 L536.65,371.25 L533.7,370.67 L530.75,370.09 L527.8,369.49 L524.85,368.89 L521.9,368.27 L518.95,367.65 L516,367.01 L513.05,366.36 L510.1,365.7 L507.15,365.03 L504.2,364.34 L501.25,363.64 L498.3,362.93 L495.35,362.21 L492.4,361.46 L489.45,360.71 L486.5,359.94 L483.55,359.15 L480.6,358.35 L477.65,357.53 L474.7,356.69 L471.75,355.83 L468.8,354.96 L465.85,354.07 L462.9,353.15 L459.95,352.22 L457,351.26 L454.05,350.28 L451.1,349.28 L448.15,348.25 L445.2,347.2 L442.25,346.12 L439.3,345.02 L436.35,343.88 L433.4,342.72 L430.45,341.52 L427.5,340.3 L424.55,339.04 L421.6,337.74 L418.65,336.41 L415.7,335.04 L412.75,333.62 L409.8,332.17 L406.85,330.67 L403.9,329.13 L400.95,327.53 L398,325.89 L395.05,324.18 L392.1,322.43 L389.15,320.61 L386.2,318.72 L383.25,316.77 L380.3,314.75 L377.35,312.65 L374.4,310.47 L371.45,308.21 L368.5,305.85 Z" fill="#e4e4e4"/>
<polyline points="368.5,294.3 371.45,296.83 374.4,299.27 377.35,301.61 380.3,303.87 383.25,306.05 386.2,308.14 389.15,310.17 392.1,312.12 395.05,314.01 398,315.84 400.95,317.61 403.9,319.33 406.85,320.99 409.8,322.6 412.75,324.16 415.7,325.68 418.65,327.16 421.6,328.59 424.55,329.98 427.5,331.34 430.45,332.66 433.4,333.94 436.35,335.2 439.3,336.41 442.25,337.6 445.2,338.76 448.15,339.89 451.1,341 454.05,342.08 457,343.13 459.95,344.16 462.9,345.16 465.85,346.15 468.8,347.11 471.75,348.05 474.7,348.97 477.65,349.87 480.6,350.75 483.55,351.61 486.5,352.46 489.45,353.29 492.4,354.1 495.35,354.9 498.3,355.68 501.25,356.44 504.2,357.2 507.15,357.93 510.1,358.66 513.05,359.37 516,360.06 518.95,360.75 521.9,361.42 524.85,362.08 527.8,362.73 530.75,363.37 533.7,364 536.65,364.62 539.6,365.22 542.55,365.82 545.5,366.41 548.45,366.99 551.4,367.55 554.35,368.11 557.3,368.67 560.25,369.21 563.2,369.74 566.15,370.27 569.1,370.78 572.05,371.29 575,371.8 577.95,372.29 580.9,372.78 583.85,373.26 586.8,373.73 589.75,374.2 592.7,374.66 595.65,375.12 598.6,375.57 601.55,376.01 604.5,376.44 607.45,376.87 610.4,377.3 613.35,377.72 616.3,378.13 619.25,378.54 622.2,378.94 625.15,379.34 628.1,379.73 631.05,380.12 634,380.5 636.95,380.88 639.9,381.25 642.85,381.62 645.8,381.98 648.75,382.34 651.7,382.7 654.65,383.05 657.6,383.39 660.55,383.74 663.5,384.08 666.45,384.41 669.4,384.74" fill="none" stroke="#222" stroke-width="1.1" stroke-dasharray="5.8,3"/>
<rect x="353.7" y="278.1" width="330" height="181.3" fill="none" stroke="#8a8a8a" stroke-width="0.9"/>
<line x1="353.7" y1="459.4" x2="683.7" y2="459.4" stroke="#444" stroke-width="1" />
<line x1="353.7" y1="278.1" x2="353.7" y2="459.4" stroke="#444" stroke-width="1" />
<line x1="351.4" y1="294.3" x2="353.7" y2="294.3" stroke="#444" stroke-width="0.8" />
<text x="349.6" y="297.8" font-size="9.8" text-anchor="end" font-weight="normal" font-style="normal" fill="#222" textLength="12.2" lengthAdjust="spacingAndGlyphs" >1.0</text>
<line x1="351.4" y1="327.3" x2="353.7" y2="327.3" stroke="#444" stroke-width="0.8" />
<text x="349.6" y="330.8" font-size="9.8" text-anchor="end" font-weight="normal" font-style="normal" fill="#222" textLength="12.2" lengthAdjust="spacingAndGlyphs" >0.8</text>
<line x1="351.4" y1="360.3" x2="353.7" y2="360.3" stroke="#444" stroke-width="0.8" />
<text x="349.6" y="363.8" font-size="9.8" text-anchor="end" font-weight="normal" font-style="normal" fill="#222" textLength="12.2" lengthAdjust="spacingAndGlyphs" >0.6</text>
<line x1="351.4" y1="393.3" x2="353.7" y2="393.3" stroke="#444" stroke-width="0.8" />
<text x="349.6" y="396.8" font-size="9.8" text-anchor="end" font-weight="normal" font-style="normal" fill="#222" textLength="12.2" lengthAdjust="spacingAndGlyphs" >0.4</text>
<line x1="351.4" y1="426.3" x2="353.7" y2="426.3" stroke="#444" stroke-width="0.8" />
<text x="349.6" y="429.8" font-size="9.8" text-anchor="end" font-weight="normal" font-style="normal" fill="#222" textLength="12.2" lengthAdjust="spacingAndGlyphs" >0.2</text>
<line x1="351.4" y1="459.3" x2="353.7" y2="459.3" stroke="#444" stroke-width="0.8" />
<text x="349.6" y="462.8" font-size="9.8" text-anchor="end" font-weight="normal" font-style="normal" fill="#222" textLength="12.2" lengthAdjust="spacingAndGlyphs" >0.0</text>
<line x1="368.5" y1="459.4" x2="368.5" y2="461.5" stroke="#444" stroke-width="0.8" />
<text x="368.5" y="471.9" font-size="9.2" text-anchor="middle" font-weight="normal" font-style="normal" fill="#222" >1</text>
<line x1="427.5" y1="459.4" x2="427.5" y2="461.5" stroke="#444" stroke-width="0.8" />
<text x="427.5" y="471.9" font-size="9.2" text-anchor="middle" font-weight="normal" font-style="normal" fill="#222" >2</text>
<line x1="486.5" y1="459.4" x2="486.5" y2="461.5" stroke="#444" stroke-width="0.8" />
<text x="486.5" y="471.9" font-size="9.2" text-anchor="middle" font-weight="normal" font-style="normal" fill="#222" >3</text>
<line x1="545.5" y1="459.4" x2="545.5" y2="461.5" stroke="#444" stroke-width="0.8" />
<text x="545.5" y="471.9" font-size="9.2" text-anchor="middle" font-weight="normal" font-style="normal" fill="#222" >4</text>
<line x1="604.5" y1="459.4" x2="604.5" y2="461.5" stroke="#444" stroke-width="0.8" />
<text x="604.5" y="471.9" font-size="9.2" text-anchor="middle" font-weight="normal" font-style="normal" fill="#222" >5</text>
<line x1="663.5" y1="459.4" x2="663.5" y2="461.5" stroke="#444" stroke-width="0.8" />
<text x="663.5" y="471.9" font-size="9.2" text-anchor="middle" font-weight="normal" font-style="normal" fill="#222" >6</text>
<text x="508.2" y="481.2" font-size="11.3" fill="#1a1a1a" textLength="33" lengthAdjust="spacingAndGlyphs">SU(<tspan font-style="italic">N</tspan>)</text>
<text x="321.3" y="285" font-size="17" text-anchor="start" font-weight="bold" font-style="normal" fill="#000" >d</text>
<text transform="translate(330.1,451) rotate(-90)" x="0" y="0" font-size="11.6" fill="#1a1a1a" textLength="159.5" lengthAdjust="spacingAndGlyphs">Normalized compressibility <tspan font-style="italic">κ</tspan>/<tspan font-style="italic">κ</tspan><tspan font-size="7.8" dy="2">0</tspan></text>
<line x1="395.4" y1="447.2" x2="395.4" y2="352" stroke="#222" stroke-width="1.2" />
<path d="M395.4,349.8 L393.6,354.6 L397.2,354.6 Z" fill="#222"/>
<line x1="395.4" y1="397.8" x2="566.3" y2="397.8" stroke="#666" stroke-width="1.2" />
<text x="392" y="359" font-size="9.9" text-anchor="end" font-weight="normal" font-style="normal" fill="#222" textLength="15.2" lengthAdjust="spacingAndGlyphs" >200</text>
<text x="392" y="401.3" font-size="9.9" text-anchor="end" font-weight="normal" font-style="normal" fill="#222" >0</text>
<text x="392" y="444.3" font-size="9.9" text-anchor="end" font-weight="normal" font-style="normal" fill="#222" textLength="18" lengthAdjust="spacingAndGlyphs" >-200</text>
<text transform="translate(368.3,456.4) rotate(-90)" x="0" y="0" font-size="9.5" fill="#1a1a1a" text-anchor="start" textLength="107" lengthAdjust="spacingAndGlyphs">Atom number distribution</text>
<text transform="translate(379.9,422.6) rotate(-90)" x="0" y="0" font-size="9.5" fill="#1a1a1a" textLength="41.6" lengthAdjust="spacingAndGlyphs">around <tspan font-style="italic">N</tspan><tspan font-size="6.5" dy="2" font-style="italic">a</tspan></text>
<line x1="372.1" y1="383.2" x2="372.1" y2="388.6" stroke="#1a1a1a" stroke-width="0.6" />
<circle cx="414.8" cy="424.82" r="1.05" fill="#f26b4d" fill-opacity="0.85"/>
<circle cx="418.71" cy="432.18" r="1.05" fill="#f26b4d" fill-opacity="0.85"/>
<circle cx="415.36" cy="392.33" r="1.05" fill="#f26b4d" fill-opacity="0.85"/>
<circle cx="420.15" cy="411.55" r="1.05" fill="#f26b4d" fill-opacity="0.85"/>
<circle cx="416.29" cy="408.31" r="1.05" fill="#f26b4d" fill-opacity="0.85"/>
<circle cx="414.84" cy="379.77" r="1.05" fill="#f26b4d" fill-opacity="0.85"/>
<circle cx="416.84" cy="398.62" r="1.05" fill="#f26b4d" fill-opacity="0.85"/>
<circle cx="415.17" cy="391.51" r="1.05" fill="#f26b4d" fill-opacity="0.85"/>
<circle cx="420.46" cy="377.12" r="1.05" fill="#f26b4d" fill-opacity="0.85"/>
<circle cx="419.4" cy="378.59" r="1.05" fill="#f26b4d" fill-opacity="0.85"/>
<circle cx="414.35" cy="392.25" r="1.05" fill="#f26b4d" fill-opacity="0.85"/>
<circle cx="420.7" cy="406.44" r="1.05" fill="#f26b4d" fill-opacity="0.85"/>
<circle cx="412.38" cy="380.56" r="1.05" fill="#f26b4d" fill-opacity="0.85"/>
<circle cx="413.53" cy="406.62" r="1.05" fill="#f26b4d" fill-opacity="0.85"/>
<circle cx="419.92" cy="398.49" r="1.05" fill="#f26b4d" fill-opacity="0.85"/>
<circle cx="417" cy="371.81" r="1.05" fill="#f26b4d" fill-opacity="0.85"/>
<circle cx="415.77" cy="390.06" r="1.05" fill="#f26b4d" fill-opacity="0.85"/>
<circle cx="417.3" cy="428.89" r="1.05" fill="#f26b4d" fill-opacity="0.85"/>
<circle cx="412.57" cy="423.07" r="1.05" fill="#f26b4d" fill-opacity="0.85"/>
<circle cx="418.16" cy="427.45" r="1.05" fill="#f26b4d" fill-opacity="0.85"/>
<circle cx="419.89" cy="380.43" r="1.05" fill="#f26b4d" fill-opacity="0.85"/>
<circle cx="412.04" cy="417.61" r="1.05" fill="#f26b4d" fill-opacity="0.85"/>
<circle cx="419.6" cy="401.18" r="1.05" fill="#f26b4d" fill-opacity="0.85"/>
<circle cx="413.09" cy="359.62" r="1.05" fill="#f26b4d" fill-opacity="0.85"/>
<circle cx="413.13" cy="391.97" r="1.05" fill="#f26b4d" fill-opacity="0.85"/>
<circle cx="416.99" cy="432.32" r="1.05" fill="#f26b4d" fill-opacity="0.85"/>
<circle cx="415.64" cy="376.75" r="1.05" fill="#f26b4d" fill-opacity="0.85"/>
<circle cx="416.48" cy="389.37" r="1.05" fill="#f26b4d" fill-opacity="0.85"/>
<circle cx="419.64" cy="391.34" r="1.05" fill="#f26b4d" fill-opacity="0.85"/>
<circle cx="419.11" cy="381.48" r="1.05" fill="#f26b4d" fill-opacity="0.85"/>
<circle cx="416.56" cy="406.81" r="1.05" fill="#f26b4d" fill-opacity="0.85"/>
<circle cx="420.67" cy="378.21" r="1.05" fill="#f26b4d" fill-opacity="0.85"/>
<circle cx="418.62" cy="370.6" r="1.05" fill="#f26b4d" fill-opacity="0.85"/>
<circle cx="419.87" cy="409.42" r="1.05" fill="#f26b4d" fill-opacity="0.85"/>
<circle cx="417" cy="402.8" r="1.05" fill="#f26b4d" fill-opacity="0.85"/>
<circle cx="420.83" cy="399.29" r="1.05" fill="#f26b4d" fill-opacity="0.85"/>
<circle cx="418.93" cy="403.11" r="1.05" fill="#f26b4d" fill-opacity="0.85"/>
<circle cx="413.05" cy="380.13" r="1.05" fill="#f26b4d" fill-opacity="0.85"/>
<circle cx="420.06" cy="432.36" r="1.05" fill="#f26b4d" fill-opacity="0.85"/>
<circle cx="415.38" cy="434.69" r="1.05" fill="#f26b4d" fill-opacity="0.85"/>
<circle cx="411.97" cy="398.72" r="1.05" fill="#f26b4d" fill-opacity="0.85"/>
<circle cx="412.78" cy="427.66" r="1.05" fill="#f26b4d" fill-opacity="0.85"/>
<circle cx="414.85" cy="414.39" r="1.05" fill="#f26b4d" fill-opacity="0.85"/>
<circle cx="414.22" cy="390.84" r="1.05" fill="#f26b4d" fill-opacity="0.85"/>
<circle cx="420.95" cy="403.13" r="1.05" fill="#f26b4d" fill-opacity="0.85"/>
<circle cx="420.22" cy="375.73" r="1.05" fill="#f26b4d" fill-opacity="0.85"/>
<circle cx="414.71" cy="390.63" r="1.05" fill="#f26b4d" fill-opacity="0.85"/>
<circle cx="417.77" cy="362.65" r="1.05" fill="#f26b4d" fill-opacity="0.85"/>
<circle cx="421.44" cy="393.46" r="1.05" fill="#f26b4d" fill-opacity="0.85"/>
<circle cx="412.28" cy="415.76" r="1.05" fill="#f26b4d" fill-opacity="0.85"/>
<circle cx="412.81" cy="415.5" r="1.05" fill="#f26b4d" fill-opacity="0.85"/>
<circle cx="415.89" cy="396.02" r="1.05" fill="#f26b4d" fill-opacity="0.85"/>
<circle cx="421.47" cy="403.01" r="1.05" fill="#f26b4d" fill-opacity="0.85"/>
<circle cx="411.74" cy="416.73" r="1.05" fill="#f26b4d" fill-opacity="0.85"/>
<circle cx="414.35" cy="427.58" r="1.05" fill="#f26b4d" fill-opacity="0.85"/>
<circle cx="414.63" cy="410.22" r="1.05" fill="#f26b4d" fill-opacity="0.85"/>
<circle cx="418.51" cy="369.98" r="1.05" fill="#f26b4d" fill-opacity="0.85"/>
<circle cx="414.62" cy="387.88" r="1.05" fill="#f26b4d" fill-opacity="0.85"/>
<circle cx="419.14" cy="385.83" r="1.05" fill="#f26b4d" fill-opacity="0.85"/>
<circle cx="416.4" cy="364.75" r="1.05" fill="#f26b4d" fill-opacity="0.85"/>
<circle cx="416.32" cy="398.46" r="1.05" fill="#f26b4d" fill-opacity="0.85"/>
<circle cx="416.35" cy="406.69" r="1.05" fill="#f26b4d" fill-opacity="0.85"/>
<circle cx="417.91" cy="418.6" r="1.05" fill="#f26b4d" fill-opacity="0.85"/>
<circle cx="420.64" cy="426.76" r="1.05" fill="#f26b4d" fill-opacity="0.85"/>
<circle cx="416.58" cy="364.86" r="1.05" fill="#f26b4d" fill-opacity="0.85"/>
<circle cx="413.33" cy="394.8" r="1.05" fill="#f26b4d" fill-opacity="0.85"/>
<circle cx="421.74" cy="438.91" r="1.05" fill="#f26b4d" fill-opacity="0.85"/>
<circle cx="412.66" cy="422.39" r="1.05" fill="#f26b4d" fill-opacity="0.85"/>
<circle cx="415.13" cy="400.88" r="1.05" fill="#f26b4d" fill-opacity="0.85"/>
<circle cx="417.72" cy="435.2" r="1.05" fill="#f26b4d" fill-opacity="0.85"/>
<circle cx="415.02" cy="430" r="1.05" fill="#f26b4d" fill-opacity="0.85"/>
<circle cx="420.95" cy="390.21" r="1.05" fill="#f26b4d" fill-opacity="0.85"/>
<circle cx="413.33" cy="418" r="1.05" fill="#f26b4d" fill-opacity="0.85"/>
<circle cx="421.54" cy="362.05" r="1.05" fill="#f26b4d" fill-opacity="0.85"/>
<circle cx="412.16" cy="376.09" r="1.05" fill="#f26b4d" fill-opacity="0.85"/>
<circle cx="417.15" cy="392.67" r="1.05" fill="#f26b4d" fill-opacity="0.85"/>
<circle cx="421.24" cy="418.43" r="1.05" fill="#f26b4d" fill-opacity="0.85"/>
<circle cx="421.89" cy="414.09" r="1.05" fill="#f26b4d" fill-opacity="0.85"/>
<circle cx="417.06" cy="417.68" r="1.05" fill="#f26b4d" fill-opacity="0.85"/>
<circle cx="411.77" cy="395.1" r="1.05" fill="#f26b4d" fill-opacity="0.85"/>
<circle cx="421.34" cy="397.34" r="1.05" fill="#f26b4d" fill-opacity="0.85"/>
<circle cx="415.25" cy="430.67" r="1.05" fill="#f26b4d" fill-opacity="0.85"/>
<circle cx="417.51" cy="376.51" r="1.05" fill="#f26b4d" fill-opacity="0.85"/>
<circle cx="420.62" cy="398.12" r="1.05" fill="#f26b4d" fill-opacity="0.85"/>
<circle cx="411.69" cy="428.91" r="1.05" fill="#f26b4d" fill-opacity="0.85"/>
<circle cx="457.04" cy="384.7" r="1.05" fill="#f26b4d" fill-opacity="0.85"/>
<circle cx="456.88" cy="412.67" r="1.05" fill="#f26b4d" fill-opacity="0.85"/>
<circle cx="461.22" cy="394.15" r="1.05" fill="#f26b4d" fill-opacity="0.85"/>
<circle cx="463.16" cy="392.51" r="1.05" fill="#f26b4d" fill-opacity="0.85"/>
<circle cx="455.36" cy="393.42" r="1.05" fill="#f26b4d" fill-opacity="0.85"/>
<circle cx="456.02" cy="384.89" r="1.05" fill="#f26b4d" fill-opacity="0.85"/>
<circle cx="455.42" cy="424.9" r="1.05" fill="#f26b4d" fill-opacity="0.85"/>
<circle cx="458.92" cy="397.62" r="1.05" fill="#f26b4d" fill-opacity="0.85"/>
<circle cx="462.01" cy="391.54" r="1.05" fill="#f26b4d" fill-opacity="0.85"/>
<circle cx="459.6" cy="395.17" r="1.05" fill="#f26b4d" fill-opacity="0.85"/>
<circle cx="463.73" cy="415.91" r="1.05" fill="#f26b4d" fill-opacity="0.85"/>
<circle cx="461.42" cy="384.06" r="1.05" fill="#f26b4d" fill-opacity="0.85"/>
<circle cx="458.46" cy="372.73" r="1.05" fill="#f26b4d" fill-opacity="0.85"/>
<circle cx="459.84" cy="403.81" r="1.05" fill="#f26b4d" fill-opacity="0.85"/>
<circle cx="462.6" cy="389.87" r="1.05" fill="#f26b4d" fill-opacity="0.85"/>
<circle cx="454.93" cy="378.91" r="1.05" fill="#f26b4d" fill-opacity="0.85"/>
<circle cx="456.05" cy="393.47" r="1.05" fill="#f26b4d" fill-opacity="0.85"/>
<circle cx="463.18" cy="389.09" r="1.05" fill="#f26b4d" fill-opacity="0.85"/>
<circle cx="458.49" cy="401.57" r="1.05" fill="#f26b4d" fill-opacity="0.85"/>
<circle cx="460.14" cy="396.97" r="1.05" fill="#f26b4d" fill-opacity="0.85"/>
<circle cx="455.55" cy="398.49" r="1.05" fill="#f26b4d" fill-opacity="0.85"/>
<circle cx="461.26" cy="405.79" r="1.05" fill="#f26b4d" fill-opacity="0.85"/>
<circle cx="462.13" cy="406.49" r="1.05" fill="#f26b4d" fill-opacity="0.85"/>
<circle cx="462.63" cy="404.84" r="1.05" fill="#f26b4d" fill-opacity="0.85"/>
<circle cx="454.75" cy="391.71" r="1.05" fill="#f26b4d" fill-opacity="0.85"/>
<circle cx="461.64" cy="386.39" r="1.05" fill="#f26b4d" fill-opacity="0.85"/>
<circle cx="454.87" cy="389.68" r="1.05" fill="#f26b4d" fill-opacity="0.85"/>
<circle cx="458.67" cy="399.61" r="1.05" fill="#f26b4d" fill-opacity="0.85"/>
<circle cx="463.72" cy="417.91" r="1.05" fill="#f26b4d" fill-opacity="0.85"/>
<circle cx="456.63" cy="418.58" r="1.05" fill="#f26b4d" fill-opacity="0.85"/>
<circle cx="455.69" cy="408.49" r="1.05" fill="#f26b4d" fill-opacity="0.85"/>
<circle cx="456.75" cy="414.35" r="1.05" fill="#f26b4d" fill-opacity="0.85"/>
<circle cx="457.68" cy="391.15" r="1.05" fill="#f26b4d" fill-opacity="0.85"/>
<circle cx="456.19" cy="413.59" r="1.05" fill="#f26b4d" fill-opacity="0.85"/>
<circle cx="458.4" cy="393.92" r="1.05" fill="#f26b4d" fill-opacity="0.85"/>
<circle cx="462.03" cy="385.37" r="1.05" fill="#f26b4d" fill-opacity="0.85"/>
<circle cx="456.4" cy="414.93" r="1.05" fill="#f26b4d" fill-opacity="0.85"/>
<circle cx="458.87" cy="410.55" r="1.05" fill="#f26b4d" fill-opacity="0.85"/>
<circle cx="463.15" cy="417.62" r="1.05" fill="#f26b4d" fill-opacity="0.85"/>
<circle cx="460.86" cy="413.24" r="1.05" fill="#f26b4d" fill-opacity="0.85"/>
<circle cx="458.11" cy="412.29" r="1.05" fill="#f26b4d" fill-opacity="0.85"/>
<circle cx="461.68" cy="412.89" r="1.05" fill="#f26b4d" fill-opacity="0.85"/>
<circle cx="459.05" cy="375.52" r="1.05" fill="#f26b4d" fill-opacity="0.85"/>
<circle cx="460.31" cy="401.92" r="1.05" fill="#f26b4d" fill-opacity="0.85"/>
<circle cx="458.59" cy="404.54" r="1.05" fill="#f26b4d" fill-opacity="0.85"/>
<circle cx="459.76" cy="413.41" r="1.05" fill="#f26b4d" fill-opacity="0.85"/>
<circle cx="462.95" cy="417.13" r="1.05" fill="#f26b4d" fill-opacity="0.85"/>
<circle cx="457.72" cy="397.38" r="1.05" fill="#f26b4d" fill-opacity="0.85"/>
<circle cx="456.75" cy="381.24" r="1.05" fill="#f26b4d" fill-opacity="0.85"/>
<circle cx="456.98" cy="380.04" r="1.05" fill="#f26b4d" fill-opacity="0.85"/>
<circle cx="461.05" cy="412.95" r="1.05" fill="#f26b4d" fill-opacity="0.85"/>
<circle cx="463.34" cy="397.93" r="1.05" fill="#f26b4d" fill-opacity="0.85"/>
<circle cx="458.72" cy="380.64" r="1.05" fill="#f26b4d" fill-opacity="0.85"/>
<circle cx="456.57" cy="373.4" r="1.05" fill="#f26b4d" fill-opacity="0.85"/>
<circle cx="457.88" cy="403.48" r="1.05" fill="#f26b4d" fill-opacity="0.85"/>
<circle cx="457.52" cy="397.45" r="1.05" fill="#f26b4d" fill-opacity="0.85"/>
<circle cx="459.08" cy="397.31" r="1.05" fill="#f26b4d" fill-opacity="0.85"/>
<circle cx="463.25" cy="376.84" r="1.05" fill="#f26b4d" fill-opacity="0.85"/>
<circle cx="460.86" cy="403.77" r="1.05" fill="#f26b4d" fill-opacity="0.85"/>
<circle cx="455.04" cy="398.05" r="1.05" fill="#f26b4d" fill-opacity="0.85"/>
<circle cx="458.67" cy="416.06" r="1.05" fill="#f26b4d" fill-opacity="0.85"/>
<circle cx="460.52" cy="401.1" r="1.05" fill="#f26b4d" fill-opacity="0.85"/>
<circle cx="456.56" cy="407.59" r="1.05" fill="#f26b4d" fill-opacity="0.85"/>
<circle cx="463.53" cy="385.82" r="1.05" fill="#f26b4d" fill-opacity="0.85"/>
<circle cx="457.99" cy="384.33" r="1.05" fill="#f26b4d" fill-opacity="0.85"/>
<circle cx="457.12" cy="385.17" r="1.05" fill="#f26b4d" fill-opacity="0.85"/>
<circle cx="461.87" cy="409.36" r="1.05" fill="#f26b4d" fill-opacity="0.85"/>
<circle cx="457.65" cy="398.29" r="1.05" fill="#f26b4d" fill-opacity="0.85"/>
<circle cx="462.82" cy="393.91" r="1.05" fill="#f26b4d" fill-opacity="0.85"/>
<circle cx="457.45" cy="397.98" r="1.05" fill="#f26b4d" fill-opacity="0.85"/>
<circle cx="460.31" cy="400.6" r="1.05" fill="#f26b4d" fill-opacity="0.85"/>
<circle cx="461.87" cy="391.28" r="1.05" fill="#f26b4d" fill-opacity="0.85"/>
<circle cx="458.29" cy="382.5" r="1.05" fill="#f26b4d" fill-opacity="0.85"/>
<circle cx="458.73" cy="395.63" r="1.05" fill="#f26b4d" fill-opacity="0.85"/>
<circle cx="463.81" cy="381.66" r="1.05" fill="#f26b4d" fill-opacity="0.85"/>
<circle cx="461.47" cy="395.45" r="1.05" fill="#f26b4d" fill-opacity="0.85"/>
<circle cx="455.02" cy="390.12" r="1.05" fill="#f26b4d" fill-opacity="0.85"/>
<circle cx="462.34" cy="388.16" r="1.05" fill="#f26b4d" fill-opacity="0.85"/>
<circle cx="457.58" cy="379.26" r="1.05" fill="#f26b4d" fill-opacity="0.85"/>
<circle cx="457.16" cy="414.25" r="1.05" fill="#f26b4d" fill-opacity="0.85"/>
<circle cx="497.97" cy="392.12" r="1.05" fill="#f26b4d" fill-opacity="0.85"/>
<circle cx="500.66" cy="395.82" r="1.05" fill="#f26b4d" fill-opacity="0.85"/>
<circle cx="506.02" cy="401.04" r="1.05" fill="#f26b4d" fill-opacity="0.85"/>
<circle cx="505.38" cy="398.36" r="1.05" fill="#f26b4d" fill-opacity="0.85"/>
<circle cx="501.31" cy="397.15" r="1.05" fill="#f26b4d" fill-opacity="0.85"/>
<circle cx="498.74" cy="395.24" r="1.05" fill="#f26b4d" fill-opacity="0.85"/>
<circle cx="504.43" cy="380" r="1.05" fill="#f26b4d" fill-opacity="0.85"/>
<circle cx="504.45" cy="399.19" r="1.05" fill="#f26b4d" fill-opacity="0.85"/>
<circle cx="498.58" cy="399.13" r="1.05" fill="#f26b4d" fill-opacity="0.85"/>
<circle cx="504.88" cy="403.75" r="1.05" fill="#f26b4d" fill-opacity="0.85"/>
<circle cx="499.77" cy="387.41" r="1.05" fill="#f26b4d" fill-opacity="0.85"/>
<circle cx="505" cy="404.45" r="1.05" fill="#f26b4d" fill-opacity="0.85"/>
<circle cx="497.82" cy="404.08" r="1.05" fill="#f26b4d" fill-opacity="0.85"/>
<circle cx="506.06" cy="383.22" r="1.05" fill="#f26b4d" fill-opacity="0.85"/>
<circle cx="504.53" cy="406.74" r="1.05" fill="#f26b4d" fill-opacity="0.85"/>
<circle cx="502.68" cy="415.2" r="1.05" fill="#f26b4d" fill-opacity="0.85"/>
<circle cx="505.59" cy="396.59" r="1.05" fill="#f26b4d" fill-opacity="0.85"/>
<circle cx="505.89" cy="412.5" r="1.05" fill="#f26b4d" fill-opacity="0.85"/>
<circle cx="499.7" cy="406.22" r="1.05" fill="#f26b4d" fill-opacity="0.85"/>
<circle cx="500.53" cy="381.74" r="1.05" fill="#f26b4d" fill-opacity="0.85"/>
<circle cx="498.31" cy="393.2" r="1.05" fill="#f26b4d" fill-opacity="0.85"/>
<circle cx="506.18" cy="400.08" r="1.05" fill="#f26b4d" fill-opacity="0.85"/>
<circle cx="501.97" cy="394.39" r="1.05" fill="#f26b4d" fill-opacity="0.85"/>
<circle cx="504.24" cy="386.43" r="1.05" fill="#f26b4d" fill-opacity="0.85"/>
<circle cx="500.63" cy="383.87" r="1.05" fill="#f26b4d" fill-opacity="0.85"/>
<circle cx="503.7" cy="406.55" r="1.05" fill="#f26b4d" fill-opacity="0.85"/>
<circle cx="505.26" cy="390.93" r="1.05" fill="#f26b4d" fill-opacity="0.85"/>
<circle cx="503.99" cy="416.09" r="1.05" fill="#f26b4d" fill-opacity="0.85"/>
<circle cx="502.62" cy="387.16" r="1.05" fill="#f26b4d" fill-opacity="0.85"/>
<circle cx="498.45" cy="405.06" r="1.05" fill="#f26b4d" fill-opacity="0.85"/>
<circle cx="498.62" cy="396.07" r="1.05" fill="#f26b4d" fill-opacity="0.85"/>
<circle cx="498.21" cy="402.75" r="1.05" fill="#f26b4d" fill-opacity="0.85"/>
<circle cx="503.82" cy="396.38" r="1.05" fill="#f26b4d" fill-opacity="0.85"/>
<circle cx="499.53" cy="384.26" r="1.05" fill="#f26b4d" fill-opacity="0.85"/>
<circle cx="503.86" cy="404.37" r="1.05" fill="#f26b4d" fill-opacity="0.85"/>
<circle cx="499.71" cy="385.65" r="1.05" fill="#f26b4d" fill-opacity="0.85"/>
<circle cx="502.54" cy="391.75" r="1.05" fill="#f26b4d" fill-opacity="0.85"/>
<circle cx="499.05" cy="402.86" r="1.05" fill="#f26b4d" fill-opacity="0.85"/>
<circle cx="505.06" cy="382.35" r="1.05" fill="#f26b4d" fill-opacity="0.85"/>
<circle cx="499.25" cy="380.84" r="1.05" fill="#f26b4d" fill-opacity="0.85"/>
<circle cx="500.02" cy="394.52" r="1.05" fill="#f26b4d" fill-opacity="0.85"/>
<circle cx="500.34" cy="397.8" r="1.05" fill="#f26b4d" fill-opacity="0.85"/>
<circle cx="502.34" cy="376.22" r="1.05" fill="#f26b4d" fill-opacity="0.85"/>
<circle cx="502.65" cy="400.5" r="1.05" fill="#f26b4d" fill-opacity="0.85"/>
<circle cx="503.16" cy="382.91" r="1.05" fill="#f26b4d" fill-opacity="0.85"/>
<circle cx="500.88" cy="389.06" r="1.05" fill="#f26b4d" fill-opacity="0.85"/>
<circle cx="497.81" cy="415.6" r="1.05" fill="#f26b4d" fill-opacity="0.85"/>
<circle cx="498.86" cy="395.83" r="1.05" fill="#f26b4d" fill-opacity="0.85"/>
<circle cx="498.74" cy="400.54" r="1.05" fill="#f26b4d" fill-opacity="0.85"/>
<circle cx="498.9" cy="412.43" r="1.05" fill="#f26b4d" fill-opacity="0.85"/>
<circle cx="497.97" cy="396.89" r="1.05" fill="#f26b4d" fill-opacity="0.85"/>
<circle cx="499.97" cy="398.04" r="1.05" fill="#f26b4d" fill-opacity="0.85"/>
<circle cx="501.01" cy="398.2" r="1.05" fill="#f26b4d" fill-opacity="0.85"/>
<circle cx="499.98" cy="398.68" r="1.05" fill="#f26b4d" fill-opacity="0.85"/>
<circle cx="499.85" cy="393.35" r="1.05" fill="#f26b4d" fill-opacity="0.85"/>
<circle cx="500.82" cy="407.24" r="1.05" fill="#f26b4d" fill-opacity="0.85"/>
<circle cx="500.52" cy="416.92" r="1.05" fill="#f26b4d" fill-opacity="0.85"/>
<circle cx="504" cy="400.29" r="1.05" fill="#f26b4d" fill-opacity="0.85"/>
<circle cx="501.94" cy="405.29" r="1.05" fill="#f26b4d" fill-opacity="0.85"/>
<circle cx="505.36" cy="398.13" r="1.05" fill="#f26b4d" fill-opacity="0.85"/>
<circle cx="501.64" cy="403.13" r="1.05" fill="#f26b4d" fill-opacity="0.85"/>
<circle cx="505.29" cy="415.79" r="1.05" fill="#f26b4d" fill-opacity="0.85"/>
<circle cx="498.83" cy="385.16" r="1.05" fill="#f26b4d" fill-opacity="0.85"/>
<circle cx="498.79" cy="397.91" r="1.05" fill="#f26b4d" fill-opacity="0.85"/>
<circle cx="500.48" cy="386.98" r="1.05" fill="#f26b4d" fill-opacity="0.85"/>
<circle cx="503.08" cy="387.88" r="1.05" fill="#f26b4d" fill-opacity="0.85"/>
<circle cx="503.01" cy="395.28" r="1.05" fill="#f26b4d" fill-opacity="0.85"/>
<circle cx="497.94" cy="400.62" r="1.05" fill="#f26b4d" fill-opacity="0.85"/>
<circle cx="504.84" cy="412.33" r="1.05" fill="#f26b4d" fill-opacity="0.85"/>
<circle cx="498.44" cy="381.71" r="1.05" fill="#f26b4d" fill-opacity="0.85"/>
<circle cx="504.26" cy="402.35" r="1.05" fill="#f26b4d" fill-opacity="0.85"/>
<circle cx="499.48" cy="406.13" r="1.05" fill="#f26b4d" fill-opacity="0.85"/>
<circle cx="505.02" cy="405.95" r="1.05" fill="#f26b4d" fill-opacity="0.85"/>
<circle cx="501" cy="380.84" r="1.05" fill="#f26b4d" fill-opacity="0.85"/>
<circle cx="505.66" cy="397.17" r="1.05" fill="#f26b4d" fill-opacity="0.85"/>
<circle cx="503.46" cy="411.04" r="1.05" fill="#f26b4d" fill-opacity="0.85"/>
<circle cx="499.76" cy="394.62" r="1.05" fill="#f26b4d" fill-opacity="0.85"/>
<circle cx="504.49" cy="401.11" r="1.05" fill="#f26b4d" fill-opacity="0.85"/>
<circle cx="499.35" cy="403.3" r="1.05" fill="#f26b4d" fill-opacity="0.85"/>
<circle cx="503.18" cy="404.09" r="1.05" fill="#f26b4d" fill-opacity="0.85"/>
<circle cx="545.9" cy="381.01" r="1.05" fill="#f26b4d" fill-opacity="0.85"/>
<circle cx="546.82" cy="394.08" r="1.05" fill="#f26b4d" fill-opacity="0.85"/>
<circle cx="542.48" cy="391.74" r="1.05" fill="#f26b4d" fill-opacity="0.85"/>
<circle cx="542.73" cy="395.45" r="1.05" fill="#f26b4d" fill-opacity="0.85"/>
<circle cx="541.98" cy="403.08" r="1.05" fill="#f26b4d" fill-opacity="0.85"/>
<circle cx="547.89" cy="399.96" r="1.05" fill="#f26b4d" fill-opacity="0.85"/>
<circle cx="546.05" cy="401.29" r="1.05" fill="#f26b4d" fill-opacity="0.85"/>
<circle cx="545.53" cy="399.45" r="1.05" fill="#f26b4d" fill-opacity="0.85"/>
<circle cx="545.04" cy="400" r="1.05" fill="#f26b4d" fill-opacity="0.85"/>
<circle cx="545.33" cy="397.09" r="1.05" fill="#f26b4d" fill-opacity="0.85"/>
<circle cx="545.61" cy="408.55" r="1.05" fill="#f26b4d" fill-opacity="0.85"/>
<circle cx="542.72" cy="403.16" r="1.05" fill="#f26b4d" fill-opacity="0.85"/>
<circle cx="545.51" cy="389.33" r="1.05" fill="#f26b4d" fill-opacity="0.85"/>
<circle cx="548.37" cy="395.15" r="1.05" fill="#f26b4d" fill-opacity="0.85"/>
<circle cx="543.96" cy="387.67" r="1.05" fill="#f26b4d" fill-opacity="0.85"/>
<circle cx="547.52" cy="401.13" r="1.05" fill="#f26b4d" fill-opacity="0.85"/>
<circle cx="548.7" cy="397.72" r="1.05" fill="#f26b4d" fill-opacity="0.85"/>
<circle cx="546.53" cy="386.62" r="1.05" fill="#f26b4d" fill-opacity="0.85"/>
<circle cx="545.91" cy="391.12" r="1.05" fill="#f26b4d" fill-opacity="0.85"/>
<circle cx="546.88" cy="398.67" r="1.05" fill="#f26b4d" fill-opacity="0.85"/>
<circle cx="544.32" cy="406.64" r="1.05" fill="#f26b4d" fill-opacity="0.85"/>
<circle cx="542.65" cy="397.61" r="1.05" fill="#f26b4d" fill-opacity="0.85"/>
<circle cx="546.48" cy="390.95" r="1.05" fill="#f26b4d" fill-opacity="0.85"/>
<circle cx="544.71" cy="385.27" r="1.05" fill="#f26b4d" fill-opacity="0.85"/>
<circle cx="546.6" cy="402.05" r="1.05" fill="#f26b4d" fill-opacity="0.85"/>
<circle cx="548.72" cy="410.85" r="1.05" fill="#f26b4d" fill-opacity="0.85"/>
<circle cx="542.91" cy="396.4" r="1.05" fill="#f26b4d" fill-opacity="0.85"/>
<circle cx="546.15" cy="397.04" r="1.05" fill="#f26b4d" fill-opacity="0.85"/>
<circle cx="544.38" cy="395.35" r="1.05" fill="#f26b4d" fill-opacity="0.85"/>
<circle cx="544.56" cy="397.93" r="1.05" fill="#f26b4d" fill-opacity="0.85"/>
<circle cx="545.06" cy="395.15" r="1.05" fill="#f26b4d" fill-opacity="0.85"/>
<circle cx="544.67" cy="400.02" r="1.05" fill="#f26b4d" fill-opacity="0.85"/>
<circle cx="541.36" cy="400.6" r="1.05" fill="#f26b4d" fill-opacity="0.85"/>
<circle cx="543.59" cy="404.14" r="1.05" fill="#f26b4d" fill-opacity="0.85"/>
<circle cx="544.8" cy="388.71" r="1.05" fill="#f26b4d" fill-opacity="0.85"/>
<circle cx="541.87" cy="395.01" r="1.05" fill="#f26b4d" fill-opacity="0.85"/>
<circle cx="540.95" cy="388.77" r="1.05" fill="#f26b4d" fill-opacity="0.85"/>
<circle cx="543.05" cy="392.31" r="1.05" fill="#f26b4d" fill-opacity="0.85"/>
<circle cx="546.74" cy="402.13" r="1.05" fill="#f26b4d" fill-opacity="0.85"/>
<circle cx="544.75" cy="396.73" r="1.05" fill="#f26b4d" fill-opacity="0.85"/>
<circle cx="541.86" cy="395.72" r="1.05" fill="#f26b4d" fill-opacity="0.85"/>
<circle cx="542.45" cy="391.01" r="1.05" fill="#f26b4d" fill-opacity="0.85"/>
<circle cx="543.88" cy="402.43" r="1.05" fill="#f26b4d" fill-opacity="0.85"/>
<circle cx="548.53" cy="386.78" r="1.05" fill="#f26b4d" fill-opacity="0.85"/>
<circle cx="548.51" cy="400.4" r="1.05" fill="#f26b4d" fill-opacity="0.85"/>
<circle cx="545.94" cy="384.06" r="1.05" fill="#f26b4d" fill-opacity="0.85"/>
<circle cx="543.48" cy="388.08" r="1.05" fill="#f26b4d" fill-opacity="0.85"/>
<circle cx="541.09" cy="406.04" r="1.05" fill="#f26b4d" fill-opacity="0.85"/>
<circle cx="545.46" cy="393.9" r="1.05" fill="#f26b4d" fill-opacity="0.85"/>
<circle cx="541.33" cy="396.26" r="1.05" fill="#f26b4d" fill-opacity="0.85"/>
<circle cx="545.94" cy="388.76" r="1.05" fill="#f26b4d" fill-opacity="0.85"/>
<circle cx="543.07" cy="403.18" r="1.05" fill="#f26b4d" fill-opacity="0.85"/>
<circle cx="543" cy="392.73" r="1.05" fill="#f26b4d" fill-opacity="0.85"/>
<circle cx="547.95" cy="397.59" r="1.05" fill="#f26b4d" fill-opacity="0.85"/>
<circle cx="544.7" cy="402.77" r="1.05" fill="#f26b4d" fill-opacity="0.85"/>
<circle cx="548.65" cy="400.61" r="1.05" fill="#f26b4d" fill-opacity="0.85"/>
<circle cx="547.17" cy="400.15" r="1.05" fill="#f26b4d" fill-opacity="0.85"/>
<circle cx="541.4" cy="384.49" r="1.05" fill="#f26b4d" fill-opacity="0.85"/>
<circle cx="546.5" cy="403.67" r="1.05" fill="#f26b4d" fill-opacity="0.85"/>
<circle cx="547.15" cy="408.95" r="1.05" fill="#f26b4d" fill-opacity="0.85"/>
<circle cx="543.66" cy="407.79" r="1.05" fill="#f26b4d" fill-opacity="0.85"/>
<circle cx="547.31" cy="399.48" r="1.05" fill="#f26b4d" fill-opacity="0.85"/>
<circle cx="544.62" cy="396.28" r="1.05" fill="#f26b4d" fill-opacity="0.85"/>
<circle cx="544.77" cy="401.07" r="1.05" fill="#f26b4d" fill-opacity="0.85"/>
<circle cx="541.2" cy="404.88" r="1.05" fill="#f26b4d" fill-opacity="0.85"/>
<circle cx="545.39" cy="410.48" r="1.05" fill="#f26b4d" fill-opacity="0.85"/>
<circle cx="547.71" cy="401.84" r="1.05" fill="#f26b4d" fill-opacity="0.85"/>
<circle cx="544.55" cy="403.93" r="1.05" fill="#f26b4d" fill-opacity="0.85"/>
<circle cx="541.66" cy="394.98" r="1.05" fill="#f26b4d" fill-opacity="0.85"/>
<circle cx="546.59" cy="385.55" r="1.05" fill="#f26b4d" fill-opacity="0.85"/>
<circle cx="547.69" cy="395.88" r="1.05" fill="#f26b4d" fill-opacity="0.85"/>
<circle cx="548.43" cy="394.37" r="1.05" fill="#f26b4d" fill-opacity="0.85"/>
<circle cx="547.77" cy="395.06" r="1.05" fill="#f26b4d" fill-opacity="0.85"/>
<circle cx="542.12" cy="396.77" r="1.05" fill="#f26b4d" fill-opacity="0.85"/>
<circle cx="544.9" cy="400.83" r="1.05" fill="#f26b4d" fill-opacity="0.85"/>
<circle cx="545.46" cy="387.77" r="1.05" fill="#f26b4d" fill-opacity="0.85"/>
<circle cx="541.93" cy="398.73" r="1.05" fill="#f26b4d" fill-opacity="0.85"/>
<circle cx="546.54" cy="389.81" r="1.05" fill="#f26b4d" fill-opacity="0.85"/>
<circle cx="547.47" cy="394.89" r="1.05" fill="#f26b4d" fill-opacity="0.85"/>
<circle cx="548.31" cy="385.65" r="1.05" fill="#f26b4d" fill-opacity="0.85"/>
<text x="405.8" y="452.5" font-size="8.8" text-anchor="start" font-weight="normal" font-style="normal" fill="#1a1a1a" textLength="23.2" lengthAdjust="spacingAndGlyphs" >SU(1)</text>
<text x="460.4" y="435.3" font-size="8.8" text-anchor="middle" font-weight="normal" font-style="normal" fill="#1a1a1a" >SU(2)</text>
<text x="502" y="429.4" font-size="8.8" text-anchor="middle" font-weight="normal" font-style="normal" fill="#1a1a1a" >SU(5)</text>
<text x="544.8" y="421.1" font-size="8.8" text-anchor="middle" font-weight="normal" font-style="normal" fill="#1a1a1a" >SU(6)</text>
<line x1="368.5" y1="283.9" x2="368.5" y2="304.3" stroke="#999" stroke-width="1.8" />
<circle cx="368.5" cy="294.1" r="3.8" fill="#7a7a7a" stroke="#444" stroke-width="0.8"/>
<line x1="427.5" y1="345.7" x2="427.5" y2="358.1" stroke="#999" stroke-width="1.8" />
<circle cx="427.5" cy="351.9" r="3.8" fill="#7a7a7a" stroke="#444" stroke-width="0.8"/>
<line x1="604.5" y1="375.6" x2="604.5" y2="381.6" stroke="#999" stroke-width="1.8" />
<circle cx="604.5" cy="378.6" r="3.8" fill="#7a7a7a" stroke="#444" stroke-width="0.8"/>
<line x1="663.5" y1="380.9" x2="663.5" y2="386.9" stroke="#999" stroke-width="1.8" />
<circle cx="663.5" cy="383.9" r="3.8" fill="#7a7a7a" stroke="#444" stroke-width="0.8"/>
</svg>
</body></html>
